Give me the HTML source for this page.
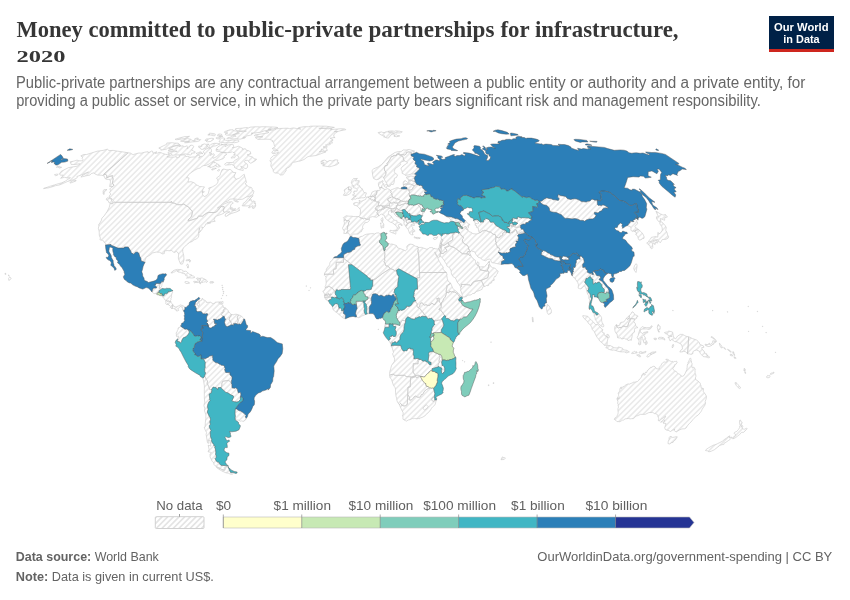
<!DOCTYPE html>
<html lang="en">
<head>
<meta charset="utf-8">
<title>Money committed to public-private partnerships for infrastructure, 2020</title>
<style>
html,body{margin:0;padding:0;background:#fff;}
body{width:850px;height:600px;overflow:hidden;font-family:"Liberation Sans",sans-serif;}
svg{display:block;will-change:transform;}
.title{font-family:"Liberation Serif",serif;font-weight:bold;fill:#363636;}
.sub{font-family:"Liberation Sans",sans-serif;fill:#666;}
.leg{font-family:"Liberation Sans",sans-serif;fill:#606060;font-size:13px;}
.foot{font-family:"Liberation Sans",sans-serif;fill:#636363;font-size:13px;}
.logo{font-family:"Liberation Sans",sans-serif;font-weight:bold;fill:#fff;font-size:11.5px;}
</style>
</head>
<body>
<svg width="850" height="600" viewBox="0 0 850 600">
<rect width="850" height="600" fill="#fff"/>
<!-- header -->
<text class="title" x="16.5" y="36.7" font-size="22.6" textLength="199.1" lengthAdjust="spacingAndGlyphs">Money committed to</text>
<text class="title" x="222.6" y="36.7" font-size="22.6" textLength="271.8" lengthAdjust="spacingAndGlyphs">public-private partnerships</text>
<text class="title" x="500.5" y="36.7" font-size="22.6" textLength="178.0" lengthAdjust="spacingAndGlyphs">for infrastructure,</text>
<text class="title" x="16.6" y="62.3" font-size="16" textLength="49" lengthAdjust="spacingAndGlyphs">2020</text>
<text class="sub" x="16.0" y="88" font-size="15.8" textLength="227.5" lengthAdjust="spacingAndGlyphs">Public-private partnerships are any</text>
<text class="sub" x="247.8" y="88" font-size="15.8" textLength="277.0" lengthAdjust="spacingAndGlyphs">contractual arrangement between a public</text>
<text class="sub" x="529.1" y="88" font-size="15.8" textLength="276.2" lengthAdjust="spacingAndGlyphs">entity or authority and a private entity, for</text>
<text class="sub" x="16.2" y="106" font-size="15.8" textLength="240.0" lengthAdjust="spacingAndGlyphs">providing a public asset or service, in</text>
<text class="sub" x="260.0" y="106" font-size="15.8" textLength="262.2" lengthAdjust="spacingAndGlyphs">which the private party bears significant</text>
<text class="sub" x="525.8" y="106" font-size="15.8" textLength="235.1" lengthAdjust="spacingAndGlyphs">risk and management responsibility.</text>
<!-- logo -->
<g>
<rect x="769" y="16" width="65" height="36" fill="#002147"/>
<rect x="769" y="49" width="65" height="3" fill="#ce261e"/>
<text class="logo" x="801.3" y="30.8" text-anchor="middle" textLength="54.5" lengthAdjust="spacingAndGlyphs">Our World</text>
<text class="logo" x="801.5" y="42.6" text-anchor="middle" textLength="36.3" lengthAdjust="spacingAndGlyphs">in Data</text>
</g>
<!-- map -->
<defs><path id="ndp" d="M110.3,203.8 L114.7,202.3 L170.9,202.3 L171.4,201.3 L171.8,202.8 L174.8,203.3 L177.2,204.6 L181.2,204.8 L183.7,204.1 L189.3,207.6 L189.7,208.7 L191.2,209.9 L192.5,211.7 L191.6,216.1 L190.4,217.7 L188.0,220.0 L188.5,221.0 L197.3,218.2 L197.8,216.9 L198.7,216.1 L202.7,216.1 L204.3,214.6 L206.9,213.0 L208.4,212.5 L215.0,212.5 L216.8,211.5 L218.3,210.2 L219.6,208.2 L221.9,206.2 L222.3,206.9 L223.9,206.5 L224.4,207.2 L223.2,210.7 L224.2,212.3 L224.1,213.0 L221.6,214.3 L219.1,215.1 L216.7,215.9 L215.2,217.4 L214.1,219.5 L214.3,220.8 L215.3,221.2 L213.0,221.6 L211.0,222.0 L208.8,222.3 L206.9,223.0 L210.2,222.6 L210.7,223.0 L207.5,223.8 L205.9,223.9 L204.8,226.2 L202.7,228.2 L201.9,226.7 L202.2,228.6 L201.9,229.6 L199.3,232.7 L199.0,232.6 L200.2,230.8 L199.4,229.9 L199.8,227.7 L199.1,228.8 L198.9,230.9 L198.3,233.3 L198.9,233.5 L198.9,234.4 L198.5,237.0 L196.5,239.0 L194.1,239.8 L192.3,241.4 L189.7,242.4 L186.4,245.0 L183.5,247.9 L182.7,249.7 L182.7,251.5 L183.7,255.5 L184.0,259.7 L183.2,262.5 L182.4,264.1 L180.6,264.1 L179.8,262.3 L179.0,260.2 L178.3,258.1 L178.7,253.9 L176.6,251.3 L174.1,252.6 L171.6,250.5 L169.2,250.8 L167.2,250.5 L164.4,251.0 L164.4,252.9 L164.3,253.6 L162.5,253.9 L159.7,252.3 L156.2,252.1 L152.7,252.9 L150.2,254.9 L146.3,257.3 L145.0,260.2 L145.1,262.3 L141.2,261.0 L140.8,258.1 L139.8,256.5 L138.7,253.1 L137.3,252.1 L135.5,252.2 L133.7,254.2 L131.0,252.6 L130.9,251.3 L128.2,247.0 L124.5,247.0 L124.1,248.1 L117.9,248.1 L110.6,245.0 L111.0,244.5 L105.5,245.0 L105.6,243.7 L103.8,241.9 L103.9,241.1 L102.3,240.3 L100.2,240.0 L100.0,239.5 L100.4,238.0 L99.3,235.3 L99.2,231.8 L98.9,230.4 L98.3,228.2 L99.0,226.0 L98.6,224.7 L100.1,222.6 L101.4,220.3 L101.9,218.2 L104.1,215.9 L105.7,213.5 L107.3,211.2 L109.1,207.6 L110.0,204.3ZM128.1,152.8 L124.0,152.1 L117.7,151.2 L113.1,150.4 L109.0,150.6 L107.4,149.2 L103.1,150.4 L97.2,151.2 L90.2,153.4 L86.6,154.5 L83.5,154.6 L80.8,155.8 L82.5,157.4 L82.2,158.6 L83.0,159.5 L82.5,160.8 L78.9,160.8 L77.1,160.1 L73.1,161.3 L70.1,161.8 L70.7,163.1 L71.2,164.5 L75.6,164.4 L79.2,163.8 L80.2,163.8 L77.2,166.2 L73.4,166.8 L68.6,167.6 L63.4,170.2 L61.0,171.5 L59.4,173.9 L60.4,175.2 L63.2,175.1 L62.1,176.8 L60.6,178.3 L64.5,177.3 L67.3,178.0 L70.4,177.7 L65.5,181.0 L61.9,182.8 L58.0,183.8 L54.5,184.9 L49.5,186.4 L43.5,188.7 L43.9,188.2 L47.8,188.0 L50.9,187.2 L55.5,185.7 L60.0,184.8 L67.7,181.4 L73.5,179.7 L77.2,177.8 L76.9,176.5 L81.8,174.8 L85.0,173.4 L86.4,172.7 L88.6,172.0 L82.0,175.8 L80.9,177.1 L86.1,175.8 L89.9,175.1 L91.3,173.5 L94.0,172.9 L94.9,173.9 L97.4,175.1 L101.2,175.2 L104.0,175.8 L105.2,178.7 L106.7,179.4 L109.8,179.4 L110.5,181.9 L109.6,186.5 L112.9,186.5 L114.1,185.0 L112.3,183.4 L112.9,180.6 L113.2,178.9 L112.6,177.8 L112.2,176.8 L112.6,175.6 L109.9,176.4 L106.8,177.7 L106.8,176.1 L106.6,175.1 L105.4,174.4 L103.6,174.4ZM73.1,182.1 L70.2,183.1 L70.0,182.3 L73.4,180.4 L76.0,180.2 L76.1,180.9ZM57.9,166.1 L58.3,166.6 L59.7,166.3 L60.2,167.0 L61.7,167.3 L61.2,167.5 L59.3,168.0 L58.5,167.5 L58.4,167.0 L56.5,167.3 L56.5,167.0ZM57.0,174.1 L58.2,174.4 L57.2,175.3 L55.7,175.7 L54.7,175.1 L54.6,174.6ZM9.6,280.1 L9.1,280.6 L8.7,280.1 L8.6,278.5 L9.7,277.0 L10.5,277.4 L11.1,278.5ZM8.3,275.1 L9.5,275.9 L9.2,276.1 L8.0,275.3ZM5.6,273.3 L6.0,274.3 L5.1,274.3 L4.9,273.5ZM114.7,202.3 L112.6,199.8 L111.9,198.7 L109.0,197.7 L109.5,195.5 L110.9,194.0 L109.5,192.7 L110.7,190.7 L109.8,189.0 L110.9,187.7 L112.9,186.5 L114.1,185.0 L112.3,183.4 L112.9,180.6 L113.2,178.9 L112.6,177.8 L112.2,176.8 L112.6,175.6 L109.9,176.4 L106.8,177.7 L106.8,176.1 L106.6,175.1 L105.4,174.4 L103.6,174.4 L128.1,152.8 L130.8,153.2 L132.1,154.3 L133.5,154.5 L136.1,153.7 L138.9,153.0 L141.1,153.2 L144.7,152.2 L148.1,151.7 L148.2,152.6 L149.9,152.1 L151.6,151.0 L152.5,151.2 L153.0,153.2 L156.9,151.8 L155.2,153.4 L157.6,153.1 L159.0,152.4 L160.8,152.6 L162.6,153.4 L165.5,154.3 L167.5,154.7 L169.3,154.5 L170.4,155.6 L166.9,156.8 L169.6,157.2 L174.4,157.0 L176.3,156.5 L176.8,157.9 L179.7,156.8 L178.8,155.9 L180.6,155.1 L182.8,155.0 L184.3,154.8 L185.3,155.3 L185.8,156.5 L187.9,156.3 L190.0,157.3 L192.9,157.0 L195.5,157.0 L196.3,155.6 L198.2,155.2 L200.2,156.0 L198.5,158.1 L201.0,156.3 L202.3,156.4 L204.9,154.2 L204.3,152.8 L203.0,151.9 L205.3,149.5 L208.7,148.0 L210.5,148.3 L211.3,149.3 L211.5,151.7 L209.1,152.8 L211.8,153.2 L210.0,155.5 L213.7,153.7 L214.5,155.2 L212.8,156.8 L213.3,158.3 L216.3,156.8 L218.9,154.8 L220.9,152.4 L223.1,152.6 L225.3,152.9 L226.7,154.0 L226.1,155.0 L224.0,156.2 L224.4,157.4 L223.3,158.6 L219.0,160.1 L216.3,160.5 L214.9,159.8 L213.7,160.9 L210.6,162.9 L209.4,163.8 L206.2,165.4 L203.6,165.6 L201.5,166.6 L200.3,168.1 L198.1,168.4 L194.5,170.3 L190.6,172.9 L188.7,174.8 L186.6,177.6 L189.1,178.0 L188.4,180.3 L188.1,182.1 L191.1,181.7 L193.9,182.7 L195.3,183.6 L196.0,184.8 L198.0,185.5 L199.5,186.5 L202.5,186.7 L204.5,186.9 L203.0,189.0 L202.4,191.5 L202.4,194.3 L204.2,196.7 L206.1,195.9 L208.4,193.3 L209.3,189.4 L208.6,188.1 L212.3,186.9 L215.3,185.2 L217.3,183.5 L218.0,181.9 L217.8,179.8 L216.5,178.0 L220.1,175.4 L220.6,173.3 L222.1,169.6 L223.7,169.0 L226.4,169.7 L228.1,169.9 L230.0,169.3 L231.2,170.1 L232.7,171.4 L232.8,172.4 L235.9,172.6 L234.8,174.6 L233.9,177.6 L235.4,178.0 L236.1,179.4 L239.5,178.0 L242.5,175.4 L244.3,174.3 L244.7,176.4 L245.7,179.5 L246.5,182.4 L245.1,184.0 L247.1,185.3 L248.3,186.8 L251.1,187.4 L252.1,188.2 L252.1,190.3 L253.5,190.6 L253.9,191.5 L253.1,194.3 L251.4,195.3 L249.6,196.2 L246.1,197.1 L242.9,199.1 L239.3,199.6 L235.2,199.0 L232.2,199.0 L230.1,199.2 L227.7,201.0 L224.8,202.1 L220.6,205.5 L217.4,207.9 L219.3,207.4 L223.8,204.1 L228.8,202.0 L231.9,201.7 L233.3,203.0 L230.8,204.7 L230.5,207.4 L230.5,209.3 L232.8,210.6 L236.3,210.3 L239.2,207.4 L238.8,209.2 L239.9,210.2 L236.8,211.8 L231.8,213.4 L229.4,214.4 L226.5,216.3 L225.0,216.1 L225.6,213.9 L229.9,211.8 L226.5,211.8 L224.2,212.3 L223.2,210.7 L224.4,207.2 L223.9,206.5 L222.3,206.9 L221.9,206.2 L219.6,208.2 L218.3,210.2 L216.8,211.5 L215.0,212.5 L208.4,212.5 L206.9,213.0 L204.3,214.6 L202.7,216.1 L198.7,216.1 L197.8,216.9 L197.3,218.2 L188.5,221.0 L188.0,220.0 L190.4,217.7 L191.6,216.1 L192.5,211.7 L191.2,209.9 L189.7,208.7 L189.3,207.6 L183.7,204.1 L181.2,204.8 L177.2,204.6 L174.8,203.3 L171.8,202.8 L171.4,201.3 L170.9,202.3ZM112.9,203.6 L111.7,203.8 L108.9,202.8 L109.0,201.8 L107.8,201.0 L108.0,200.3 L106.3,199.8 L106.5,198.5 L107.1,197.8 L108.8,198.4 L109.7,198.7 L111.4,199.0 L111.5,199.9 L111.7,201.0 L113.0,202.1ZM104.9,189.7 L107.0,189.5 L104.1,192.2 L104.2,194.3 L103.4,194.3 L103.1,193.1 L103.3,192.0 L103.0,191.2 L103.6,190.1 L104.3,189.3ZM251.0,198.0 L249.0,200.3 L250.6,199.4 L251.7,199.9 L250.8,200.8 L252.3,201.5 L253.5,200.9 L255.2,201.7 L254.1,203.5 L255.6,203.1 L255.5,204.4 L255.7,206.0 L254.2,208.3 L253.3,208.4 L252.1,207.9 L253.1,205.8 L252.6,205.5 L249.6,207.7 L248.4,207.6 L250.2,206.4 L248.4,205.8 L246.2,205.9 L242.3,205.9 L242.2,205.1 L243.7,204.2 L243.1,203.5 L245.2,202.0 L248.6,197.9 L250.3,196.5 L252.3,195.7 L253.2,195.8 L252.6,196.4ZM232.5,208.5 L233.8,208.9 L235.8,208.8 L234.4,209.9 L233.6,210.0 L231.3,209.0 L231.1,208.1 L232.1,207.3 L232.5,208.5ZM238.3,202.0 L237.3,202.1 L235.0,201.3 L233.6,200.1 L234.3,199.9 L236.7,200.5 L238.4,201.6ZM214.6,161.8 L214.2,162.8 L215.4,162.5 L216.0,163.1 L217.4,163.9 L218.9,164.6 L218.4,165.7 L219.8,165.5 L220.6,166.3 L218.5,167.0 L216.1,166.5 L215.8,165.4 L213.2,166.7 L209.9,167.9 L210.2,166.5 L207.6,166.7 L209.9,165.6 L211.4,163.8 L213.5,161.6ZM220.7,144.0 L222.7,144.6 L227.3,144.0 L225.0,145.4 L225.1,146.7 L228.0,145.0 L232.8,144.1 L233.7,146.3 L232.4,147.7 L236.0,147.1 L238.2,146.2 L241.0,147.3 L242.5,148.3 L242.0,149.2 L245.4,148.7 L246.1,150.1 L249.5,151.0 L250.4,151.9 L250.8,153.9 L247.1,154.9 L250.2,156.4 L252.6,156.9 L254.0,158.9 L256.6,159.1 L255.3,160.7 L250.8,163.3 L249.2,162.3 L247.6,160.2 L245.2,160.5 L244.3,161.8 L245.4,163.1 L247.2,164.1 L247.6,164.8 L247.6,167.1 L246.1,168.8 L244.2,168.1 L240.7,166.2 L242.2,168.3 L243.3,169.7 L243.2,170.5 L238.8,169.6 L235.7,168.2 L234.1,167.0 L235.1,166.4 L233.1,165.2 L231.2,164.1 L230.9,164.7 L225.5,165.1 L224.5,164.3 L226.7,162.6 L230.1,162.6 L233.8,162.3 L233.7,161.5 L235.0,160.3 L238.6,158.2 L238.8,157.1 L238.6,156.4 L236.7,155.3 L233.7,154.6 L235.2,154.0 L234.4,152.6 L233.0,152.5 L232.2,151.7 L230.9,152.4 L227.6,152.7 L222.0,152.2 L218.9,151.5 L216.5,151.2 L215.8,150.5 L218.3,149.5 L216.0,149.5 L217.4,147.3 L220.3,145.4 L222.7,144.6ZM187.0,148.6 L188.8,147.7 L190.0,145.5 L191.7,145.2 L192.9,145.5 L193.8,146.4 L192.7,148.4 L191.7,150.0 L193.4,151.0 L195.4,152.1 L194.4,153.0 L191.5,153.2 L191.8,154.1 L190.5,154.9 L187.8,154.5 L185.4,153.9 L183.4,154.1 L179.5,154.8 L174.9,155.1 L171.7,155.3 L171.8,154.3 L170.1,153.7 L168.4,153.9 L168.1,152.2 L169.5,152.0 L172.4,151.6 L174.7,151.7 L177.2,151.3 L174.6,150.8 L170.9,151.0 L168.6,150.9 L168.6,150.1 L173.3,149.3 L170.8,149.3 L168.6,148.7 L171.8,147.2 L173.9,146.3 L179.7,145.0 L180.8,145.4 L178.9,146.4 L183.2,145.8 L184.2,146.9 L187.2,145.8 L187.9,146.5 L187.0,148.6ZM158.8,148.1 L160.6,147.2 L163.6,145.7 L166.7,144.3 L166.8,143.0 L172.5,142.7 L174.2,143.1 L178.1,143.2 L178.9,143.8 L179.6,144.7 L176.9,145.2 L171.3,146.7 L167.5,148.2 L166.4,149.1 L160.9,150.2 L161.2,149.2 L158.8,148.1ZM204.4,143.9 L205.9,144.4 L208.9,144.1 L208.8,144.7 L206.3,145.7 L207.8,146.6 L205.7,148.5 L202.3,149.4 L200.9,149.2 L200.5,148.4 L198.1,146.7 L198.8,146.1 L201.9,146.3 L201.5,144.9 L204.4,143.9ZM213.6,146.2 L210.4,147.8 L208.6,147.7 L209.4,145.8 L210.4,144.8 L212.1,143.9 L214.3,143.3 L217.5,143.4 L220.0,143.9 L215.9,145.8 L213.6,146.2ZM219.0,141.9 L219.6,140.8 L220.4,139.8 L219.8,138.9 L216.9,138.7 L215.9,138.1 L217.4,137.3 L220.4,137.4 L221.3,138.0 L224.3,138.0 L224.9,138.7 L223.8,139.4 L225.1,139.8 L225.5,140.3 L227.5,140.4 L229.6,140.6 L232.5,140.1 L235.8,140.0 L238.1,140.1 L239.1,140.9 L238.7,141.7 L237.3,142.2 L234.6,142.7 L232.8,142.5 L228.0,142.8 L224.7,142.8 L222.5,142.5 L219.0,141.9ZM269.6,126.9 L273.1,127.0 L275.8,127.2 L278.0,127.6 L277.5,128.0 L273.5,128.7 L269.9,129.0 L268.2,129.4 L271.3,129.4 L267.1,130.4 L264.3,130.8 L260.5,132.3 L257.2,132.6 L255.9,132.9 L251.3,133.2 L253.1,133.4 L251.7,133.7 L252.0,134.6 L250.0,135.3 L247.2,135.8 L245.7,136.6 L243.0,137.2 L242.8,137.6 L245.5,137.5 L245.1,138.0 L239.9,139.2 L236.4,138.7 L231.7,139.0 L229.6,138.7 L226.9,138.6 L227.7,137.7 L230.9,137.2 L231.7,135.8 L232.8,135.7 L235.9,136.5 L235.2,135.3 L233.2,134.9 L235.2,134.2 L238.3,133.8 L239.5,133.1 L238.3,132.4 L238.7,131.5 L242.6,131.5 L243.5,131.7 L246.4,131.1 L243.4,130.9 L238.3,131.0 L236.5,130.4 L236.2,129.8 L235.1,129.3 L235.5,128.7 L238.0,128.4 L239.7,128.4 L242.8,128.1 L245.5,127.6 L247.1,127.6 L248.1,128.1 L250.1,127.2 L252.2,127.0 L254.9,126.8 L259.1,126.8 L259.6,126.9 L263.9,126.7 L266.7,126.8 L269.6,126.9ZM231.4,135.1 L228.7,135.2 L225.9,135.0 L225.2,134.2 L226.1,133.5 L227.9,133.0 L225.2,133.1 L224.4,132.4 L224.6,131.6 L226.5,130.9 L228.2,130.3 L229.8,130.2 L229.7,129.8 L233.1,129.8 L233.7,130.7 L235.7,131.0 L237.6,131.3 L237.4,132.5 L238.4,133.1 L235.8,133.7 L231.4,135.1ZM209.7,133.2 L212.2,133.4 L215.3,134.1 L215.2,135.0 L214.8,135.8 L212.6,135.6 L211.0,135.0 L207.8,134.9 L210.0,134.4 L208.8,133.9 L209.7,133.2ZM197.1,138.0 L198.4,138.2 L197.7,139.1 L197.4,139.8 L199.2,139.5 L200.7,139.6 L199.8,140.6 L197.7,141.5 L192.0,141.9 L187.1,142.7 L184.6,142.8 L185.2,142.1 L189.6,141.2 L182.2,141.5 L180.5,141.1 L185.3,139.1 L187.5,138.6 L190.8,139.3 L192.1,140.4 L194.5,140.6 L194.8,138.7 L197.1,138.0ZM213.9,139.0 L212.7,140.1 L210.4,141.5 L207.6,141.8 L206.3,141.4 L207.6,140.3 L204.9,140.4 L206.6,138.9 L208.2,138.9 L211.3,138.3 L213.3,138.4 L213.9,139.0ZM189.5,136.3 L187.1,137.8 L185.0,138.5 L183.4,138.6 L179.4,139.4 L176.5,139.7 L175.1,139.3 L179.8,137.9 L184.7,136.6 L187.0,136.6 L189.5,136.3ZM218.6,134.0 L220.4,134.1 L221.2,134.2 L222.1,134.8 L220.8,135.5 L218.1,135.9 L217.5,135.5 L217.8,134.8 L218.6,134.0ZM222.6,136.6 L221.8,136.6 L219.2,136.5 L219.4,136.0 L222.4,136.0 L223.0,136.4ZM202.6,154.1 L202.2,153.2 L199.2,154.2 L197.6,154.4 L196.2,153.4 L198.2,152.8 L200.2,151.8 L201.5,152.4 L202.1,152.8 L202.6,154.1ZM233.2,157.7 L231.2,158.1 L231.2,157.5 L232.8,156.2 L234.5,155.9 L235.4,156.5 L234.8,157.5 L234.4,157.8 L233.2,157.7ZM215.8,168.7 L216.1,168.2 L212.9,170.0 L211.7,169.9 L211.7,169.3 L213.7,168.2 L216.2,168.2ZM218.9,169.4 L219.8,170.0 L218.3,171.2 L217.7,171.0 L217.6,170.3 L218.9,169.4ZM204.5,191.7 L203.7,192.5 L202.2,192.3 L202.1,191.7 L203.6,191.5ZM152.0,292.0 L152.1,291.2 L152.4,290.6 L152.2,290.1 L153.5,288.0 L156.4,288.0 L156.6,287.1 L154.5,284.9 L155.6,284.9 L155.8,283.4 L157.8,283.4 L160.0,283.5 L159.7,285.5 L159.2,288.4 L159.9,288.4 L160.6,288.9 L160.8,288.5 L161.5,288.9 L160.3,289.9 L159.1,290.6 L158.9,291.1 L159.0,291.6 L158.5,292.3 L158.0,292.4 L158.1,292.8 L157.6,293.0 L156.8,293.7 L156.6,294.1 L155.5,293.6 L154.1,293.6 L153.1,293.0ZM160.0,283.5 L160.7,283.2 L161.7,281.6 L162.1,281.6 L162.1,282.0 L162.5,282.0 L162.4,282.7 L161.9,283.9 L162.0,284.3 L161.7,285.2 L161.8,285.4 L161.4,286.8 L160.9,287.5 L160.4,287.6 L159.9,288.4 L159.2,288.4 L159.7,285.5ZM166.1,301.0 L165.4,300.2 L164.4,299.1 L163.9,298.3 L163.0,297.4 L162.0,296.2 L162.3,295.8 L162.6,296.2 L162.8,296.1 L163.6,295.9 L163.9,295.4 L164.2,295.3 L164.3,294.0 L164.8,294.0 L165.3,294.0 L165.9,293.3 L166.5,293.8 L166.8,293.5 L167.2,293.2 L168.1,292.5 L168.2,291.9 L168.4,292.0 L168.7,291.3 L169.0,291.2 L169.3,291.6 L169.8,291.8 L170.3,291.4 L170.9,291.4 L171.7,291.1 L172.1,290.7 L172.8,290.8 L172.6,291.0 L172.5,291.6 L172.6,292.6 L172.0,293.5 L171.7,294.5 L171.5,295.7 L171.6,296.3 L171.5,297.5 L171.1,297.8 L170.8,298.9 L171.0,299.6 L170.4,300.3 L170.5,301.0 L170.8,301.4 L170.2,301.9 L169.6,301.8 L169.2,301.2 L168.5,301.0 L168.0,301.4 L166.5,300.7ZM172.0,308.5 L170.8,307.9 L170.3,307.4 L170.6,306.9 L170.6,306.3 L170.0,305.7 L169.1,305.2 L168.3,304.8 L168.2,304.1 L167.6,303.6 L167.7,304.4 L167.2,305.0 L166.7,304.3 L166.0,304.0 L165.7,303.5 L165.8,302.7 L166.2,301.9 L165.6,301.5 L166.1,301.0 L166.5,300.7 L168.0,301.4 L168.5,301.0 L169.2,301.2 L169.6,301.8 L170.2,301.9 L170.8,301.4 L171.3,302.8 L172.1,303.8 L173.1,305.0 L172.2,305.2 L172.2,306.3 L172.6,306.6 L172.3,307.0 L172.3,307.4 L172.1,308.0ZM183.6,311.1 L182.8,310.4 L182.4,308.9 L183.0,308.2 L182.4,308.1 L182.0,307.2 L180.9,306.5 L179.9,306.6 L179.4,307.6 L178.5,308.2 L177.9,308.3 L177.7,308.8 L178.7,310.3 L178.1,310.6 L177.7,311.0 L176.6,311.1 L176.3,309.6 L176.0,310.0 L175.2,309.8 L174.8,308.8 L173.9,308.6 L173.3,308.3 L172.3,308.3 L172.2,308.9 L172.0,308.5 L172.1,308.0 L172.3,307.4 L172.3,307.0 L172.6,306.6 L172.2,306.3 L172.2,305.2 L173.1,305.0 L173.9,305.9 L173.8,306.5 L174.7,306.6 L175.0,306.4 L175.6,307.0 L176.7,306.8 L177.7,306.2 L179.2,305.7 L180.0,304.9 L181.2,305.0 L181.1,305.3 L182.4,305.4 L183.4,305.8 L184.1,306.6 L185.0,307.3 L184.7,307.7 L185.1,309.2 L184.7,310.0 L183.9,309.8ZM177.4,269.4 L179.4,269.5 L181.1,269.6 L183.1,270.5 L183.9,271.4 L186.0,271.1 L186.8,271.7 L188.5,273.4 L189.8,274.5 L190.5,274.5 L191.8,275.0 L191.5,275.8 L193.2,275.9 L194.8,277.0 L194.4,277.6 L192.9,277.9 L191.4,278.0 L189.8,277.8 L186.5,278.1 L188.2,276.6 L187.4,275.9 L185.9,275.8 L185.3,275.0 L184.9,273.5 L183.6,273.6 L181.6,272.9 L181.0,272.4 L178.1,272.0 L177.4,271.4 L178.3,270.8 L176.1,270.7 L174.3,272.0 L173.4,272.1 L173.0,272.7 L171.8,273.0 L170.9,272.7 L172.2,271.9 L172.8,271.0 L173.9,270.4 L175.1,269.9ZM196.9,277.9 L200.2,278.5 L200.3,279.9 L200.0,280.9 L199.4,281.3 L199.9,282.1 L199.7,282.8 L198.3,282.4 L197.2,282.5 L195.8,282.4 L194.7,282.9 L193.6,282.0 L193.9,281.2 L195.9,281.5 L197.6,281.8 L198.5,281.2 L197.6,280.1 L197.7,279.1 L196.3,278.6ZM200.2,278.5 L200.5,278.0 L202.3,278.0 L203.6,278.7 L204.2,278.6 L204.5,279.6 L205.8,279.5 L205.6,280.3 L206.6,280.4 L207.6,281.3 L206.7,282.4 L205.7,281.8 L204.6,281.9 L203.9,281.8 L203.4,282.3 L202.5,282.5 L202.2,281.8 L201.4,282.2 L200.3,284.0 L199.8,283.6 L199.7,282.8 L199.9,282.1 L199.4,281.3 L200.0,280.9 L200.3,279.9ZM186.5,281.6 L188.0,281.9 L189.2,282.5 L189.5,283.2 L187.9,283.3 L187.1,283.7 L185.9,283.3 L184.7,282.3 L185.0,281.8ZM212.2,281.6 L213.4,281.8 L213.7,282.3 L213.1,283.0 L211.4,283.0 L210.0,283.1 L210.0,282.0 L210.4,281.6ZM188.3,267.9 L187.7,268.0 L187.4,266.5 L186.6,265.7 L187.3,264.1 L188.0,264.2 L188.5,266.4ZM188.8,260.5 L186.2,260.9 L186.3,259.9 L187.3,259.7 L188.8,259.8ZM190.6,260.5 L189.9,262.3 L189.5,262.0 L189.8,260.6 L189.0,259.6 L189.0,259.3ZM221.3,301.9 L222.6,301.5 L223.1,301.6 L222.9,303.6 L221.0,303.8 L220.6,303.6 L221.3,302.9ZM298.7,127.6 L303.9,126.7 L308.6,126.7 L310.7,126.2 L315.6,126.1 L326.3,126.2 L334.4,127.4 L331.7,128.0 L326.3,128.1 L318.8,128.2 L319.4,128.5 L324.4,128.4 L328.4,128.9 L331.2,128.4 L332.2,129.0 L330.4,129.9 L334.1,129.3 L341.1,128.7 L345.2,129.0 L345.8,129.7 L339.8,130.9 L339.0,131.3 L334.3,131.6 L337.6,131.7 L335.6,133.0 L334.1,134.2 L333.6,136.3 L335.1,137.6 L332.7,137.7 L330.1,138.3 L332.7,139.3 L332.6,141.0 L330.9,141.2 L332.6,143.0 L329.1,143.2 L330.7,144.0 L330.0,144.7 L327.7,145.0 L325.5,145.0 L327.2,146.5 L327.0,147.4 L324.0,146.5 L323.0,147.1 L325.1,147.6 L326.9,148.9 L327.2,150.7 L324.1,151.1 L323.1,150.3 L321.3,149.0 L321.6,150.5 L319.4,151.6 L323.7,151.7 L326.0,151.8 L321.1,153.7 L316.1,155.5 L311.0,156.2 L309.1,156.3 L307.1,157.1 L304.1,159.5 L299.9,161.1 L298.6,161.2 L296.1,161.8 L293.5,162.3 L291.5,163.7 L291.0,165.3 L289.6,166.9 L286.0,168.7 L286.2,170.6 L284.7,172.5 L283.1,174.8 L280.4,175.0 L278.4,173.1 L274.7,173.0 L273.4,171.7 L273.0,169.4 L271.1,166.5 L270.8,165.0 L271.4,162.9 L269.9,160.8 L271.3,159.1 L270.5,158.4 L273.4,155.7 L276.3,154.9 L277.4,154.0 L278.5,152.3 L276.2,153.1 L275.2,153.4 L273.5,153.7 L271.8,153.0 L272.4,151.5 L273.7,150.3 L275.2,150.3 L278.3,150.9 L276.1,149.5 L275.1,148.8 L273.3,149.1 L272.2,148.6 L275.1,146.6 L274.5,145.8 L274.1,144.3 L273.5,142.1 L272.0,141.3 L272.6,140.5 L269.3,139.3 L266.1,139.2 L262.0,139.3 L258.1,139.4 L256.9,138.8 L255.3,137.6 L259.7,137.0 L262.9,136.8 L256.9,136.3 L254.2,135.6 L255.1,134.8 L261.5,133.9 L267.7,133.0 L268.9,132.3 L265.6,131.7 L267.4,131.0 L273.4,129.8 L275.6,129.7 L275.6,128.9 L279.3,128.5 L283.8,128.3 L288.1,128.2 L289.2,128.7 L293.5,127.9 L296.4,128.5 L298.3,128.6 L300.8,129.1 L298.1,128.2ZM337.9,160.0 L337.4,161.5 L339.1,163.0 L336.7,164.8 L331.3,166.4 L329.7,166.8 L327.5,166.5 L322.6,165.7 L324.5,164.7 L320.9,163.6 L324.1,163.2 L324.1,162.5 L320.6,161.9 L322.1,160.5 L324.7,160.1 L327.2,161.7 L330.0,160.4 L332.1,161.1 L335.1,159.8ZM199.3,299.2 L199.2,299.8 L197.8,300.1 L198.5,301.3 L198.4,302.7 L197.3,304.2 L198.0,306.3 L199.0,306.1 L199.6,304.2 L199.0,303.3 L199.0,301.3 L201.9,300.2 L201.7,299.0 L202.5,298.2 L203.2,300.0 L204.8,300.1 L206.2,301.5 L206.3,302.4 L208.3,302.4 L210.8,302.2 L212.1,303.3 L213.8,303.6 L215.1,302.8 L215.2,302.2 L218.0,302.0 L220.8,302.0 L218.8,302.8 L219.5,304.0 L221.4,304.2 L223.1,305.5 L223.3,307.6 L224.5,307.5 L225.4,308.1 L223.5,309.7 L223.3,310.6 L224.1,311.6 L223.5,312.1 L222.0,312.5 L222.1,313.7 L221.4,314.4 L222.9,316.4 L221.3,318.2 L219.7,319.1 L218.1,319.5 L217.4,320.1 L215.6,319.5 L213.9,319.1 L213.4,319.4 L214.4,320.1 L214.3,321.8 L214.6,323.5 L216.6,323.7 L216.7,324.2 L215.0,325.0 L214.7,326.1 L213.8,326.5 L212.1,327.1 L211.6,327.9 L209.8,328.1 L208.5,326.7 L207.9,324.1 L207.3,323.2 L206.4,322.6 L207.6,321.3 L207.6,320.7 L206.9,320.0 L206.5,318.2 L206.8,316.3 L207.3,315.5 L207.8,314.0 L206.9,313.6 L205.6,313.9 L204.0,313.8 L203.0,314.0 L201.5,311.8 L200.2,311.5 L197.2,311.7 L196.7,310.8 L196.1,310.6 L196.1,310.0 L196.4,309.1 L196.2,308.0 L195.8,307.4 L195.5,306.2 L194.3,306.1 L195.0,304.5 L195.4,302.7 L196.2,301.7 L197.1,300.9 L197.8,299.6ZM225.4,308.1 L226.9,309.1 L228.3,310.8 L228.3,312.1 L229.2,312.2 L230.4,313.5 L231.2,314.4 L230.8,316.7 L229.4,317.4 L229.5,318.0 L229.1,319.4 L230.0,321.3 L230.8,321.3 L231.0,322.8 L232.4,325.0 L231.0,324.8 L230.7,324.9 L229.8,325.6 L228.8,326.1 L228.0,326.2 L227.8,326.7 L226.7,326.5 L225.2,325.3 L225.1,324.1 L224.5,322.8 L224.9,320.6 L225.6,319.6 L225.1,318.4 L224.3,318.0 L224.6,316.9 L224.1,316.3 L222.9,316.4 L221.4,314.4 L222.1,313.7 L222.0,312.5 L223.5,312.1 L224.1,311.6 L223.3,310.6 L223.5,309.7ZM231.2,314.4 L234.0,314.9 L234.3,314.4 L236.1,314.2 L238.6,314.9 L237.3,317.2 L237.5,319.0 L238.3,320.5 L237.9,321.7 L237.7,322.9 L237.1,324.0 L235.8,323.4 L234.7,323.7 L233.8,323.4 L233.5,324.2 L233.9,324.7 L233.7,325.2 L232.4,325.0 L231.0,322.8 L230.8,321.3 L230.0,321.3 L229.1,319.4 L229.5,318.0 L229.4,317.4 L230.8,316.7ZM238.6,314.9 L241.0,315.9 L243.4,318.0 L243.8,319.1 L243.4,320.6 L241.6,323.5 L240.7,324.5 L239.6,324.6 L239.3,323.9 L238.8,323.8 L238.1,324.5 L237.1,324.0 L237.7,322.9 L237.9,321.7 L238.3,320.5 L237.5,319.0 L237.3,317.2ZM177.6,338.9 L178.8,337.0 L178.3,335.8 L177.4,337.0 L176.0,335.9 L176.5,335.2 L176.1,332.8 L176.9,332.4 L177.3,330.7 L178.2,329.1 L178.0,328.0 L179.3,327.4 L180.9,326.4 L183.2,327.9 L183.6,327.8 L184.2,329.0 L186.1,329.3 L186.8,328.9 L187.9,329.8 L188.9,330.4 L189.2,332.4 L188.5,334.1 L186.0,336.8 L183.3,337.8 L181.9,340.1 L181.6,341.9 L180.3,343.0 L179.3,341.6 L178.3,341.4 L177.4,341.6 L177.3,340.6 L177.9,340.0ZM203.3,358.6 L205.3,358.8 L206.6,358.0 L208.6,357.0 L209.7,356.0 L212.7,355.5 L212.6,357.5 L212.9,358.5 L212.8,360.3 L215.5,362.6 L218.1,363.0 L219.0,364.0 L220.6,364.5 L221.6,365.3 L223.1,365.3 L224.4,366.0 L224.6,367.5 L225.1,368.3 L225.2,369.4 L224.6,369.5 L225.7,372.5 L230.1,372.6 L229.8,374.1 L230.2,375.2 L231.5,375.9 L232.1,377.5 L231.9,379.6 L231.4,380.7 L231.7,382.2 L231.1,382.8 L231.0,382.0 L228.7,380.6 L226.6,380.6 L222.7,381.3 L221.8,383.6 L221.9,385.0 L221.3,388.2 L220.9,387.6 L218.3,387.5 L217.7,389.6 L216.2,387.7 L213.1,387.1 L211.5,389.5 L209.9,389.8 L208.6,386.2 L207.1,383.3 L207.6,380.8 L206.2,379.6 L205.7,377.8 L204.5,376.0 L205.6,373.1 L204.5,371.0 L204.9,370.1 L204.4,369.1 L205.2,367.8 L205.1,365.6 L205.1,363.7 L205.5,362.8ZM221.3,388.2 L221.9,385.0 L221.8,383.6 L222.7,381.3 L226.6,380.6 L228.7,380.6 L231.0,382.0 L231.1,382.8 L231.9,384.2 L232.0,387.8 L234.5,388.3 L235.4,387.8 L236.9,388.5 L237.4,389.3 L237.9,391.6 L238.2,392.7 L239.1,392.8 L239.9,392.3 L240.7,392.8 L240.9,394.3 L240.7,395.8 L240.4,397.3 L240.3,399.6 L238.5,401.6 L236.8,402.0 L234.3,401.7 L231.9,400.9 L233.7,396.9 L233.2,395.8 L230.8,394.8 L227.8,392.8 L225.9,392.4 L221.3,388.2ZM235.3,409.0 L236.7,409.0 L239.2,410.8 L240.0,410.7 L242.6,412.3 L244.5,413.8 L246.1,415.6 L245.3,416.8 L246.2,418.3 L245.5,420.0 L243.3,421.4 L241.6,420.9 L240.5,421.2 L238.3,420.0 L236.8,420.1 L235.2,418.7 L235.1,417.0 L235.4,416.4 L235.0,413.8 L235.1,411.1ZM204.5,376.0 L205.7,377.8 L206.2,379.6 L207.6,380.8 L207.1,383.3 L208.6,386.2 L209.9,389.8 L211.5,389.5 L211.8,390.1 L211.4,392.8 L209.1,394.1 L209.7,398.5 L209.4,399.3 L210.2,400.3 L208.9,402.0 L207.8,404.4 L207.5,406.8 L208.1,409.3 L207.3,412.0 L209.3,416.5 L209.9,417.0 L210.5,419.4 L209.8,422.0 L210.4,424.2 L209.2,425.9 L209.8,428.3 L211.2,430.8 L210.2,431.7 L210.3,434.1 L210.5,436.7 L211.9,439.9 L211.2,440.4 L212.7,443.4 L214.0,444.4 L213.7,445.5 L214.8,446.0 L215.4,446.9 L214.6,447.4 L215.4,448.9 L215.8,452.3 L215.6,454.5 L216.3,455.8 L216.2,457.4 L215.1,458.5 L216.4,461.2 L217.5,462.1 L218.7,462.0 L219.5,463.8 L220.9,465.3 L225.8,465.6 L227.8,466.0 L226.1,466.0 L225.4,466.6 L224.0,467.5 L224.7,469.8 L223.9,469.9 L221.3,469.1 L218.3,467.4 L215.2,465.9 L213.9,464.3 L213.8,462.9 L212.1,461.2 L210.1,456.9 L210.0,454.4 L211.4,452.5 L208.0,451.7 L209.1,449.4 L208.2,445.2 L210.9,446.1 L210.1,440.7 L208.5,440.1 L208.9,443.3 L207.5,442.9 L206.9,439.2 L206.1,434.4 L206.6,432.6 L205.2,430.1 L204.2,427.2 L205.1,427.1 L205.3,422.9 L205.8,418.7 L205.9,414.8 L204.5,410.9 L204.8,408.7 L203.9,405.5 L204.7,402.3 L204.3,397.2 L204.3,391.8 L204.4,385.9 L203.7,381.7 L202.9,378.0 L204.0,377.3ZM228.1,466.9 L230.5,472.4 L232.5,472.4 L233.7,472.5 L233.5,473.5 L232.2,474.3 L231.2,474.2 L230.0,474.0 L228.3,473.2 L226.1,472.9 L223.0,471.5 L220.4,470.2 L216.4,467.4 L218.3,467.9 L221.8,469.6 L224.8,470.4 L225.3,469.3 L225.2,467.6 L226.5,466.6ZM409.1,149.5 L414.7,151.1 L412.7,151.7 L414.9,153.1 L412.3,154.0 L411.0,154.2 L411.3,152.6 L408.9,151.8 L406.5,152.5 L406.1,154.1 L404.7,155.1 L402.8,154.6 L400.6,154.7 L398.5,153.5 L397.6,154.1 L396.6,154.2 L396.6,155.6 L393.4,155.3 L393.1,156.5 L391.5,156.5 L390.6,158.1 L389.2,160.6 L386.8,163.8 L387.6,164.6 L387.1,165.5 L385.3,165.5 L384.3,167.7 L384.7,170.8 L386.0,172.0 L385.7,174.8 L384.3,176.5 L383.6,177.8 L382.2,176.4 L378.7,179.2 L376.2,179.7 L373.6,178.5 L372.8,175.9 L372.0,170.4 L373.6,168.9 L378.2,166.9 L381.6,164.5 L384.5,161.3 L388.1,157.0 L390.7,155.3 L394.9,152.5 L398.4,151.5 L401.1,151.7 L403.2,149.9 L406.2,150.0ZM399.8,135.9 L396.7,136.7 L393.9,136.3 L394.8,135.8 L393.8,135.2 L396.7,134.8 L397.5,135.5ZM389.3,132.4 L394.5,133.8 L391.0,134.6 L390.5,136.0 L389.3,136.3 L388.9,137.9 L387.1,138.0 L383.6,136.8 L384.9,136.1 L382.6,135.6 L379.4,134.0 L378.1,132.5 L381.9,131.9 L382.8,132.5 L384.9,132.5 L385.3,131.9 L387.4,131.8ZM399.3,131.2 L402.3,131.8 L400.5,132.8 L396.4,133.0 L392.0,132.7 L391.6,132.2 L389.6,132.1 L387.8,131.3 L392.1,130.9 L394.3,131.3 L395.5,130.8ZM401.6,161.7 L400.2,163.3 L400.7,164.7 L398.2,166.6 L395.1,168.6 L394.2,171.9 L395.7,173.6 L397.6,174.9 L396.3,177.6 L394.4,178.2 L394.2,182.2 L393.3,184.5 L391.0,184.3 L390.1,186.2 L387.9,186.4 L387.1,184.0 L385.3,181.3 L383.6,177.8 L384.3,176.5 L385.7,174.8 L386.0,172.0 L384.7,170.8 L384.3,167.7 L385.3,165.5 L387.1,165.5 L387.6,164.6 L386.8,163.8 L389.2,160.6 L390.6,158.1 L391.5,156.5 L393.1,156.5 L393.4,155.3 L396.6,155.6 L396.6,154.2 L397.6,154.1 L400.1,155.2 L403.0,156.7 L403.7,160.1 L404.5,161.0ZM411.0,154.2 L411.1,155.7 L414.1,157.2 L412.9,158.9 L415.6,161.5 L414.9,163.5 L416.9,165.2 L416.5,166.7 L419.5,168.3 L419.1,169.5 L417.8,170.9 L414.5,173.9 L411.2,174.1 L408.2,174.9 L405.2,175.4 L404.0,174.1 L402.1,173.4 L402.1,171.0 L400.9,168.9 L401.5,167.5 L402.9,166.1 L406.4,163.6 L407.5,163.1 L407.1,162.1 L404.5,161.0 L403.7,160.1 L403.0,156.7 L400.1,155.2 L397.6,154.1 L398.5,153.5 L400.6,154.7 L402.8,154.6 L404.7,155.1 L406.1,154.1 L406.5,152.5 L408.9,151.8 L411.3,152.6ZM387.4,185.7 L386.4,187.7 L384.2,186.4 L383.9,185.3 L386.6,184.5ZM383.8,183.7 L383.4,184.6 L382.8,184.3 L381.5,186.1 L382.1,187.3 L380.9,187.7 L379.5,187.3 L378.6,186.0 L378.4,183.5 L378.7,182.8 L379.2,182.1 L380.8,181.9 L381.5,181.2 L382.9,180.6 L383.0,181.8 L382.5,182.6 L382.7,183.3ZM352.0,188.4 L350.9,190.1 L349.5,189.6 L348.3,189.6 L348.7,188.2 L348.4,186.9 L350.0,186.8ZM357.4,178.4 L355.3,181.0 L357.2,180.7 L359.3,180.7 L358.8,182.7 L357.0,184.9 L359.0,185.0 L360.9,188.2 L362.2,188.6 L363.4,191.4 L363.9,192.4 L366.3,192.9 L366.1,194.5 L365.1,195.2 L365.9,196.5 L364.1,197.8 L361.4,197.8 L358.0,198.5 L357.1,198.0 L355.8,199.2 L353.9,198.9 L352.5,199.9 L351.4,199.4 L354.4,196.7 L356.2,196.2 L353.1,195.8 L352.6,194.7 L354.7,194.0 L353.6,192.6 L354.1,191.0 L357.0,191.2 L357.3,189.8 L356.0,188.2 L353.6,187.8 L353.2,187.1 L353.9,186.0 L353.3,185.3 L352.2,186.5 L352.2,184.1 L351.3,182.9 L352.1,180.3 L353.6,178.4 L355.1,178.6ZM350.9,190.1 L351.2,191.8 L349.6,194.1 L346.0,195.6 L343.3,195.2 L345.0,192.6 L344.1,190.0 L346.9,188.1 L348.4,186.9 L348.7,188.2 L348.3,189.6 L349.5,189.6ZM383.1,219.9 L382.5,221.9 L381.5,221.3 L381.0,219.6 L381.4,218.6 L382.7,217.6ZM370.2,198.8 L371.6,200.0 L372.6,199.8 L374.4,200.9 L374.9,201.2 L375.5,201.1 L376.4,201.8 L379.3,202.2 L378.4,204.0 L378.2,205.8 L377.7,206.2 L376.7,206.0 L376.8,206.6 L375.4,208.1 L375.4,209.3 L376.3,208.8 L377.1,210.0 L377.0,210.7 L377.7,211.7 L377.0,212.4 L377.6,214.4 L378.7,214.8 L378.5,215.9 L376.7,217.3 L372.5,216.6 L369.5,217.5 L369.3,219.0 L366.8,219.4 L364.5,218.2 L363.7,218.8 L359.9,217.6 L359.0,216.6 L360.1,215.0 L360.6,209.9 L358.4,207.2 L357.0,205.9 L353.9,205.0 L353.7,203.1 L356.3,202.5 L359.7,203.2 L359.1,200.3 L361.0,201.4 L365.7,199.4 L366.3,197.4 L368.0,196.9 L368.3,197.7 L369.2,197.8ZM344.0,220.6 L344.1,218.7 L343.3,217.6 L346.4,215.7 L348.9,216.2 L351.7,216.2 L353.9,216.6 L355.6,216.5 L359.0,216.6 L359.9,217.6 L363.7,218.8 L364.5,218.2 L366.8,219.4 L369.3,219.0 L369.4,220.5 L367.4,222.3 L364.7,222.8 L364.5,223.7 L363.2,225.1 L362.4,227.2 L363.2,228.7 L362.0,229.9 L361.5,231.6 L359.9,232.1 L358.4,234.1 L353.6,234.1 L352.2,235.0 L351.3,236.0 L350.3,235.8 L349.5,234.9 L348.9,233.4 L346.9,233.0 L346.8,232.1 L347.6,231.2 L347.9,230.4 L347.2,229.7 L347.8,228.0 L347.0,226.4 L347.9,226.2 L348.0,225.0 L348.4,224.6 L348.5,222.6 L349.5,221.9 L348.9,220.6 L347.7,220.5 L347.4,220.8 L346.1,220.8 L345.6,219.5ZM344.0,220.6 L345.6,219.5 L346.1,220.8 L347.4,220.8 L347.7,220.5 L348.9,220.6 L349.5,221.9 L348.5,222.6 L348.4,224.6 L348.0,225.0 L347.9,226.2 L347.0,226.4 L347.8,228.0 L347.2,229.7 L347.9,230.4 L347.6,231.2 L346.8,232.1 L346.9,233.0 L346.0,233.7 L344.9,233.3 L343.8,233.6 L344.2,231.6 L344.0,229.9 L343.1,229.7 L342.6,228.7 L342.8,227.0 L343.7,226.1 L343.9,225.0 L344.4,223.5 L344.4,222.4 L344.0,221.4ZM369.6,196.4 L371.0,196.6 L372.9,196.0 L374.2,197.1 L375.3,197.7 L375.1,199.4 L374.6,199.5 L374.4,200.9 L372.6,199.8 L371.6,200.0 L370.2,198.8 L369.2,197.8 L368.3,197.7 L368.0,196.9ZM374.9,190.9 L376.5,191.0 L376.9,191.9 L376.5,194.1 L376.0,195.1 L374.8,195.1 L375.3,197.7 L374.2,197.1 L372.9,196.0 L371.0,196.6 L369.6,196.4 L370.6,195.7 L372.2,192.0ZM375.1,199.4 L375.5,200.0 L375.5,201.1 L374.9,201.2 L374.4,200.9 L374.6,199.5ZM382.1,187.3 L382.2,188.2 L384.2,188.8 L384.3,189.7 L386.2,189.2 L387.3,188.6 L389.5,189.5 L390.5,190.3 L391.1,191.6 L390.6,192.3 L391.4,193.2 L392.0,194.5 L391.9,195.3 L392.9,197.0 L392.0,197.2 L391.5,196.9 L391.0,197.4 L389.6,197.9 L388.9,198.5 L387.5,199.1 L387.9,199.8 L388.2,200.9 L389.2,201.5 L390.5,202.6 L389.8,203.8 L389.1,204.1 L389.5,205.8 L389.4,206.2 L388.7,205.7 L387.7,205.6 L386.3,206.1 L384.5,205.9 L384.2,206.6 L383.2,205.9 L382.5,206.0 L380.3,205.3 L379.9,205.8 L378.2,205.8 L378.4,204.0 L379.3,202.2 L376.4,201.8 L375.5,201.1 L375.5,200.0 L375.1,199.4 L375.3,197.7 L374.8,195.1 L376.0,195.1 L376.5,194.1 L376.9,191.9 L376.5,191.0 L376.8,190.5 L378.5,190.4 L378.9,190.9 L380.1,189.7 L379.6,188.7 L379.5,187.3 L380.9,187.7ZM382.5,206.0 L382.6,206.5 L382.4,207.1 L383.3,207.6 L384.4,207.7 L384.3,208.7 L383.4,209.2 L381.8,208.8 L381.5,209.8 L380.5,209.9 L380.1,209.5 L379.0,210.4 L378.0,210.5 L377.1,210.0 L376.3,208.8 L375.4,209.3 L375.4,208.1 L376.8,206.6 L376.7,206.0 L377.7,206.2 L378.2,205.8 L379.9,205.8 L380.3,205.3ZM397.5,204.5 L397.4,205.6 L396.3,205.6 L396.7,206.1 L396.2,207.8 L395.8,208.2 L394.0,208.3 L393.0,208.8 L391.3,208.6 L388.4,208.0 L387.8,207.1 L385.8,207.5 L385.6,208.0 L384.4,207.7 L383.3,207.6 L382.4,207.1 L382.6,206.5 L382.5,206.0 L383.2,205.9 L384.2,206.6 L384.5,205.9 L386.3,206.1 L387.7,205.6 L388.7,205.7 L389.4,206.2 L389.5,205.8 L389.1,204.1 L389.8,203.8 L390.5,202.6 L392.0,203.4 L393.1,202.4 L393.8,202.2 L395.4,203.0 L396.4,202.8 L397.3,203.3ZM396.3,230.1 L395.7,232.1 L396.0,232.9 L395.7,234.2 L394.0,233.3 L392.8,233.0 L389.8,231.7 L390.0,230.3 L392.5,230.6 L394.7,230.3ZM382.5,222.3 L383.8,224.1 L383.7,227.6 L382.7,227.4 L381.9,228.3 L381.0,227.6 L380.8,224.5 L380.3,223.0 L381.5,223.1ZM388.4,208.0 L391.3,208.6 L391.2,209.9 L391.8,211.0 L390.1,210.6 L388.5,211.5 L388.6,212.8 L388.4,213.5 L389.2,214.9 L391.2,216.1 L392.4,218.3 L394.9,220.4 L396.6,220.4 L397.1,220.9 L396.6,221.4 L398.5,222.4 L400.1,223.2 L402.1,224.5 L402.3,225.0 L402.0,225.9 L400.7,224.7 L398.8,224.3 L398.1,226.0 L399.7,227.0 L399.5,228.3 L398.6,228.5 L397.6,230.7 L396.7,230.9 L396.7,230.1 L397.0,228.7 L397.5,228.1 L396.5,226.6 L395.8,225.3 L394.9,225.0 L394.2,223.9 L392.8,223.4 L391.8,222.4 L390.3,222.2 L388.6,221.0 L386.5,219.3 L385.0,217.9 L384.3,215.3 L383.2,215.0 L381.5,214.1 L380.5,214.5 L379.4,215.7 L378.5,215.9 L378.7,214.8 L377.6,214.4 L377.0,212.4 L377.7,211.7 L377.0,210.7 L377.1,210.0 L378.0,210.5 L379.0,210.4 L380.1,209.5 L380.5,209.9 L381.5,209.8 L381.8,208.8 L383.4,209.2 L384.3,208.7 L384.4,207.7 L385.6,208.0 L385.8,207.5 L387.8,207.1ZM392.9,197.0 L391.9,195.3 L392.0,194.5 L391.4,193.2 L390.6,192.3 L391.1,191.6 L390.5,190.3 L391.8,189.6 L394.7,188.5 L397.0,187.6 L399.0,188.0 L399.2,188.6 L401.1,188.7 L403.5,189.0 L407.1,188.9 L408.1,189.2 L408.7,190.0 L409.0,191.0 L409.6,192.0 L409.8,193.0 L408.7,193.5 L409.4,194.7 L409.6,195.8 L410.9,198.0 L410.8,198.7 L409.9,199.0 L408.3,201.1 L409.0,202.2 L408.5,202.1 L406.5,201.1 L405.1,201.5 L404.1,201.2 L403.0,201.7 L401.8,200.8 L401.1,201.2 L400.9,201.0 L399.9,199.8 L398.4,199.6 L398.1,198.8 L396.7,198.6 L396.5,199.2 L395.3,198.7 L395.4,198.0 L393.9,197.8ZM397.3,203.3 L396.4,202.8 L395.4,203.0 L393.8,202.2 L393.1,202.4 L392.0,203.4 L390.5,202.6 L389.2,201.5 L388.2,200.9 L387.9,199.8 L387.5,199.1 L388.9,198.5 L389.6,197.9 L391.0,197.4 L391.5,196.9 L392.0,197.2 L392.9,197.0 L393.9,197.8 L395.4,198.0 L395.3,198.7 L396.5,199.2 L396.7,198.6 L398.1,198.8 L398.4,199.6 L399.9,199.8 L400.9,201.0 L400.3,201.0 L400.1,201.5 L399.6,201.6 L399.5,202.2 L399.1,202.3 L399.1,202.5 L398.5,202.8 L397.6,202.8ZM400.9,201.0 L401.1,201.2 L401.8,200.8 L403.0,201.7 L404.1,201.2 L405.1,201.5 L406.5,201.1 L408.5,202.1 L408.0,202.7 L407.8,203.8 L407.3,204.0 L405.1,203.3 L404.4,203.4 L404.0,204.0 L403.1,204.3 L402.9,204.2 L401.9,204.6 L401.1,204.6 L401.0,205.1 L399.3,205.5 L398.6,205.2 L397.5,204.5 L397.2,203.6 L397.3,203.3 L397.6,202.8 L398.5,202.8 L399.1,202.5 L399.1,202.3 L399.5,202.2 L399.6,201.6 L400.1,201.5 L400.3,201.0ZM396.2,207.8 L396.7,206.1 L396.3,205.6 L397.4,205.6 L397.5,204.5 L398.6,205.2 L399.3,205.5 L401.0,205.1 L401.1,204.6 L401.9,204.6 L402.9,204.2 L403.1,204.3 L404.0,204.0 L404.4,203.4 L405.1,203.3 L407.3,204.0 L407.8,203.8 L409.0,204.5 L409.2,205.1 L408.0,205.7 L407.2,207.4 L406.2,209.1 L404.6,209.6 L403.3,209.5 L401.8,210.2 L401.0,210.6 L399.3,210.1 L397.7,209.0 L397.0,208.7 L396.5,207.8ZM391.3,208.6 L393.0,208.8 L394.0,208.3 L395.8,208.2 L396.2,207.8 L396.5,207.8 L397.0,208.7 L395.4,209.3 L395.3,210.4 L394.6,210.6 L394.6,211.4 L393.8,211.3 L393.1,210.9 L392.7,211.3 L391.3,211.2 L391.8,211.0 L391.2,209.9ZM401.8,210.2 L402.4,211.2 L403.1,211.9 L402.4,212.9 L401.4,212.3 L400.0,212.3 L398.1,211.9 L397.2,212.0 L396.8,212.5 L396.0,211.9 L395.6,213.0 L396.8,214.2 L397.3,215.0 L398.3,215.9 L399.1,216.5 L400.0,217.6 L402.0,218.6 L401.8,219.0 L399.7,218.1 L398.4,217.1 L396.5,216.4 L394.5,214.5 L395.0,214.3 L393.9,213.2 L393.8,212.3 L392.5,211.9 L391.9,213.0 L391.3,212.2 L391.2,211.3 L391.3,211.2 L392.7,211.3 L393.1,210.9 L393.8,211.3 L394.6,211.4 L394.6,210.6 L395.3,210.4 L395.4,209.3 L397.0,208.7 L397.7,209.0 L399.3,210.1 L401.0,210.6ZM406.7,220.1 L406.7,220.6 L406.4,220.6 L406.2,219.7 L405.6,219.4 L405.1,218.7 L405.5,218.2 L406.0,218.0 L406.2,217.1 L406.5,217.0 L406.9,217.3 L407.3,217.5 L407.6,217.9 L407.9,218.0 L408.4,218.5 L408.7,218.5 L408.5,219.1 L408.3,219.4 L408.4,219.6 L407.9,219.7ZM404.6,219.0 L404.4,218.5 L403.6,219.7 L403.8,220.6 L403.4,220.4 L402.7,219.5 L401.8,219.0 L402.0,218.6 L402.1,217.2 L402.8,216.6 L403.1,216.3 L403.7,216.8 L404.1,217.1 L404.8,217.4 L405.6,217.9 L405.5,218.2 L405.1,218.7ZM406.4,220.6 L406.2,221.5 L406.6,222.6 L407.6,223.3 L407.6,223.9 L406.9,224.3 L406.9,225.2 L406.0,226.4 L405.6,226.2 L405.5,225.6 L404.3,224.8 L404.0,223.5 L404.0,221.8 L404.2,221.0 L403.8,220.6 L403.6,219.7 L404.4,218.5 L404.6,219.0 L405.1,218.7 L405.6,219.4 L406.2,219.7ZM406.4,220.6 L406.7,220.6 L406.7,220.1 L407.9,219.7 L408.4,219.6 L409.1,219.5 L410.1,219.4 L411.2,220.3 L411.5,222.0 L411.1,222.1 L410.8,222.5 L409.7,222.5 L408.9,223.0 L407.6,223.3 L406.6,222.6 L406.2,221.5ZM414.5,236.6 L415.7,237.5 L417.4,237.4 L419.0,237.6 L419.0,238.0 L420.2,237.7 L420.0,238.5 L416.8,238.7 L416.9,238.3 L414.1,237.7ZM419.2,221.4 L418.7,223.0 L418.2,223.3 L416.9,223.2 L415.8,223.0 L413.3,223.7 L414.9,225.1 L413.9,225.5 L412.7,225.5 L411.4,224.2 L411.1,224.8 L411.7,226.3 L412.9,227.5 L412.1,228.1 L413.5,229.3 L414.6,230.1 L414.8,231.5 L412.7,230.9 L413.5,232.2 L412.1,232.4 L413.1,234.8 L411.7,234.8 L409.8,233.7 L408.9,231.6 L408.3,229.8 L407.4,228.6 L406.2,227.2 L406.0,226.4 L406.9,225.2 L406.9,224.3 L407.6,223.9 L407.6,223.3 L408.9,223.0 L409.7,222.5 L410.8,222.5 L411.1,222.1 L411.5,222.0 L413.1,222.0 L414.7,221.3 L416.3,222.3 L418.2,222.0 L418.1,220.7ZM409.2,205.1 L410.0,204.6 L411.3,204.9 L412.6,204.9 L413.6,205.5 L414.3,205.1 L415.7,204.9 L416.2,204.3 L417.0,204.3 L417.7,204.5 L418.4,205.3 L419.2,206.3 L420.6,207.9 L420.8,209.0 L420.7,210.1 L421.3,211.3 L422.3,211.7 L423.2,211.3 L424.2,211.8 L424.3,212.4 L423.4,213.0 L422.7,212.7 L422.6,215.8 L421.3,215.6 L419.7,214.6 L417.3,215.2 L416.4,215.9 L413.3,215.8 L411.6,215.3 L410.8,215.6 L410.1,214.5 L409.7,214.0 L410.1,213.6 L409.6,213.3 L409.0,213.9 L407.7,213.1 L407.4,212.1 L406.1,211.4 L405.8,210.6 L404.6,209.6 L406.2,209.1 L407.2,207.4 L408.0,205.7ZM417.0,204.3 L417.4,203.9 L418.7,203.6 L420.4,204.4 L421.2,204.5 L422.2,205.2 L422.2,206.1 L423.0,206.5 L423.5,207.6 L424.3,208.2 L424.2,208.6 L424.6,208.9 L424.1,209.1 L422.9,209.0 L422.6,208.6 L422.2,208.8 L422.4,209.3 L422.0,210.1 L421.8,211.0 L421.3,211.3 L420.7,210.1 L420.8,209.0 L420.6,207.9 L419.2,206.3 L418.4,205.3 L417.7,204.5ZM408.7,190.0 L410.6,190.0 L412.6,189.0 L412.8,187.6 L414.2,186.8 L413.8,185.7 L414.9,185.3 L416.8,184.4 L418.9,185.0 L419.3,185.6 L420.3,185.3 L422.3,185.9 L422.7,187.1 L422.4,187.7 L423.9,189.3 L424.8,189.8 L424.8,190.3 L426.2,190.7 L426.9,191.3 L426.3,191.9 L424.7,191.8 L424.3,192.0 L425.0,192.9 L425.8,194.5 L424.1,194.6 L423.6,195.2 L423.7,196.4 L422.8,196.2 L421.1,196.3 L420.4,195.7 L419.8,196.2 L419.0,195.8 L417.4,195.8 L415.1,195.1 L413.1,194.9 L411.5,195.0 L410.6,195.7 L409.6,195.8 L409.4,194.7 L408.7,193.5 L409.8,193.0 L409.6,192.0 L409.0,191.0ZM407.1,188.9 L406.8,188.3 L407.0,187.6 L406.0,187.2 L404.0,186.8 L403.3,184.7 L405.3,184.0 L408.6,184.1 L410.4,183.9 L410.8,184.4 L411.8,184.5 L413.8,185.7 L414.2,186.8 L412.8,187.6 L412.6,189.0 L410.6,190.0 L408.7,190.0 L408.1,189.2ZM403.3,184.7 L403.1,182.9 L403.8,181.3 L405.4,180.5 L407.2,182.3 L408.7,182.3 L408.8,180.4 L410.3,180.0 L411.2,180.3 L413.0,181.2 L414.5,181.2 L415.5,181.8 L415.9,182.9 L416.8,184.4 L414.9,185.3 L413.8,185.7 L411.8,184.5 L410.8,184.4 L410.4,183.9 L408.6,184.1 L405.3,184.0ZM408.8,180.4 L408.8,179.0 L408.1,179.3 L406.8,178.4 L406.4,177.0 L408.6,176.4 L410.9,176.0 L413.0,176.4 L414.9,176.3 L415.2,176.8 L414.2,178.2 L415.2,180.4 L414.5,181.2 L413.0,181.2 L411.2,180.3 L410.3,180.0ZM434.2,238.1 L434.4,238.1 L434.6,237.5 L436.2,237.5 L438.1,236.7 L436.7,237.8 L437.0,238.5 L434.9,239.6 L433.8,239.3 L433.2,238.2ZM495.9,236.8 L495.3,234.6 L493.6,234.5 L490.7,232.2 L488.9,231.9 L486.2,230.6 L484.6,230.3 L483.8,230.8 L482.3,230.8 L481.1,232.2 L479.3,232.7 L478.6,230.9 L478.3,228.2 L476.4,227.3 L476.6,225.5 L475.2,225.4 L475.2,223.2 L477.3,223.8 L479.0,223.0 L477.1,221.4 L476.1,219.9 L474.6,220.6 L474.8,222.5 L473.7,220.8 L474.4,219.9 L476.7,219.4 L478.3,220.2 L480.3,222.2 L481.3,222.0 L483.7,222.0 L483.0,220.7 L484.6,219.8 L486.0,218.3 L489.2,219.7 L490.0,221.7 L490.9,222.3 L493.2,222.1 L494.0,222.6 L495.7,225.3 L498.7,227.1 L500.4,228.3 L502.9,229.6 L506.1,230.7 L506.4,232.3 L505.7,232.2 L504.5,231.5 L504.4,232.4 L502.7,233.0 L502.8,235.1 L501.7,235.8 L500.1,236.2 L499.9,237.4 L498.4,237.8ZM512.3,219.6 L512.4,218.4 L513.6,218.1 L517.4,219.0 L517.2,217.4 L518.2,216.9 L521.6,218.0 L522.2,217.7 L525.7,217.8 L528.9,218.0 L530.3,219.0 L531.7,219.4 L531.7,219.9 L528.8,221.3 L528.4,222.4 L525.8,222.7 L525.6,224.3 L523.2,224.0 L521.9,224.5 L520.2,225.7 L520.7,226.3 L520.3,226.9 L516.4,227.3 L513.5,226.5 L511.2,226.7 L511.0,225.2 L513.4,225.6 L514.0,224.8 L515.7,225.1 L517.8,223.2 L514.9,221.8 L513.6,222.5 L511.7,221.5 L513.0,219.8ZM514.0,224.8 L513.4,225.6 L511.0,225.2 L511.2,226.7 L513.5,226.5 L516.4,227.3 L520.3,226.9 L521.5,229.3 L522.2,229.1 L523.6,229.7 L523.8,230.7 L524.6,232.2 L522.4,232.2 L520.8,232.0 L519.8,233.1 L518.9,233.4 L518.3,233.9 L517.2,233.1 L516.8,230.9 L516.2,230.8 L516.2,230.0 L514.9,229.4 L514.2,230.3 L514.2,231.3 L514.0,231.7 L512.7,231.7 L512.3,232.9 L511.5,232.4 L510.1,233.2 L509.4,232.9 L509.9,230.2 L508.9,228.3 L507.2,227.7 L507.4,226.5 L509.3,226.7 L509.8,225.2 L510.0,223.5 L512.7,223.0 L512.6,224.1 L513.1,224.9ZM539.8,201.5 L541.7,201.1 L544.4,198.9 L546.8,197.7 L549.0,198.5 L551.1,198.5 L553.1,199.7 L555.1,199.8 L558.3,200.4 L559.3,198.7 L557.7,197.2 L558.2,194.6 L561.1,195.7 L563.0,195.9 L565.8,196.6 L567.3,198.5 L570.7,199.5 L572.3,199.0 L574.7,198.7 L576.9,199.1 L579.6,200.3 L581.5,201.6 L583.4,201.6 L586.2,202.0 L587.6,201.3 L590.1,200.9 L591.9,199.1 L593.2,199.4 L594.8,200.2 L597.1,200.0 L597.3,202.0 L597.4,204.5 L598.6,205.5 L599.5,205.2 L601.8,205.6 L602.8,204.7 L604.9,205.5 L607.8,207.3 L608.2,208.2 L606.4,207.9 L603.6,208.2 L602.6,209.0 L602.1,210.6 L599.5,211.6 L598.2,213.0 L595.8,212.5 L594.5,212.3 L594.3,213.9 L595.5,214.9 L596.3,215.8 L595.3,216.6 L594.5,218.0 L592.5,218.9 L589.4,219.0 L586.4,219.9 L584.6,221.3 L583.3,220.5 L580.7,220.5 L576.9,218.9 L574.7,218.6 L572.0,218.9 L567.4,218.3 L565.1,218.4 L563.2,216.8 L561.2,214.5 L559.8,214.2 L556.5,212.6 L553.6,212.2 L551.0,211.8 L549.7,210.7 L549.1,207.7 L546.8,205.6 L543.4,204.7 L541.1,203.3ZM637.0,266.2 L636.5,270.4 L636.0,272.5 L634.4,270.4 L633.7,268.4 L634.5,265.8 L635.9,263.8 L637.1,264.6ZM559.6,257.1 L559.7,258.2 L560.3,259.9 L560.3,260.9 L558.4,261.0 L555.6,260.4 L553.8,260.1 L552.3,258.8 L549.1,258.5 L545.9,257.0 L543.6,255.7 L541.2,254.7 L541.6,252.3 L542.8,251.1 L543.6,250.5 L545.5,251.2 L548.1,253.0 L549.4,253.3 L550.4,254.6 L552.3,255.1 L554.3,256.3 L557.0,256.9ZM567.7,257.4 L568.7,258.2 L568.9,259.8 L567.1,259.9 L565.2,259.7 L563.9,260.1 L561.6,259.1 L561.5,258.6 L562.6,256.7 L563.6,256.0 L565.3,256.6 L566.5,256.7ZM551.4,310.3 L551.2,313.1 L550.2,313.8 L548.3,314.4 L547.1,312.3 L546.5,308.6 L547.3,304.3 L549.0,305.8 L550.1,307.6ZM495.9,236.8 L498.4,237.8 L499.9,237.4 L500.1,236.2 L501.7,235.8 L502.8,235.1 L502.7,233.0 L504.4,232.4 L504.5,231.5 L505.7,232.2 L506.4,232.3 L507.6,232.3 L509.4,232.9 L510.1,233.2 L511.5,232.4 L512.3,232.9 L512.7,231.7 L514.0,231.7 L514.2,231.3 L514.2,230.3 L514.9,229.4 L516.2,230.0 L516.2,230.8 L516.8,230.9 L517.2,233.1 L518.3,233.9 L518.9,233.4 L519.8,233.1 L520.8,232.0 L522.4,232.2 L524.6,232.2 L525.2,232.9 L524.0,233.2 L523.0,233.7 L520.6,234.0 L518.5,234.5 L517.5,235.7 L518.3,236.8 L518.8,238.1 L518.0,239.2 L518.4,240.2 L518.0,241.1 L515.9,241.0 L517.1,242.8 L515.9,243.4 L515.3,245.0 L515.7,246.6 L515.0,247.3 L514.2,247.1 L512.5,247.4 L512.4,248.1 L510.8,248.1 L509.8,249.6 L510.2,251.8 L507.5,252.9 L505.9,252.7 L505.5,253.3 L504.2,252.9 L502.0,253.3 L498.1,252.0 L499.7,249.6 L499.2,247.9 L497.4,247.5 L497.0,245.8 L495.9,243.8 L496.5,242.3 L495.5,241.9 L495.7,240.0ZM479.3,232.7 L481.1,232.2 L482.3,230.8 L483.8,230.8 L484.6,230.3 L486.2,230.6 L488.9,231.9 L490.7,232.2 L493.6,234.5 L495.3,234.6 L495.9,236.8 L495.7,240.0 L495.5,241.9 L496.5,242.3 L495.9,243.8 L497.0,245.8 L497.4,247.5 L499.2,247.9 L499.7,249.6 L498.1,252.0 L499.4,253.4 L500.5,254.9 L502.8,256.1 L503.2,258.4 L504.3,258.8 L504.7,260.0 L501.6,261.4 L501.2,264.4 L496.9,263.6 L494.4,263.0 L491.8,262.7 L490.4,259.5 L489.3,259.0 L487.6,259.5 L485.6,260.8 L482.7,259.9 L480.2,257.9 L478.0,257.1 L476.2,254.7 L474.1,251.2 L472.9,251.6 L471.4,250.7 L470.7,251.7 L469.3,250.4 L469.1,249.0 L468.4,249.0 L468.5,247.1 L467.1,245.1 L464.2,243.7 L462.3,241.2 L462.5,239.1 L463.5,238.2 L463.1,236.7 L461.5,235.9 L459.6,232.8 L458.1,230.7 L458.4,229.9 L457.2,226.9 L458.5,226.2 L459.0,227.2 L460.3,228.4 L461.8,228.7 L462.6,228.6 L464.8,226.7 L465.5,226.5 L466.3,227.3 L465.8,228.6 L467.4,229.9 L467.9,229.8 L469.0,231.7 L471.1,232.3 L472.8,233.6 L476.0,234.0 L479.2,233.3ZM450.7,221.4 L450.9,220.4 L450.0,218.6 L448.6,217.6 L447.4,217.3 L446.5,216.6 L446.7,216.3 L448.5,216.7 L451.7,217.1 L454.8,218.3 L455.3,218.8 L456.5,218.4 L458.5,219.0 L459.4,220.0 L460.8,220.6 L460.4,221.0 L461.7,222.4 L461.5,222.7 L460.3,222.5 L458.6,221.8 L458.1,222.2 L455.3,222.6 L453.0,221.3ZM458.9,226.1 L459.7,226.8 L460.6,226.8 L460.7,227.2 L461.8,228.7 L460.3,228.4 L459.0,227.2 L458.5,226.2ZM463.2,222.3 L464.2,222.5 L464.4,221.8 L465.4,220.7 L466.9,222.1 L468.3,224.0 L469.3,224.1 L470.1,224.8 L468.4,225.0 L468.5,227.0 L468.3,227.9 L467.6,228.5 L467.9,229.8 L467.4,229.9 L465.8,228.6 L466.3,227.3 L465.5,226.5 L464.8,226.7 L462.6,228.6 L462.2,226.8 L461.2,226.4 L460.1,225.7 L460.6,224.9 L459.3,224.0 L459.6,223.3 L458.7,222.9 L458.1,222.2 L458.6,221.8 L460.3,222.5 L461.5,222.7 L461.7,222.4 L460.4,221.0 L460.8,220.6 L461.4,220.7ZM448.0,242.7 L444.0,245.5 L441.5,244.5 L441.4,244.4 L441.7,244.0 L441.5,243.0 L441.9,241.6 L443.0,240.6 L442.5,239.5 L441.5,239.4 L441.1,237.4 L441.5,236.3 L442.0,235.8 L442.5,235.2 L442.4,233.7 L443.2,234.2 L445.5,233.5 L446.7,234.0 L448.4,234.0 L450.8,233.0 L452.0,233.1 L454.3,232.7 L453.5,234.3 L452.4,234.9 L452.9,236.8 L452.5,240.0ZM461.5,235.9 L463.1,236.7 L463.5,238.2 L462.5,239.1 L462.3,241.2 L464.2,243.7 L467.1,245.1 L468.5,247.1 L468.4,249.0 L469.1,249.0 L469.3,250.4 L470.7,251.7 L469.4,251.6 L467.9,251.4 L466.6,253.9 L462.4,253.7 L455.5,248.4 L452.0,246.6 L449.3,245.9 L448.0,242.7 L452.5,240.0 L452.9,236.8 L452.4,234.9 L453.5,234.3 L454.3,232.7 L455.2,232.2 L457.8,232.6 L458.6,233.3 L459.6,232.8ZM441.2,245.3 L441.5,244.5 L444.0,245.5 L448.0,242.7 L449.3,245.9 L448.9,246.3 L444.6,247.6 L447.1,250.2 L446.4,250.7 L446.2,251.5 L444.5,251.9 L444.1,252.8 L443.2,253.6 L440.7,253.2 L440.6,252.9 L441.3,248.7 L441.1,247.7 L441.4,246.9ZM441.5,244.5 L441.2,245.3 L440.3,244.9 L440.1,246.7 L440.7,247.0 L440.1,247.3 L440.1,248.0 L441.1,247.7 L441.3,248.7 L440.6,252.9 L438.7,248.4 L439.2,247.5 L439.1,247.3 L439.5,246.1 L439.8,244.1 L440.0,243.5 L440.8,243.5 L440.9,243.0 L441.5,243.0 L441.7,244.0ZM441.2,245.3 L441.4,246.9 L441.1,247.7 L440.1,248.0 L440.1,247.3 L440.7,247.0 L440.1,246.7 L440.3,244.9ZM441.5,243.0 L440.9,243.0 L440.8,243.5 L440.1,243.5 L440.6,241.3 L441.5,239.5 L441.5,239.4 L442.5,239.5 L443.0,240.6 L441.9,241.6ZM460.6,287.2 L460.3,286.1 L459.6,285.3 L459.3,284.3 L458.1,283.4 L456.7,281.2 L456.0,279.0 L454.3,277.3 L453.2,276.8 L451.6,274.3 L451.2,272.5 L451.2,271.0 L449.7,268.1 L448.6,267.0 L447.4,266.5 L446.5,265.0 L446.6,264.4 L445.9,263.1 L445.2,262.5 L444.2,260.5 L442.6,258.4 L441.3,256.6 L440.2,256.6 L440.5,255.2 L440.5,254.3 L440.7,253.2 L443.2,253.6 L444.1,252.8 L444.5,251.9 L446.2,251.5 L446.4,250.7 L447.1,250.2 L444.6,247.6 L448.9,246.3 L449.3,245.9 L452.0,246.6 L455.5,248.4 L462.4,253.7 L466.6,253.9 L468.6,254.2 L469.3,255.4 L470.8,255.3 L472.0,257.6 L473.1,258.2 L473.6,259.1 L475.3,260.2 L475.5,261.3 L475.4,262.2 L475.8,263.0 L476.5,263.8 L476.9,264.6 L477.3,265.3 L478.0,265.8 L478.6,265.6 L479.1,266.6 L479.3,267.2 L480.3,269.9 L487.2,271.2 L487.6,270.6 L488.9,272.5 L487.8,277.7 L481.2,280.3 L474.7,281.3 L472.7,282.5 L471.2,285.2 L470.2,285.7 L469.6,284.8 L468.7,284.9 L466.5,284.7 L466.0,284.4 L463.4,284.5 L462.8,284.7 L461.8,284.0 L461.3,285.3 L461.6,286.4ZM484.2,286.5 L482.6,287.2 L482.2,288.3 L482.2,289.2 L480.0,290.3 L476.4,291.5 L474.5,293.4 L473.5,293.5 L472.8,293.4 L471.5,294.5 L470.1,295.0 L468.1,295.1 L467.6,295.2 L467.1,295.9 L466.5,296.1 L466.2,296.8 L465.0,296.7 L464.3,297.1 L462.7,296.9 L462.1,295.4 L462.1,294.0 L461.7,293.2 L461.1,291.3 L460.4,290.2 L460.9,290.1 L460.6,288.9 L460.8,288.4 L460.6,287.2 L461.6,286.4 L461.3,285.3 L461.8,284.0 L462.8,284.7 L463.4,284.5 L466.0,284.4 L466.5,284.7 L468.7,284.9 L469.6,284.8 L470.2,285.7 L471.2,285.2 L472.7,282.5 L474.7,281.3 L481.2,280.3 L483.3,284.6ZM496.3,274.8 L495.6,276.6 L494.5,276.4 L494.2,277.1 L493.9,278.4 L494.3,280.1 L494.1,280.5 L493.1,280.4 L491.8,281.4 L491.6,282.7 L491.2,283.2 L489.7,283.2 L488.9,283.9 L489.0,284.9 L487.9,285.7 L486.7,285.4 L485.2,286.3 L484.2,286.5 L483.3,284.6 L481.2,280.3 L487.8,277.7 L488.9,272.5 L487.6,270.6 L487.6,269.6 L488.2,268.5 L488.1,267.4 L489.0,266.9 L488.6,266.5 L488.6,264.8 L489.8,264.8 L491.0,266.6 L492.3,267.6 L494.0,267.9 L495.4,268.4 L496.5,269.9 L497.2,270.7 L498.1,271.1 L498.1,271.7 L497.4,273.2 L497.2,274.0ZM489.2,262.8 L488.7,261.9 L489.2,261.0 L489.6,261.2 L489.5,262.3ZM479.1,266.6 L479.5,266.5 L479.6,267.2 L481.4,266.8 L483.2,266.8 L484.6,266.9 L486.0,265.1 L487.5,263.5 L488.7,261.9 L489.2,262.8 L489.8,264.8 L488.6,264.8 L488.6,266.5 L489.0,266.9 L488.1,267.4 L488.2,268.5 L487.6,269.6 L487.6,270.6 L487.2,271.2 L480.3,269.9 L479.3,267.2ZM477.3,265.3 L476.9,263.4 L477.4,262.0 L478.0,261.7 L478.7,262.5 L478.9,264.0 L478.6,265.6 L478.0,265.8ZM469.4,251.6 L470.0,252.8 L469.9,253.4 L470.8,255.3 L469.3,255.4 L468.6,254.2 L466.6,253.9 L467.9,251.4ZM637.6,219.2 L638.2,219.7 L637.3,219.5 L636.9,220.4 L636.8,221.3 L637.9,223.2 L637.1,223.7 L637.0,224.2 L636.6,224.9 L635.4,225.4 L634.8,226.1 L635.3,227.2 L635.2,227.5 L636.3,227.9 L638.1,229.1 L638.1,229.7 L637.3,229.9 L635.8,230.0 L635.5,231.2 L634.5,231.1 L634.5,231.3 L633.2,230.8 L633.2,231.3 L632.7,231.5 L632.4,231.0 L631.7,230.8 L630.9,230.4 L631.0,229.2 L631.3,228.9 L630.9,228.4 L630.7,227.0 L630.4,226.6 L629.0,226.3 L627.6,225.6 L628.5,224.0 L630.1,222.6 L630.5,220.7 L632.0,221.6 L633.9,221.6 L632.8,220.3 L635.4,219.2 L635.3,217.7ZM638.1,229.1 L641.4,232.1 L642.8,233.8 L644.2,236.8 L644.0,238.3 L642.3,238.8 L641.0,239.8 L639.1,240.1 L638.3,238.7 L637.8,236.7 L635.6,234.0 L637.0,233.5 L634.5,231.3 L634.5,231.1 L635.5,231.2 L635.8,230.0 L637.3,229.9 L638.1,229.7ZM657.2,240.7 L657.9,241.6 L657.3,243.2 L656.1,242.3 L655.2,242.9 L655.2,244.5 L653.5,243.7 L653.0,242.5 L653.5,240.9 L654.9,241.2 L655.3,240.1ZM667.2,232.9 L667.5,235.0 L668.5,236.3 L668.2,238.1 L666.0,239.3 L662.3,239.5 L660.5,242.5 L658.6,241.5 L657.6,239.5 L654.1,240.1 L652.1,241.4 L649.5,241.4 L652.5,243.3 L652.8,247.8 L651.8,248.9 L650.4,247.8 L650.0,245.5 L648.3,244.7 L646.7,242.9 L648.4,242.1 L648.9,240.5 L650.5,239.1 L651.3,237.4 L655.2,236.6 L657.8,237.1 L657.8,232.5 L659.9,233.7 L661.7,231.1 L662.4,230.1 L662.0,226.9 L659.9,224.0 L659.8,222.3 L661.8,221.9 L665.1,225.5 L666.3,227.6 L665.7,230.2ZM662.4,214.7 L664.3,215.2 L665.0,214.1 L667.4,217.0 L664.8,217.7 L664.6,220.3 L660.2,218.5 L660.9,221.3 L658.5,221.4 L656.6,218.8 L656.4,216.8 L658.5,216.7 L656.7,213.1 L655.9,211.1 L660.2,213.8ZM588.8,277.2 L587.6,278.4 L586.0,278.5 L585.4,281.3 L584.5,281.8 L586.0,284.1 L587.6,286.0 L588.8,287.7 L588.3,290.0 L587.5,290.5 L588.2,291.8 L590.0,293.8 L590.4,295.3 L590.5,296.5 L591.6,298.9 L590.5,301.3 L589.6,304.0 L589.3,302.1 L589.8,300.1 L588.9,298.5 L588.8,295.7 L587.7,294.3 L586.7,291.2 L585.9,287.9 L584.6,285.7 L583.3,287.0 L580.9,288.9 L579.6,288.7 L578.1,288.1 L578.5,284.8 L577.7,282.4 L575.5,279.3 L575.6,278.4 L574.2,278.1 L572.3,275.9 L571.9,273.8 L572.7,274.2 L572.5,272.4 L573.5,271.7 L573.1,270.6 L573.5,269.7 L573.2,267.0 L575.0,267.6 L575.6,265.5 L575.5,264.2 L576.4,262.0 L576.0,260.5 L578.5,258.7 L580.2,259.2 L579.7,257.6 L580.3,257.1 L579.9,256.1 L581.2,255.9 L582.3,257.4 L583.4,258.1 L583.9,260.1 L584.3,262.2 L582.6,264.4 L582.8,267.5 L585.2,267.1 L586.1,269.5 L587.6,270.0 L587.3,272.2 L589.1,273.1 L590.2,273.6 L591.7,272.9 L592.0,273.9 L590.3,275.6 L590.0,276.6ZM603.8,292.7 L604.4,291.5 L604.3,289.3 L602.1,287.0 L601.6,284.4 L599.6,282.3 L597.8,282.1 L597.5,283.0 L596.2,283.1 L595.4,282.6 L593.3,284.2 L592.9,281.9 L593.0,279.1 L591.5,279.0 L591.1,277.4 L590.0,276.6 L590.3,275.6 L592.0,273.9 L592.3,274.6 L593.5,274.6 L592.7,271.6 L593.8,271.3 L595.4,273.3 L596.8,275.7 L599.6,275.7 L600.9,278.0 L599.5,278.7 L599.0,279.6 L602.0,281.2 L604.4,284.3 L606.1,286.6 L608.1,288.4 L608.9,290.3 L608.8,292.9 L606.7,291.9 L605.8,293.7ZM596.0,313.8 L596.2,315.1 L597.8,314.8 L598.5,313.7 L599.0,314.0 L600.4,315.6 L601.5,317.3 L601.7,319.1 L601.5,320.2 L601.8,321.2 L602.0,322.7 L602.8,323.4 L603.8,325.7 L603.7,326.6 L602.1,326.8 L599.9,324.8 L597.1,322.8 L596.8,321.4 L595.4,319.7 L595.0,317.5 L594.1,316.1 L594.3,314.2 L593.7,313.1 L594.1,312.6ZM636.7,318.3 L635.0,319.2 L633.0,318.7 L630.4,318.7 L629.7,321.7 L628.8,322.6 L627.7,326.3 L625.9,326.8 L623.7,326.1 L622.6,326.3 L621.2,327.6 L619.8,327.4 L618.3,328.0 L616.7,326.5 L616.3,324.7 L618.0,325.7 L619.7,325.2 L620.2,322.9 L621.1,322.4 L623.9,321.9 L625.4,319.8 L626.5,318.2 L627.6,319.5 L628.1,318.6 L629.2,318.7 L629.2,317.0 L629.3,315.7 L630.9,313.9 L632.0,311.9 L632.9,311.9 L634.2,313.2 L634.3,314.3 L635.9,315.1 L637.9,315.9 L637.7,316.9 L636.2,317.0ZM626.5,318.2 L627.4,317.2 L629.3,315.7 L629.2,317.0 L629.2,318.7 L628.1,318.6 L627.6,319.5ZM604.1,332.8 L604.4,334.7 L605.2,336.1 L606.9,336.4 L608.0,338.0 L607.3,341.3 L607.0,345.3 L604.4,345.4 L602.6,343.2 L599.7,341.0 L598.8,339.4 L597.1,337.3 L596.0,335.4 L594.3,331.7 L592.3,329.5 L591.6,327.3 L590.7,325.2 L588.6,323.6 L587.3,321.3 L585.5,319.9 L583.0,317.0 L582.8,315.7 L584.3,315.8 L587.8,316.3 L590.0,318.8 L591.8,320.6 L593.1,321.7 L595.4,324.5 L597.8,324.6 L599.7,326.3 L601.1,328.5 L602.9,329.7 L601.9,331.9 L603.2,332.8ZM613.3,347.7 L617.7,348.0 L618.3,346.9 L622.5,348.2 L623.2,349.8 L626.7,350.3 L629.4,351.9 L626.7,352.9 L624.2,351.8 L622.1,351.9 L619.8,351.7 L617.6,351.2 L615.0,350.2 L613.3,350.0 L612.4,350.3 L608.2,349.2 L607.9,348.1 L605.8,347.9 L607.5,345.4 L610.3,345.6 L612.1,346.6 L613.1,346.8ZM635.0,319.2 L633.8,321.6 L635.6,324.0 L635.2,325.2 L637.9,327.6 L635.1,328.0 L634.4,329.7 L634.5,332.1 L632.2,333.9 L632.1,336.5 L631.1,340.5 L630.8,339.6 L628.1,340.7 L627.2,339.2 L625.6,339.0 L624.5,338.2 L621.7,339.1 L620.9,337.8 L619.4,338.0 L617.5,337.7 L617.2,334.2 L616.1,333.4 L615.0,331.2 L614.7,328.9 L614.9,326.5 L616.3,324.7 L616.7,326.5 L618.3,328.0 L619.8,327.4 L621.2,327.6 L622.6,326.3 L623.7,326.1 L625.9,326.8 L627.7,326.3 L628.8,322.6 L629.7,321.7 L630.4,318.7 L633.0,318.7ZM652.3,326.3 L650.4,328.9 L648.7,329.4 L646.5,328.9 L642.6,329.0 L640.6,329.4 L640.3,331.4 L642.3,333.7 L643.6,332.5 L647.9,331.6 L647.7,332.8 L646.7,332.4 L645.7,334.0 L643.6,335.0 L645.7,338.3 L645.2,339.2 L647.2,342.2 L647.0,344.0 L645.8,344.7 L644.9,343.8 L646.2,341.7 L643.8,342.7 L643.3,342.0 L643.7,341.0 L642.1,339.4 L642.3,336.9 L640.8,337.7 L640.8,340.7 L640.7,344.5 L639.3,344.8 L638.3,344.1 L639.1,341.7 L638.8,339.1 L637.9,339.1 L637.2,337.3 L638.2,335.6 L638.6,333.5 L639.8,329.6 L640.3,328.5 L642.2,326.6 L644.0,327.4 L646.9,327.7 L649.6,327.6 L651.9,325.7ZM688.6,336.8 L688.2,345.3 L687.5,353.8 L685.6,351.7 L683.4,351.2 L682.7,351.9 L679.8,352.0 L681.0,349.9 L682.5,349.1 L682.1,346.3 L681.1,344.1 L676.8,341.9 L674.9,341.7 L671.5,339.3 L670.8,340.5 L669.9,340.7 L669.4,339.8 L669.5,338.7 L667.8,337.4 L670.3,336.4 L671.9,336.5 L671.8,335.8 L668.4,335.8 L667.5,334.2 L665.4,333.7 L664.5,332.5 L667.6,331.8 L668.8,331.0 L672.5,332.0 L672.8,333.0 L673.4,337.2 L675.7,338.8 L677.7,336.0 L680.4,334.4 L682.5,334.4 L684.4,335.4 L686.1,336.3ZM650.8,353.8 L650.8,354.6 L649.1,356.5 L647.1,357.1 L646.8,356.8 L647.1,355.9 L648.2,354.3 L650.6,353.2ZM642.3,352.3 L643.9,352.1 L646.0,351.2 L645.6,352.6 L642.0,353.4 L639.0,353.0 L639.1,352.1 L640.9,351.5ZM635.3,351.9 L636.7,351.7 L637.2,352.8 L634.5,353.3 L632.9,353.6 L631.6,353.6 L632.5,352.1 L633.8,352.1 L634.5,351.2ZM640.5,356.8 L639.5,356.8 L636.6,355.0 L638.8,354.5 L640.0,355.3 L640.7,356.1ZM660.2,327.0 L660.1,329.3 L658.9,329.1 L658.6,330.7 L659.5,332.0 L658.9,332.4 L658.0,330.7 L657.3,327.4 L657.7,325.3 L658.4,324.3 L658.6,325.7 L660.0,326.0ZM661.7,337.3 L664.2,338.1 L665.0,340.1 L663.1,339.0 L661.2,338.8 L659.8,339.0 L658.3,338.9 L658.9,337.4ZM655.8,339.9 L654.3,339.4 L653.9,338.3 L656.2,338.2 L656.7,339.0ZM673.2,344.3 L673.7,345.0 L673.6,346.2 L672.3,348.0 L672.2,346.1 L672.6,345.1ZM606.2,335.0 L608.0,334.2 L609.4,336.5 L609.1,337.8 L607.5,337.6 L605.9,335.5ZM650.6,353.2 L650.9,352.6 L652.9,352.0 L654.5,352.0 L655.3,351.6 L656.2,352.0 L655.2,352.7 L652.8,353.8 L650.8,354.6 L650.8,353.8ZM722.2,347.8 L721.6,348.1 L720.6,347.1 L719.8,345.4 L719.4,343.4 L719.7,343.2 L719.9,344.0 L720.6,344.6 L721.6,346.2 L722.6,347.1ZM713.5,344.3 L712.3,344.5 L711.9,345.3 L710.5,345.9 L709.3,346.5 L708.1,346.5 L706.3,345.8 L705.0,345.0 L705.2,344.2 L707.3,344.6 L708.6,344.4 L709.0,343.2 L709.3,343.1 L709.5,344.5 L710.8,344.3 L711.5,343.4 L712.9,342.4 L712.7,340.9 L714.1,340.9 L714.5,341.3 L714.4,342.7ZM716.3,341.8 L715.6,342.5 L715.2,340.9 L714.8,339.9 L713.8,339.0 L712.5,337.9 L710.9,337.2 L711.5,336.5 L712.8,337.3 L713.5,337.8 L714.5,338.5 L715.3,339.6 L716.2,340.4ZM702.1,349.3 L704.0,351.0 L705.2,353.8 L706.6,353.7 L706.4,354.9 L708.1,355.3 L707.3,355.8 L709.6,356.9 L709.3,357.7 L707.8,357.8 L707.3,357.2 L705.3,356.9 L703.1,356.5 L701.5,354.8 L700.3,353.4 L699.3,351.1 L696.4,350.0 L694.4,350.7 L692.9,351.6 L693.0,353.5 L691.1,354.4 L689.9,354.0 L687.5,353.8 L688.2,345.3 L688.6,336.8 L692.5,338.6 L696.7,340.1 L698.2,341.4 L699.4,342.8 L699.7,344.3 L703.4,345.9 L703.9,347.3 L701.7,347.6ZM671.3,436.6 L672.7,437.5 L674.1,437.2 L676.1,436.7 L677.3,436.8 L675.4,439.9 L674.1,440.8 L672.5,442.9 L672.2,442.2 L669.6,444.0 L669.2,443.8 L668.0,443.7 L668.2,441.5 L669.0,439.8 L669.2,437.6 L670.0,436.4ZM691.8,366.0 L692.3,368.0 L693.9,367.1 L694.5,368.2 L695.4,369.2 L695.0,370.3 L695.1,372.6 L695.2,373.9 L695.7,374.2 L695.9,376.4 L695.4,377.8 L695.7,379.6 L697.9,380.9 L699.2,382.2 L700.5,383.3 L700.0,383.9 L701.0,385.6 L701.2,388.4 L702.2,387.8 L702.8,389.0 L703.5,388.6 L703.2,391.3 L704.4,393.0 L705.2,394.0 L706.4,396.1 L706.3,398.2 L705.9,399.7 L705.2,401.3 L705.5,403.5 L704.5,405.8 L703.6,407.0 L702.1,409.4 L701.5,410.9 L700.2,412.7 L698.1,415.1 L695.9,416.4 L694.1,418.4 L692.8,419.7 L691.0,422.0 L689.5,423.3 L687.9,425.2 L686.6,427.0 L686.2,427.9 L684.5,428.8 L682.0,428.9 L679.5,429.9 L677.9,430.9 L676.0,432.1 L674.9,430.9 L673.8,430.4 L674.9,429.1 L673.4,429.6 L670.5,431.5 L669.1,430.8 L668.1,430.3 L666.9,430.2 L665.3,429.4 L664.7,427.8 L665.3,425.8 L666.0,423.4 L664.9,423.4 L663.0,423.1 L664.3,421.9 L664.7,419.9 L662.8,421.7 L660.6,422.2 L662.4,420.8 L663.5,419.3 L664.9,418.0 L665.6,416.0 L662.8,418.3 L661.0,419.1 L659.3,421.2 L658.1,420.2 L658.7,418.8 L658.2,416.9 L657.5,415.9 L658.1,415.3 L655.9,413.7 L654.4,413.6 L652.8,412.4 L648.8,412.6 L645.3,414.3 L642.7,414.4 L640.7,414.3 L637.8,415.6 L635.7,416.2 L634.7,417.6 L633.5,418.6 L631.6,418.7 L630.1,418.9 L628.4,418.4 L626.7,418.7 L625.1,418.9 L623.3,420.2 L622.7,420.1 L621.3,420.9 L619.9,421.7 L618.4,421.6 L616.9,421.6 L615.3,419.9 L614.3,419.4 L614.9,417.9 L616.1,417.6 L616.7,417.0 L617.0,416.0 L617.9,414.2 L618.2,412.7 L617.9,410.0 L618.0,408.5 L618.5,407.0 L618.1,405.3 L618.3,404.6 L617.6,403.5 L617.9,401.5 L617.1,399.4 L617.1,398.3 L617.8,399.4 L617.6,397.0 L618.5,397.8 L618.9,398.8 L619.2,397.4 L618.6,395.4 L618.6,394.5 L618.2,393.8 L618.7,392.3 L619.3,391.6 L619.8,390.3 L619.9,388.8 L621.2,386.9 L621.0,388.9 L622.3,387.1 L624.3,386.2 L625.6,385.1 L627.5,384.1 L628.6,383.9 L629.1,384.3 L631.1,383.3 L632.5,383.0 L632.9,382.4 L633.6,382.2 L634.8,382.2 L637.4,381.5 L638.8,380.3 L639.7,378.9 L641.2,377.6 L641.5,376.5 L641.8,375.1 L643.7,372.9 L644.3,375.2 L645.4,374.6 L644.8,373.4 L645.7,372.1 L646.6,372.7 L647.2,370.7 L648.7,369.4 L649.4,368.4 L650.6,367.9 L650.7,367.2 L651.7,367.5 L651.8,366.9 L652.9,366.5 L654.0,366.1 L655.5,367.3 L656.6,368.9 L658.0,368.9 L659.4,369.1 L659.2,367.7 L660.6,365.6 L661.7,364.9 L661.4,364.3 L662.6,362.8 L664.1,361.9 L665.2,362.2 L667.2,361.7 L667.3,360.3 L665.7,359.5 L667.0,359.1 L668.5,359.8 L669.6,360.8 L671.4,361.5 L672.1,361.2 L673.4,362.0 L674.8,361.3 L675.7,361.5 L676.3,361.0 L677.2,362.3 L676.4,363.7 L675.4,364.8 L674.6,364.8 L674.7,365.9 L673.8,367.2 L672.8,368.5 L672.9,369.2 L674.5,370.7 L676.1,371.5 L677.1,372.4 L678.5,374.0 L679.1,374.0 L680.2,374.6 L680.4,375.4 L682.4,376.3 L684.1,375.4 L684.8,374.0 L685.4,372.9 L686.0,371.4 L687.0,369.3 L686.9,368.1 L687.2,367.3 L687.2,365.8 L687.7,363.8 L688.3,363.3 L688.0,362.5 L688.8,361.1 L689.4,359.6 L689.5,358.9 L690.5,357.9 L691.0,359.2 L691.0,360.8 L691.5,361.1 L691.4,362.2 L692.1,363.6 L692.0,365.0ZM729.6,436.9 L729.3,438.0 L731.6,437.0 L731.4,438.1 L730.5,439.1 L728.8,440.3 L725.9,442.3 L724.0,443.3 L723.8,444.5 L722.1,444.6 L719.6,445.5 L717.6,447.2 L714.3,449.8 L711.7,451.0 L710.0,451.7 L708.2,451.6 L707.6,450.8 L705.5,450.6 L705.9,449.7 L708.6,447.8 L713.3,445.2 L715.0,444.8 L717.3,443.8 L720.1,442.4 L722.5,441.1 L724.9,439.1 L726.2,438.5 L727.6,437.0 L729.9,435.8ZM741.4,424.6 L741.2,427.3 L742.4,425.5 L742.9,426.2 L742.0,428.2 L743.1,429.0 L744.5,429.2 L746.3,428.3 L747.2,428.6 L745.1,430.9 L743.4,432.4 L741.8,432.3 L740.7,433.1 L740.1,434.2 L739.4,434.7 L737.6,436.1 L735.2,437.9 L732.8,438.9 L732.9,438.3 L732.3,437.9 L735.2,435.8 L735.5,434.3 L733.9,433.3 L734.6,432.3 L736.8,431.4 L738.5,429.4 L739.6,427.7 L739.8,426.0 L740.2,425.5 L739.8,424.4 L739.5,422.2 L739.7,420.3 L740.6,420.1 L740.9,421.6 L742.2,422.2ZM738.4,385.1 L739.8,386.7 L740.7,387.9 L739.7,388.6 L738.6,387.9 L737.3,386.7 L736.2,385.3 L735.2,383.5 L735.1,382.6 L736.1,382.6 L737.1,383.5 L737.9,384.4ZM735.6,357.4 L736.1,358.3 L734.5,358.3 L733.9,356.7 L735.2,357.3ZM732.9,355.8 L732.0,355.9 L730.6,355.6 L730.2,355.2 L730.4,354.2 L731.9,354.6 L732.6,355.1ZM734.9,355.1 L734.5,355.6 L733.0,353.3 L732.7,351.8 L733.5,351.8 L734.1,353.8ZM731.1,351.8 L731.1,352.3 L729.4,351.2 L728.3,350.3 L727.5,349.4 L727.8,349.1 L728.8,349.8 L730.6,351.0ZM725.9,349.2 L725.5,349.4 L724.5,348.8 L723.6,347.7 L723.8,347.3 L725.1,348.4ZM746.0,373.1 L745.2,373.4 L744.7,372.3 L744.9,371.6ZM745.2,369.0 L745.1,371.2 L744.6,370.8 L744.1,371.0 L743.9,370.2 L744.2,368.3ZM769.5,375.3 L770.1,376.1 L769.4,377.5 L767.9,377.8 L766.7,377.5 L766.8,376.3 L767.9,375.4 L768.9,375.8ZM772.1,373.9 L770.6,374.5 L770.5,373.5 L771.8,373.0 L772.5,372.8 L774.0,372.0 L773.7,373.3ZM343.6,257.7 L343.6,258.3 L343.5,262.3 L336.2,262.2 L336.1,268.9 L334.0,269.1 L333.4,270.5 L333.7,274.2 L324.9,274.2 L324.4,275.1 L324.5,274.0 L324.6,272.8 L325.5,272.1 L326.3,270.7 L326.2,269.8 L327.0,268.0 L328.3,266.3 L329.1,265.9 L329.7,264.4 L329.8,263.0 L330.6,261.4 L332.2,260.4 L333.6,257.7 L343.3,257.7ZM343.6,257.7 L343.7,254.6 L347.3,252.6 L349.6,252.3 L351.4,251.5 L352.2,250.2 L354.8,249.2 L354.9,247.3 L356.2,247.1 L357.2,246.1 L360.1,245.6 L360.5,244.6 L359.9,244.1 L359.2,241.3 L359.1,239.7 L358.3,238.0 L360.4,236.6 L362.7,236.2 L364.1,235.1 L366.2,234.3 L369.8,233.8 L373.4,233.6 L374.5,234.0 L376.5,233.0 L378.8,232.9 L379.7,233.5 L381.2,233.4 L380.8,234.7 L381.2,237.2 L380.8,239.4 L379.4,240.8 L379.7,242.8 L381.5,244.4 L381.6,245.0 L382.9,246.1 L384.0,250.7 L384.8,253.1 L384.9,254.3 L384.6,256.4 L384.8,257.6 L384.5,259.0 L384.8,260.7 L383.9,261.8 L385.3,263.7 L385.4,264.8 L386.2,266.2 L387.2,265.8 L389.0,267.0 L390.1,268.6 L382.4,273.6 L375.9,278.7 L372.7,279.9 L370.2,280.2 L370.2,278.5 L369.1,278.1 L367.7,277.3 L367.1,276.1 L359.5,270.4 L351.9,264.7 L343.6,258.3ZM384.0,250.7 L385.1,250.1 L385.2,249.0 L385.0,247.9 L386.5,246.9 L387.1,246.1 L388.1,245.4 L388.2,243.3 L390.8,244.3 L391.7,244.0 L393.6,244.5 L396.6,245.6 L397.7,247.9 L399.7,248.5 L402.9,249.6 L405.3,250.8 L406.3,250.2 L407.3,249.0 L406.7,247.0 L407.3,245.7 L408.8,244.5 L410.3,244.1 L413.3,244.6 L414.2,245.8 L415.0,245.8 L415.7,246.3 L417.9,246.6 L418.5,247.4 L417.8,248.7 L418.2,249.8 L417.8,251.4 L418.6,253.5 L419.1,262.8 L419.5,272.5 L419.7,277.7 L417.1,277.7 L417.1,278.8 L407.9,273.8 L398.8,268.8 L396.5,270.2 L394.9,271.2 L393.6,269.7 L390.1,268.6 L389.0,267.0 L387.2,265.8 L386.2,266.2 L385.4,264.8 L385.3,263.7 L383.9,261.8 L384.8,260.7 L384.5,259.0 L384.8,257.6 L384.6,256.4 L384.9,254.3 L384.8,253.1ZM440.6,252.9 L440.0,253.9 L439.7,255.9 L439.2,257.3 L438.7,257.7 L437.9,256.9 L436.8,255.7 L434.9,251.9 L434.7,252.2 L435.9,254.9 L437.5,257.6 L439.4,261.6 L440.4,263.1 L441.2,264.5 L443.4,267.4 L443.0,267.9 L443.2,269.6 L445.9,271.9 L446.4,272.5 L437.4,272.5 L428.6,272.5 L419.5,272.5 L419.1,262.8 L418.6,253.5 L417.8,251.4 L418.2,249.8 L417.8,248.7 L418.5,247.4 L421.5,247.4 L423.6,248.1 L425.9,248.9 L426.9,249.3 L428.6,248.4 L429.4,247.7 L431.3,247.5 L432.9,247.8 L433.7,249.1 L434.1,248.3 L435.9,248.9 L437.7,249.0 L438.7,248.4ZM335.2,291.8 L333.7,290.0 L332.3,288.1 L330.8,287.4 L329.7,286.6 L328.5,286.6 L327.3,287.2 L326.2,287.0 L325.4,287.8 L325.2,286.4 L325.9,285.1 L326.2,282.6 L326.0,280.1 L325.8,278.8 L326.1,277.5 L325.5,276.2 L324.4,275.1 L324.9,274.2 L333.7,274.2 L333.4,270.5 L334.0,269.1 L336.1,268.9 L336.2,262.2 L343.5,262.3 L343.6,258.3 L351.9,264.7 L348.5,264.7 L349.5,276.0 L350.5,287.3 L350.9,287.6 L350.3,289.5 L341.2,289.5 L340.8,290.1 L339.9,289.9 L338.6,290.4 L337.1,289.7 L336.3,289.8 L335.9,291.3ZM324.7,294.5 L323.8,292.4 L322.7,291.5 L323.7,291.0 L324.8,289.2 L325.4,287.8 L326.2,287.0 L327.3,287.2 L328.5,286.6 L329.7,286.6 L330.8,287.4 L332.3,288.1 L333.7,290.0 L335.2,291.8 L335.2,293.4 L335.7,294.9 L336.5,295.6 L336.7,296.7 L336.6,297.5 L336.3,297.6 L335.0,297.4 L334.8,297.7 L334.3,297.8 L332.7,297.1 L331.6,297.1 L327.3,297.0 L326.7,297.3 L326.0,297.2 L324.7,297.6 L324.4,295.6 L326.5,295.7 L327.0,295.3 L327.5,295.3 L328.3,294.7 L329.3,295.2 L330.3,295.3 L331.3,294.7 L330.8,293.9 L330.1,294.4 L329.3,294.4 L328.5,293.7 L327.7,293.8 L327.2,294.4 L324.7,294.5ZM324.4,295.6 L324.7,294.5 L327.2,294.4 L327.7,293.8 L328.5,293.7 L329.3,294.4 L330.1,294.4 L330.8,293.9 L331.3,294.7 L330.3,295.3 L329.3,295.2 L328.3,294.7 L327.5,295.3 L327.0,295.3 L326.5,295.7ZM328.2,301.1 L327.0,300.0 L326.1,299.9 L325.6,299.1 L325.6,298.7 L324.9,298.2 L324.7,297.6 L326.0,297.2 L326.7,297.3 L327.3,297.0 L331.6,297.1 L331.5,298.0 L331.3,298.3 L331.5,299.1 L331.1,299.5 L330.6,299.5 L330.0,299.9 L329.3,299.8ZM336.6,312.2 L336.0,312.1 L334.4,311.0 L333.2,309.6 L332.8,308.7 L332.5,306.7 L333.8,305.6 L334.0,304.8 L334.4,304.2 L335.1,304.2 L335.6,303.7 L337.4,303.7 L338.1,304.7 L338.6,305.8 L338.5,306.5 L338.9,307.2 L338.8,308.2 L339.4,308.0 L338.4,309.2 L337.3,310.6 L337.2,311.4ZM345.2,318.6 L344.6,318.6 L342.2,317.4 L340.1,315.4 L338.2,313.9 L336.6,312.2 L337.2,311.4 L337.3,310.6 L338.4,309.2 L339.4,308.0 L339.9,308.0 L340.5,307.7 L341.5,309.3 L341.3,310.3 L341.8,310.9 L342.4,310.9 L342.9,309.8 L343.6,309.9 L343.4,310.6 L343.7,311.9 L343.2,313.1 L343.8,313.8 L344.6,314.0 L345.5,315.1 L345.6,316.1 L345.4,316.4ZM365.4,314.5 L361.8,316.0 L360.6,316.9 L358.5,317.7 L356.4,317.0 L356.5,315.9 L355.5,313.7 L356.1,310.7 L357.1,308.5 L356.5,304.8 L356.2,302.8 L356.2,301.3 L360.2,301.2 L361.3,301.4 L362.0,301.0 L363.0,301.2 L362.9,302.0 L363.9,303.4 L363.9,305.2 L364.1,307.3 L364.6,308.3 L364.1,310.6 L364.3,311.9 L364.9,313.6ZM369.2,313.6 L367.3,313.9 L366.7,312.1 L366.8,306.1 L366.4,305.6 L366.3,304.3 L365.5,303.4 L364.8,302.6 L365.1,301.2 L365.8,300.9 L366.3,299.8 L367.5,299.6 L367.9,298.8 L368.7,298.0 L369.5,298.0 L371.3,299.5 L371.2,300.4 L371.7,301.9 L371.3,303.0 L371.5,303.7 L370.4,305.3 L369.7,306.1 L369.3,307.7 L369.3,309.4ZM367.9,298.8 L368.0,297.0 L365.3,296.4 L365.3,295.1 L364.0,293.4 L363.7,292.2 L363.8,291.0 L365.3,290.9 L366.2,289.9 L369.3,289.7 L371.3,289.3 L371.5,287.7 L372.7,285.9 L372.7,279.9 L375.9,278.7 L382.4,273.6 L390.1,268.6 L393.6,269.7 L394.9,271.2 L396.5,270.2 L397.2,274.3 L398.0,275.0 L398.1,275.8 L399.0,276.7 L398.6,277.8 L397.8,283.1 L397.8,286.5 L394.9,289.0 L394.0,292.4 L395.0,293.4 L395.0,295.1 L396.5,295.1 L396.2,296.4 L395.6,296.5 L395.5,297.4 L395.1,297.4 L393.5,294.5 L393.0,294.4 L391.2,295.9 L389.4,295.1 L388.2,295.0 L387.5,295.4 L386.2,295.3 L384.8,296.4 L383.7,296.4 L380.9,295.1 L379.8,295.7 L378.6,295.7 L377.8,294.7 L375.5,293.7 L373.0,294.0 L372.4,294.6 L372.1,296.1 L371.4,297.2 L371.3,299.5 L369.5,298.0 L368.7,298.0ZM398.2,310.6 L400.1,310.4 L400.5,309.7 L400.9,309.8 L401.5,310.4 L404.4,309.4 L405.3,308.3 L406.5,307.4 L406.3,306.5 L406.9,306.3 L409.2,306.4 L411.3,305.2 L412.9,302.4 L414.1,301.3 L415.5,300.9 L415.8,302.0 L417.1,303.6 L417.2,304.7 L416.8,305.8 L417.0,306.6 L417.8,307.3 L419.6,308.5 L420.8,309.5 L420.9,310.4 L422.5,311.7 L423.4,312.9 L424.0,314.4 L425.7,315.5 L426.1,316.3 L425.4,316.6 L423.9,316.5 L422.2,316.2 L421.3,316.5 L421.0,317.1 L420.2,317.2 L419.3,316.6 L416.8,317.9 L415.7,317.7 L415.4,317.9 L414.7,319.5 L413.0,319.0 L411.3,318.7 L409.8,317.7 L407.9,316.8 L406.7,317.7 L405.8,319.0 L405.6,320.8 L404.1,320.7 L402.5,320.2 L401.2,321.6 L400.0,324.1 L399.7,323.3 L399.6,322.1 L398.6,321.3 L397.7,319.9 L397.5,319.0 L396.4,317.6 L396.6,316.8 L396.3,315.7 L396.5,313.7 L397.1,313.2ZM385.3,324.0 L389.0,324.1 L389.1,327.2 L385.7,327.2 L384.9,327.4 L384.5,327.0ZM390.7,343.2 L390.5,343.2 L388.6,340.4 L390.4,339.0 L389.5,337.2 L390.3,336.6 L391.9,336.2 L392.1,335.1 L393.3,336.4 L395.3,336.5 L396.0,335.2 L396.3,333.5 L396.1,331.4 L395.0,329.9 L396.0,326.9 L395.4,326.3 L393.7,326.6 L393.0,325.2 L393.2,324.1 L396.1,324.2 L398.0,324.9 L399.8,325.5 L400.0,324.1 L401.2,321.6 L402.5,320.2 L404.1,320.7 L405.6,320.8 L405.5,322.4 L404.8,323.8 L404.3,325.4 L404.0,327.8 L404.2,329.2 L403.8,330.2 L403.7,331.1 L403.5,331.9 L402.0,333.2 L400.9,334.6 L399.9,337.1 L400.0,339.3 L399.4,340.1 L398.0,341.3 L396.6,343.0 L395.8,342.5 L395.6,341.8 L394.4,341.8 L393.6,342.8 L393.0,342.5 L392.1,341.6 L391.4,342.1 L390.5,343.2ZM400.7,345.4 L401.2,347.3 L401.8,348.9 L402.4,349.7 L403.2,351.1 L404.7,350.9 L405.5,350.5 L406.8,350.9 L407.2,350.2 L407.7,348.7 L409.2,348.6 L409.3,348.1 L410.5,348.1 L410.3,349.1 L413.1,349.1 L413.1,350.7 L413.5,351.7 L413.2,353.3 L413.3,354.9 L414.1,355.9 L413.9,359.0 L414.5,358.7 L415.5,358.8 L416.9,358.4 L417.9,358.6 L418.2,359.4 L417.9,360.6 L418.3,361.9 L417.9,362.9 L418.1,363.8 L413.3,363.7 L413.0,372.0 L414.5,374.2 L415.9,375.8 L411.7,376.9 L406.2,376.5 L404.6,375.3 L395.4,375.4 L395.0,375.6 L393.7,374.4 L392.2,374.3 L390.9,374.7 L389.7,375.2 L389.6,373.6 L389.9,371.3 L390.7,368.9 L390.9,367.8 L391.6,365.4 L392.2,364.4 L393.5,362.6 L394.3,361.5 L394.6,359.5 L394.5,358.1 L393.8,357.1 L393.2,355.5 L392.6,354.0 L392.8,353.4 L393.5,352.4 L392.8,349.9 L392.3,348.1 L391.2,346.4 L391.4,346.0 L392.4,345.6 L393.0,345.6 L393.9,345.3ZM391.7,344.9 L391.1,345.1 L390.5,343.2 L391.4,342.1 L392.1,341.6 L393.0,342.5 L392.1,343.0 L391.8,343.7ZM441.1,305.3 L440.8,305.2 L440.8,303.9 L440.5,303.0 L439.3,302.0 L439.0,300.1 L439.2,298.1 L438.1,298.0 L438.0,298.6 L436.6,298.7 L437.2,299.5 L437.4,301.0 L436.2,302.5 L435.1,304.3 L433.9,304.6 L431.9,303.1 L431.1,303.6 L430.9,304.4 L429.7,304.9 L429.6,305.4 L427.3,305.4 L427.0,304.9 L425.4,304.8 L424.5,305.2 L423.9,305.0 L422.7,303.5 L422.3,302.8 L420.6,303.1 L420.0,304.3 L419.5,306.7 L418.7,307.2 L418.0,307.5 L417.8,307.3 L417.0,306.6 L416.8,305.8 L417.2,304.7 L417.1,303.6 L415.8,302.0 L415.5,300.9 L415.5,300.2 L414.7,299.5 L414.6,297.9 L414.1,296.9 L413.3,297.1 L413.5,296.1 L414.1,295.0 L413.8,293.9 L414.5,293.2 L414.0,292.5 L414.6,290.9 L415.6,289.0 L417.6,289.2 L417.1,278.8 L417.1,277.7 L419.7,277.7 L419.5,272.5 L428.6,272.5 L437.4,272.5 L446.4,272.5 L447.2,275.0 L446.8,275.5 L447.2,278.2 L448.2,281.3 L449.1,282.0 L450.4,282.9 L449.4,284.4 L447.7,284.9 L447.0,285.6 L446.9,287.4 L446.1,291.2 L446.4,292.3 L446.1,294.5 L445.2,297.1 L443.9,298.4 L443.0,300.4 L442.8,301.5 L441.7,302.2 L441.1,304.9ZM434.2,320.8 L432.1,319.1 L431.6,318.0 L430.3,318.5 L429.2,318.3 L428.6,318.8 L427.6,318.5 L426.1,316.3 L425.7,315.5 L424.0,314.4 L423.4,312.9 L422.5,311.7 L420.9,310.4 L420.8,309.5 L419.6,308.5 L418.0,307.5 L418.7,307.2 L419.5,306.7 L420.0,304.3 L420.6,303.1 L422.3,302.8 L422.7,303.5 L423.9,305.0 L424.5,305.2 L425.4,304.8 L427.0,304.9 L427.3,305.4 L429.6,305.4 L429.7,304.9 L430.9,304.4 L431.1,303.6 L431.9,303.1 L433.9,304.6 L435.1,304.3 L436.2,302.5 L437.4,301.0 L437.2,299.5 L436.6,298.7 L438.0,298.6 L438.1,298.0 L439.2,298.1 L439.0,300.1 L439.3,302.0 L440.5,303.0 L440.8,303.9 L440.8,305.2 L441.1,305.3 L441.2,307.3 L440.9,308.1 L439.6,308.2 L438.9,309.7 L440.3,309.8 L441.5,311.1 L441.9,312.1 L443.0,312.8 L444.4,315.6 L442.9,317.3 L441.5,318.9 L440.1,320.1 L438.5,320.1 L436.6,320.7 L435.1,320.1ZM460.1,297.2 L459.3,296.3 L458.3,294.8 L457.3,294.0 L456.6,293.1 L454.6,292.0 L453.0,292.0 L452.4,291.5 L451.1,292.1 L449.7,290.9 L449.0,292.8 L446.4,292.3 L446.1,291.2 L446.9,287.4 L447.0,285.6 L447.7,284.9 L449.4,284.4 L450.4,282.9 L451.9,286.0 L452.7,288.4 L454.0,289.6 L457.2,292.1 L458.6,293.6 L459.9,295.1 L460.6,296.0 L461.8,296.8 L461.1,297.4ZM449.7,290.9 L451.1,292.1 L452.4,291.5 L453.0,292.0 L454.6,292.0 L456.6,293.1 L457.3,294.0 L458.3,294.8 L459.3,296.3 L460.1,297.2 L459.4,298.4 L458.6,299.6 L458.9,300.3 L458.9,301.1 L460.2,301.2 L460.7,300.9 L461.3,301.4 L460.8,302.4 L461.7,303.8 L462.6,305.1 L463.5,306.0 L471.1,309.1 L473.0,309.1 L466.7,316.9 L463.7,317.0 L461.7,318.9 L460.2,318.9 L459.6,319.7 L458.0,319.7 L457.1,318.9 L455.0,320.0 L454.3,321.1 L452.8,320.8 L452.3,320.5 L451.7,320.6 L451.0,320.6 L448.1,318.4 L446.4,318.4 L445.6,317.5 L445.6,316.0 L444.4,315.6 L443.0,312.8 L441.9,312.1 L441.5,311.1 L440.3,309.8 L438.9,309.7 L439.6,308.2 L440.9,308.1 L441.2,307.3 L441.1,304.9 L441.7,302.2 L442.8,301.5 L443.0,300.4 L443.9,298.4 L445.2,297.1 L446.1,294.5 L446.4,292.3 L449.0,292.8ZM436.6,332.7 L434.1,332.6 L433.3,333.0 L431.9,333.8 L431.3,333.5 L431.3,331.5 L431.9,330.5 L432.0,328.4 L432.5,327.2 L433.4,325.9 L434.2,325.2 L435.0,324.2 L434.1,323.9 L434.2,320.8 L435.1,320.1 L436.6,320.7 L438.5,320.1 L440.1,320.1 L441.5,318.9 L442.6,320.7 L442.9,322.0 L443.9,325.0 L443.1,326.9 L442.0,328.6 L441.3,329.7 L441.3,332.5ZM430.7,341.8 L430.6,338.6 L430.0,337.4 L431.4,337.6 L432.1,336.1 L433.4,336.3 L433.5,337.3 L434.0,337.9 L434.0,338.8 L433.4,339.3 L432.5,340.7 L431.6,341.6ZM438.4,354.1 L439.4,355.3 L440.0,357.5 L439.6,358.2 L439.0,360.4 L439.4,362.5 L438.6,363.4 L437.9,365.9 L439.0,366.5 L432.0,368.7 L432.2,370.6 L430.4,370.9 L429.1,371.9 L428.8,372.9 L428.0,373.1 L425.9,375.2 L424.6,376.9 L423.8,377.0 L423.1,376.7 L420.5,376.4 L420.1,376.2 L420.1,376.0 L419.2,375.4 L417.8,375.2 L415.9,375.8 L414.5,374.2 L413.0,372.0 L413.3,363.7 L418.1,363.8 L417.9,362.9 L418.3,361.9 L417.9,360.6 L418.2,359.4 L417.9,358.6 L418.7,358.6 L418.8,359.4 L419.9,359.4 L421.4,359.6 L422.1,360.8 L423.9,361.2 L425.4,360.4 L425.8,361.7 L427.6,362.1 L428.4,363.2 L429.3,364.6 L431.1,364.7 L431.0,361.9 L430.3,362.3 L428.7,361.3 L428.1,360.8 L428.5,358.2 L428.9,355.1 L428.5,354.0 L429.1,352.3 L429.8,352.0 L432.9,351.5 L433.8,351.8 L434.7,352.5 L435.6,352.9 L437.1,353.4ZM442.4,360.1 L441.6,362.1 L442.2,365.5 L443.0,365.5 L443.8,366.3 L444.7,368.2 L444.7,371.6 L443.7,372.1 L442.9,373.9 L441.5,372.3 L441.4,370.5 L441.9,369.3 L441.8,368.2 L441.0,367.6 L440.3,367.8 L439.0,366.5 L437.9,365.9 L438.6,363.4 L439.4,362.5 L439.0,360.4 L439.6,358.2 L440.0,357.5 L439.4,355.3 L438.4,354.1 L440.6,354.6 L441.1,355.3 L441.8,356.6ZM421.3,378.5 L421.8,378.9 L422.4,380.4 L424.9,383.3 L425.8,383.6 L425.8,384.5 L426.4,386.2 L428.1,386.6 L429.5,387.8 L426.2,389.7 L424.1,391.6 L423.3,393.4 L422.6,394.4 L421.3,394.6 L420.9,395.8 L420.6,396.7 L419.2,397.3 L417.3,397.1 L416.3,396.4 L415.4,396.1 L414.2,396.7 L413.6,397.9 L412.5,398.7 L411.4,399.9 L409.7,400.2 L409.3,399.2 L409.6,397.7 L408.3,395.2 L407.7,394.8 L408.0,387.1 L410.2,387.0 L410.6,377.7 L412.3,377.6 L415.8,376.7 L416.7,377.8 L418.2,376.8 L418.8,376.8 L420.1,376.2 L420.5,376.4ZM399.4,404.7 L397.8,402.7 L397.0,400.8 L396.6,398.3 L396.1,396.4 L395.5,392.4 L395.5,389.3 L395.2,387.8 L394.4,386.7 L393.2,384.6 L392.1,381.4 L391.7,379.8 L389.8,377.3 L389.7,375.2 L390.9,374.7 L392.2,374.3 L393.7,374.4 L395.0,375.6 L395.4,375.4 L404.6,375.3 L406.2,376.5 L411.7,376.9 L415.9,375.8 L417.8,375.2 L419.2,375.4 L420.1,376.0 L420.1,376.2 L418.8,376.8 L418.2,376.8 L416.7,377.8 L415.8,376.7 L412.3,377.6 L410.6,377.7 L410.2,387.0 L408.0,387.1 L407.7,394.8 L407.3,404.4 L405.3,405.8 L404.1,406.0 L402.7,405.5 L401.7,405.3 L401.4,404.2 L400.5,403.4ZM433.1,406.5 L432.6,406.9 L431.5,408.2 L430.8,409.5 L429.4,411.4 L426.7,414.1 L425.0,415.7 L423.2,416.9 L420.9,417.9 L419.7,418.0 L419.4,418.8 L418.1,418.4 L417.0,418.9 L414.6,418.4 L413.3,418.7 L412.4,418.5 L410.0,419.6 L408.2,420.0 L406.7,421.0 L405.8,421.1 L404.9,420.1 L404.2,420.1 L403.3,418.9 L403.2,419.3 L402.9,418.6 L403.0,417.0 L402.4,415.3 L403.1,414.8 L403.2,412.8 L401.9,410.4 L400.8,408.1 L400.8,408.1 L399.4,404.7 L400.5,403.4 L401.4,404.2 L401.7,405.3 L402.7,405.5 L404.1,406.0 L405.3,405.8 L407.3,404.4 L407.7,394.8 L408.3,395.2 L409.6,397.7 L409.3,399.2 L409.7,400.2 L411.4,399.9 L412.5,398.7 L413.6,397.9 L414.2,396.7 L415.4,396.1 L416.3,396.4 L417.3,397.1 L419.2,397.3 L420.6,396.7 L420.9,395.8 L421.3,394.6 L422.6,394.4 L423.3,393.4 L424.1,391.6 L426.2,389.7 L429.5,387.8 L430.4,387.8 L431.5,388.2 L432.3,387.9 L433.5,388.2 L434.4,391.9 L434.9,393.7 L434.3,396.6 L434.4,397.6 L433.3,397.1 L432.6,397.3 L432.4,398.0 L431.7,399.0 L431.7,399.9 L432.9,401.4 L434.2,401.1 L434.8,399.9 L436.5,399.9 L435.8,401.8 L435.3,404.0 L434.7,405.2ZM427.5,405.7 L428.2,406.5 L427.4,407.8 L427.0,408.6 L425.7,409.1 L425.2,409.9 L424.4,410.2 L422.9,408.1 L424.2,406.5 L425.5,405.4 L426.5,404.9ZM434.8,399.9 L434.2,401.1 L432.9,401.4 L431.7,399.9 L431.7,399.0 L432.4,398.0 L432.6,397.3 L433.3,397.1 L434.4,397.6 L434.7,398.7ZM502.5,456.8 L503.5,457.6 L505.3,457.9 L505.2,458.4 L504.2,459.5 L501.0,459.7 L501.5,458.3 L502.2,457.3ZM532.2,317.4 L532.9,317.4 L533.3,321.9 L532.6,321.9ZM493.1,383.5 L493.8,383.5 L493.9,382.7 L493.2,382.7ZM488.3,385.6 L489.0,385.6 L489.0,384.8 L488.4,384.8ZM462.4,360.8 L462.8,360.8 L462.8,360.4 L462.4,360.4ZM464.4,362.1 L464.8,362.1 L464.9,361.7 L464.4,361.7ZM490.8,342.4 L491.2,342.4 L491.3,341.9 L490.8,341.9ZM378.0,329.6 L378.5,329.6 L378.5,329.1 L378.0,329.1ZM308.8,290.7 L309.2,290.7 L309.3,290.3 L308.8,290.3ZM306.0,286.3 L306.4,286.3 L306.4,285.8 L306.0,285.8ZM310.3,288.1 L310.7,288.1 L310.7,287.7 L310.3,287.7ZM672.8,310.8 L673.2,310.8 L673.1,310.3 L672.7,310.3ZM712.5,310.9 L712.9,310.9 L712.9,310.4 L712.5,310.4ZM727.4,312.2 L727.8,312.2 L727.7,311.7 L727.3,311.7ZM757.3,311.7 L757.7,311.7 L757.6,311.2 L757.2,311.2ZM748.0,306.7 L748.4,306.7 L748.4,306.2 L748.0,306.2ZM748.4,331.6 L748.8,331.6 L748.8,331.2 L748.4,331.2ZM762.4,326.6 L762.8,326.6 L762.8,326.1 L762.4,326.1ZM775.3,352.5 L775.7,352.5 L775.7,352.0 L775.3,352.0ZM765.9,332.9 L766.3,332.9 L766.3,332.4 L765.9,332.4ZM-32.2,366.0 L-31.5,366.0 L-31.7,365.2 L-32.4,365.2ZM-30.4,366.9 L-29.8,366.9 L-29.9,366.1 L-30.6,366.1ZM-33.8,385.5 L-33.4,385.5 L-33.6,385.1 L-34.0,385.1ZM221.9,285.5 L222.3,285.5 L222.3,285.0 L221.9,285.0ZM222.2,288.0 L222.9,288.0 L223.0,287.2 L222.3,287.2ZM222.6,290.0 L223.0,290.0 L223.0,289.5 L222.6,289.5ZM223.1,292.1 L223.8,292.1 L223.8,291.3 L223.1,291.3ZM223.2,293.9 L223.6,293.9 L223.6,293.4 L223.2,293.4ZM222.5,295.7 L222.9,295.7 L223.0,295.2 L222.5,295.2ZM226.3,295.8 L226.7,295.8 L226.7,295.4 L226.3,295.4ZM221.2,298.6 L221.6,298.6 L221.6,298.1 L221.2,298.1Z"/><clipPath id="ndclip"><use href="#ndp"/></clipPath></defs>
<path clip-path="url(#ndclip)" fill="none" stroke="#eaeaea" stroke-width="1.6" d="M-397.27,500L-17.27,120M-391.59,500L-11.59,120M-385.91,500L-5.91,120M-380.23,500L-0.23,120M-374.55,500L5.45,120M-368.86,500L11.14,120M-363.18,500L16.82,120M-357.50,500L22.50,120M-351.82,500L28.18,120M-346.13,500L33.87,120M-340.45,500L39.55,120M-334.77,500L45.23,120M-329.09,500L50.91,120M-323.40,500L56.60,120M-317.72,500L62.28,120M-312.04,500L67.96,120M-306.36,500L73.64,120M-300.67,500L79.33,120M-294.99,500L85.01,120M-289.31,500L90.69,120M-283.63,500L96.37,120M-277.94,500L102.06,120M-272.26,500L107.74,120M-266.58,500L113.42,120M-260.90,500L119.10,120M-255.21,500L124.79,120M-249.53,500L130.47,120M-243.85,500L136.15,120M-238.17,500L141.83,120M-232.48,500L147.52,120M-226.80,500L153.20,120M-221.12,500L158.88,120M-215.44,500L164.56,120M-209.75,500L170.25,120M-204.07,500L175.93,120M-198.39,500L181.61,120M-192.71,500L187.29,120M-187.02,500L192.98,120M-181.34,500L198.66,120M-175.66,500L204.34,120M-169.98,500L210.02,120M-164.29,500L215.71,120M-158.61,500L221.39,120M-152.93,500L227.07,120M-147.25,500L232.75,120M-141.56,500L238.44,120M-135.88,500L244.12,120M-130.20,500L249.80,120M-124.52,500L255.48,120M-118.83,500L261.17,120M-113.15,500L266.85,120M-107.47,500L272.53,120M-101.79,500L278.21,120M-96.11,500L283.89,120M-90.42,500L289.58,120M-84.74,500L295.26,120M-79.06,500L300.94,120M-73.38,500L306.62,120M-67.69,500L312.31,120M-62.01,500L317.99,120M-56.33,500L323.67,120M-50.65,500L329.35,120M-44.96,500L335.04,120M-39.28,500L340.72,120M-33.60,500L346.40,120M-27.92,500L352.08,120M-22.23,500L357.77,120M-16.55,500L363.45,120M-10.87,500L369.13,120M-5.19,500L374.81,120M0.50,500L380.50,120M6.18,500L386.18,120M11.86,500L391.86,120M17.54,500L397.54,120M23.23,500L403.23,120M28.91,500L408.91,120M34.59,500L414.59,120M40.27,500L420.27,120M45.96,500L425.96,120M51.64,500L431.64,120M57.32,500L437.32,120M63.00,500L443.00,120M68.69,500L448.69,120M74.37,500L454.37,120M80.05,500L460.05,120M85.73,500L465.73,120M91.42,500L471.42,120M97.10,500L477.10,120M102.78,500L482.78,120M108.46,500L488.46,120M114.15,500L494.15,120M119.83,500L499.83,120M125.51,500L505.51,120M131.19,500L511.19,120M136.88,500L516.88,120M142.56,500L522.56,120M148.24,500L528.24,120M153.92,500L533.92,120M159.61,500L539.61,120M165.29,500L545.29,120M170.97,500L550.97,120M176.65,500L556.65,120M182.34,500L562.34,120M188.02,500L568.02,120M193.70,500L573.70,120M199.38,500L579.38,120M205.06,500L585.06,120M210.75,500L590.75,120M216.43,500L596.43,120M222.11,500L602.11,120M227.79,500L607.79,120M233.48,500L613.48,120M239.16,500L619.16,120M244.84,500L624.84,120M250.52,500L630.52,120M256.21,500L636.21,120M261.89,500L641.89,120M267.57,500L647.57,120M273.25,500L653.25,120M278.94,500L658.94,120M284.62,500L664.62,120M290.30,500L670.30,120M295.98,500L675.98,120M301.67,500L681.67,120M307.35,500L687.35,120M313.03,500L693.03,120M318.71,500L698.71,120M324.40,500L704.40,120M330.08,500L710.08,120M335.76,500L715.76,120M341.44,500L721.44,120M347.13,500L727.13,120M352.81,500L732.81,120M358.49,500L738.49,120M364.17,500L744.17,120M369.86,500L749.86,120M375.54,500L755.54,120M381.22,500L761.22,120M386.90,500L766.90,120M392.59,500L772.59,120M398.27,500L778.27,120M403.95,500L783.95,120M409.63,500L789.63,120M415.32,500L795.32,120M421.00,500L801.00,120M426.68,500L806.68,120M432.36,500L812.36,120M438.05,500L818.05,120M443.73,500L823.73,120M449.41,500L829.41,120M455.09,500L835.09,120M460.78,500L840.78,120M466.46,500L846.46,120M472.14,500L852.14,120M477.82,500L857.82,120M483.50,500L863.50,120M489.19,500L869.19,120M494.87,500L874.87,120M500.55,500L880.55,120M506.23,500L886.23,120M511.92,500L891.92,120M517.60,500L897.60,120M523.28,500L903.28,120M528.96,500L908.96,120M534.65,500L914.65,120M540.33,500L920.33,120M546.01,500L926.01,120M551.69,500L931.69,120M557.38,500L937.38,120M563.06,500L943.06,120M568.74,500L948.74,120M574.42,500L954.42,120M580.11,500L960.11,120M585.79,500L965.79,120M591.47,500L971.47,120M597.15,500L977.15,120M602.84,500L982.84,120M608.52,500L988.52,120M614.20,500L994.20,120M619.88,500L999.88,120M625.57,500L1005.57,120M631.25,500L1011.25,120M636.93,500L1016.93,120M642.61,500L1022.61,120M648.30,500L1028.30,120M653.98,500L1033.98,120M659.66,500L1039.66,120M665.34,500L1045.34,120M671.03,500L1051.03,120M676.71,500L1056.71,120M682.39,500L1062.39,120M688.07,500L1068.07,120M693.76,500L1073.76,120M699.44,500L1079.44,120M705.12,500L1085.12,120M710.80,500L1090.80,120M716.49,500L1096.49,120M722.17,500L1102.17,120M727.85,500L1107.85,120M733.53,500L1113.53,120M739.22,500L1119.22,120M744.90,500L1124.90,120M750.58,500L1130.58,120M756.26,500L1136.26,120M761.95,500L1141.95,120M767.63,500L1147.63,120M773.31,500L1153.31,120M778.99,500L1158.99,120M784.67,500L1164.67,120M790.36,500L1170.36,120M796.04,500L1176.04,120M801.72,500L1181.72,120M807.40,500L1187.40,120M813.09,500L1193.09,120M818.77,500L1198.77,120M824.45,500L1204.45,120M830.13,500L1210.13,120M835.82,500L1215.82,120M841.50,500L1221.50,120M847.18,500L1227.18,120M852.86,500L1232.86,120M858.55,500L1238.55,120"/>
<use href="#ndp" fill="none" stroke="#c8c8c8" stroke-width="0.6" stroke-linejoin="round"/>
<g id="data" stroke="#555" stroke-opacity="0.75" stroke-width="0.6" stroke-linejoin="round">
<path fill="#2c7fb8" d="M105.5,245.0 L111.0,244.5 L110.6,245.0 L117.9,248.1 L124.1,248.1 L124.5,247.0 L128.2,247.0 L130.9,251.3 L131.0,252.6 L133.7,254.2 L135.5,252.2 L137.3,252.1 L138.7,253.1 L139.8,256.5 L140.8,258.1 L141.2,261.0 L145.1,262.3 L143.9,264.6 L143.1,266.5 L142.3,270.1 L141.8,271.4 L142.1,272.7 L142.6,274.0 L142.7,276.1 L144.0,278.0 L144.2,279.5 L145.0,280.8 L147.4,281.5 L148.1,282.6 L150.3,281.9 L151.9,281.6 L153.8,281.1 L155.2,280.6 L156.7,279.5 L157.6,278.0 L157.9,275.9 L158.5,275.1 L160.2,274.4 L162.7,273.8 L164.6,273.9 L166.0,273.7 L166.5,274.2 L166.2,275.5 L164.8,277.0 L164.1,278.6 L164.4,279.1 L163.9,280.2 L163.1,282.2 L162.6,281.6 L161.7,281.6 L160.7,283.2 L160.0,283.5 L157.8,283.4 L155.8,283.4 L155.6,284.9 L154.5,284.9 L156.6,287.1 L156.4,288.0 L153.5,288.0 L152.2,290.1 L152.4,290.6 L152.1,291.2 L152.0,292.0 L149.7,289.2 L148.5,288.3 L146.8,287.6 L145.5,287.8 L143.6,288.8 L142.4,289.1 L140.9,288.4 L139.2,287.9 L137.2,286.7 L135.6,286.3 L133.1,285.1 L131.4,283.8 L130.9,283.1 L129.7,283.0 L127.5,282.1 L126.7,281.0 L124.5,279.5 L123.6,277.8 L123.3,276.6 L124.1,276.3 L124.0,275.6 L124.6,274.9 L124.8,274.0 L124.2,272.8 L124.2,271.8 L123.6,270.5 L122.1,267.8 L120.3,265.8 L119.5,264.2 L117.8,263.1 L117.5,262.5 L118.2,260.9 L117.2,260.2 L116.2,259.0 L116.1,257.1 L115.0,256.9 L114.0,255.6 L113.3,254.3 L113.5,253.5 L112.9,251.5 L112.7,249.5 L113.0,248.5 L111.8,247.4 L111.0,247.6 L110.0,246.8 L109.3,247.9 L109.2,249.2 L108.8,251.1 L109.3,252.2 L110.4,254.0 L110.6,254.6 L110.9,254.8 L110.9,255.7 L111.3,255.7 L111.3,257.4 L111.8,258.0 L112.1,258.9 L113.1,260.3 L113.3,262.7 L113.7,263.9 L114.1,265.1 L113.9,266.5 L115.0,266.5 L115.7,267.7 L116.3,268.9 L116.2,269.4 L115.0,270.3 L114.6,270.3 L114.3,268.7 L113.1,267.2 L111.7,266.0 L110.7,265.3 L111.2,263.4 L111.2,262.0 L110.3,261.2 L109.1,260.0 L108.7,260.3 L108.3,259.7 L107.1,259.0 L106.1,257.5 L106.4,257.3 L107.3,257.5 L108.3,256.5 L108.8,255.3 L107.6,253.4 L106.5,252.7 L106.2,251.1 L105.9,249.4 L105.6,247.3Z"/>
<path fill="#41b6c4" d="M158.5,292.3 L159.0,291.6 L158.9,291.1 L159.1,290.6 L160.3,289.9 L161.5,288.9 L161.7,289.0 L162.2,288.5 L162.9,288.5 L163.1,288.7 L163.4,288.6 L164.5,288.8 L165.5,288.7 L166.3,288.4 L166.6,288.2 L167.3,288.3 L167.9,288.4 L168.5,288.4 L168.9,288.2 L169.9,288.5 L170.3,288.6 L170.9,289.1 L171.5,289.7 L172.3,290.1 L172.8,290.8 L172.1,290.7 L171.7,291.1 L170.9,291.4 L170.3,291.4 L169.8,291.8 L169.3,291.6 L169.0,291.2 L168.7,291.3 L168.4,292.0 L168.2,291.9 L168.1,292.5 L167.2,293.2 L166.8,293.5 L166.5,293.8 L165.9,293.3 L165.3,294.0 L164.8,294.0 L164.3,294.0 L164.2,295.3 L163.9,295.4 L163.6,295.9 L162.8,296.1 L162.5,295.2 L161.8,295.0 L162.1,293.9 L161.8,293.7 L161.3,293.5 L160.3,293.8 L160.3,293.4 L159.6,293.0 L159.2,292.5Z"/>
<path fill="#c7e9b4" d="M161.8,295.0 L161.5,295.6 L160.2,295.6 L159.4,295.3 L158.5,294.8 L157.2,294.6 L156.6,294.1 L156.8,293.7 L157.6,293.0 L158.1,292.8 L158.0,292.4 L158.5,292.3 L159.2,292.5 L159.6,293.0 L160.3,293.4 L160.3,293.8 L161.3,293.5 L161.8,293.7 L162.1,293.9Z"/>
<path fill="#2c7fb8" d="M282.8,348.8 L282.3,343.9 L277.2,342.6 L274.1,339.7 L270.7,337.5 L267.2,337.6 L262.8,336.2 L260.1,337.0 L260.5,335.6 L259.3,334.1 L252.6,331.5 L250.8,333.2 L250.7,330.6 L246.6,330.2 L245.9,329.4 L247.6,327.3 L247.6,325.4 L246.4,325.0 L245.1,320.5 L244.6,319.0 L243.8,319.1 L243.4,320.6 L241.6,323.5 L240.7,324.5 L238.8,323.8 L238.1,324.5 L237.1,324.0 L235.8,323.4 L234.7,323.7 L233.8,323.4 L233.5,324.2 L233.9,324.7 L233.7,325.2 L232.4,325.0 L231.0,324.8 L230.7,324.9 L229.8,325.6 L228.8,326.1 L228.0,326.2 L227.8,326.7 L226.7,326.5 L225.2,325.3 L225.1,324.1 L224.5,322.8 L224.9,320.6 L225.6,319.6 L225.1,318.4 L224.3,318.0 L224.6,316.9 L224.1,316.3 L222.9,316.4 L221.3,318.2 L219.7,319.1 L218.1,319.5 L217.4,320.1 L215.6,319.5 L213.9,319.1 L213.4,319.4 L214.4,320.1 L214.3,321.8 L214.6,323.5 L216.6,323.7 L216.7,324.2 L215.0,325.0 L214.7,326.1 L213.8,326.5 L212.1,327.1 L211.6,327.9 L209.8,328.1 L208.5,326.7 L207.9,324.1 L207.3,323.2 L206.4,325.2 L206.2,325.6 L201.7,325.5 L201.8,327.1 L203.1,327.4 L203.0,328.4 L202.6,328.1 L201.3,328.6 L201.3,330.5 L202.3,331.4 L202.7,332.9 L202.6,334.1 L201.7,341.2 L199.6,341.1 L199.3,341.5 L197.5,342.0 L194.9,343.8 L194.8,345.0 L194.2,345.9 L194.5,347.3 L193.1,348.1 L193.2,349.2 L192.6,349.7 L193.6,352.0 L195.0,353.6 L194.5,354.7 L196.1,354.9 L197.0,356.3 L199.1,356.4 L200.9,354.8 L200.9,358.8 L202.0,359.1 L203.3,358.6 L205.3,358.8 L206.6,358.0 L208.6,357.0 L209.7,356.0 L212.7,355.5 L212.6,357.5 L212.9,358.5 L212.8,360.3 L215.5,362.6 L218.1,363.0 L219.0,364.0 L220.6,364.5 L221.6,365.3 L223.1,365.3 L224.4,366.0 L224.6,367.5 L225.1,368.3 L225.2,369.4 L224.6,369.5 L225.7,372.5 L230.1,372.6 L229.8,374.1 L230.2,375.2 L231.5,375.9 L232.1,377.5 L231.9,379.6 L231.4,380.7 L231.7,382.2 L231.1,382.8 L231.9,384.2 L232.0,387.8 L234.5,388.3 L235.4,387.8 L236.9,388.5 L237.4,389.3 L237.9,391.6 L238.2,392.7 L239.1,392.8 L239.9,392.3 L240.7,392.8 L240.9,394.3 L240.7,395.8 L240.4,397.3 L241.5,396.8 L242.8,398.3 L243.0,400.4 L241.3,401.8 L239.9,402.9 L237.7,405.4 L235.3,409.0 L236.7,409.0 L239.2,410.8 L240.0,410.7 L242.6,412.3 L244.5,413.8 L246.1,415.6 L245.3,416.8 L246.2,418.3 L247.4,416.8 L248.0,414.3 L249.3,413.1 L250.9,411.0 L252.2,408.2 L252.8,406.4 L254.2,405.0 L254.5,403.7 L254.6,401.1 L254.1,399.6 L254.2,397.7 L255.9,395.1 L258.4,393.0 L260.8,392.2 L262.3,391.1 L265.8,390.1 L268.7,388.5 L268.2,390.1 L270.4,387.4 L270.6,384.7 L272.7,381.3 L272.9,377.8 L273.6,376.7 L274.2,371.0 L273.8,366.1 L274.9,364.1 L276.5,361.8 L277.9,358.9 L280.2,356.4 L282.2,353.5Z"/>
<path fill="#2c7fb8" d="M188.9,330.4 L187.9,329.8 L186.8,328.9 L186.1,329.3 L184.2,329.0 L183.6,327.8 L183.2,327.9 L180.9,326.4 L180.6,325.6 L181.4,325.4 L181.4,324.1 L181.9,323.1 L183.1,322.9 L184.1,321.3 L185.0,319.9 L184.1,319.3 L184.6,317.8 L184.2,315.4 L184.7,314.7 L184.4,312.5 L183.6,311.1 L183.9,309.8 L184.7,310.0 L185.1,309.2 L184.7,307.7 L185.0,307.3 L186.1,307.4 L188.0,305.6 L188.9,305.3 L189.0,304.5 L189.5,302.2 L190.9,301.0 L192.4,301.0 L192.6,300.4 L194.4,300.6 L196.3,299.3 L197.2,298.7 L198.4,297.5 L199.2,297.6 L199.8,298.3 L199.3,299.2 L197.8,299.6 L197.1,300.9 L196.2,301.7 L195.4,302.7 L195.0,304.5 L194.3,306.1 L195.5,306.2 L195.8,307.4 L196.2,308.0 L196.4,309.1 L196.1,310.0 L196.1,310.6 L196.7,310.8 L197.2,311.7 L200.2,311.5 L201.5,311.8 L203.0,314.0 L204.0,313.8 L205.6,313.9 L206.9,313.6 L207.8,314.0 L207.3,315.5 L206.8,316.3 L206.5,318.2 L206.9,320.0 L207.6,320.7 L207.6,321.3 L206.4,322.6 L207.3,323.2 L207.9,324.1 L208.5,326.7 L208.1,327.0 L207.7,325.5 L207.0,324.7 L206.2,325.6 L201.7,325.5 L201.8,327.1 L203.1,327.4 L203.0,328.4 L202.6,328.1 L201.3,328.6 L201.3,330.5 L202.3,331.4 L202.7,332.9 L202.6,334.1 L201.7,341.2 L200.5,339.9 L199.8,339.8 L201.3,337.1 L199.5,335.9 L198.1,336.1 L197.3,335.7 L196.0,336.4 L194.3,336.0 L192.9,333.3 L191.8,332.6 L191.1,331.4 L189.5,330.2Z"/>
<path fill="#41b6c4" d="M204.5,376.0 L204.0,377.3 L202.9,378.0 L200.4,376.5 L200.1,375.4 L195.4,372.8 L191.0,369.9 L189.1,368.3 L188.0,366.1 L188.3,365.4 L186.1,362.0 L183.5,357.1 L181.0,351.9 L180.0,350.7 L179.2,348.8 L177.4,347.1 L175.7,346.1 L176.4,344.9 L175.2,342.4 L175.8,340.6 L177.6,338.9 L177.9,340.0 L177.3,340.6 L177.4,341.6 L178.3,341.4 L179.3,341.6 L180.3,343.0 L181.6,341.9 L181.9,340.1 L183.3,337.8 L186.0,336.8 L188.5,334.1 L189.2,332.4 L188.9,330.4 L189.5,330.2 L191.1,331.4 L191.8,332.6 L192.9,333.3 L194.3,336.0 L196.0,336.4 L197.3,335.7 L198.1,336.1 L199.5,335.9 L201.3,337.1 L199.8,339.8 L200.5,339.9 L201.7,341.2 L199.6,341.1 L199.3,341.5 L197.5,342.0 L194.9,343.8 L194.8,345.0 L194.2,345.9 L194.5,347.3 L193.1,348.1 L193.2,349.2 L192.6,349.7 L193.6,352.0 L195.0,353.6 L194.5,354.7 L196.1,354.9 L197.0,356.3 L199.1,356.4 L200.9,354.8 L200.9,358.8 L202.0,359.1 L203.3,358.6 L205.5,362.8 L205.1,363.7 L205.1,365.6 L205.2,367.8 L204.4,369.1 L204.9,370.1 L204.5,371.0 L205.6,373.1 L204.5,376.0Z"/>
<path fill="#41b6c4" d="M216.2,387.7 L217.7,389.6 L218.3,387.5 L220.9,387.6 L221.3,388.2 L225.9,392.4 L227.8,392.8 L230.8,394.8 L233.2,395.8 L233.7,396.9 L231.9,400.9 L234.3,401.7 L236.8,402.0 L238.5,401.6 L240.3,399.6 L240.4,397.3 L241.5,396.8 L242.8,398.3 L243.0,400.4 L241.3,401.8 L239.9,402.9 L237.7,405.4 L235.3,409.0 L235.1,411.1 L235.0,413.8 L235.4,416.4 L235.1,417.0 L235.2,418.7 L235.3,420.0 L238.5,422.3 L238.6,424.1 L240.2,425.2 L240.3,426.5 L239.0,429.8 L236.1,431.2 L231.9,431.8 L229.5,431.5 L230.4,433.0 L230.4,435.0 L231.2,436.3 L230.1,437.2 L228.1,437.6 L225.8,436.6 L225.1,437.3 L226.2,439.9 L227.8,440.7 L228.7,439.8 L229.7,441.2 L228.0,442.0 L226.9,443.6 L227.3,446.2 L227.3,447.6 L225.3,447.6 L224.2,448.9 L224.2,450.8 L226.8,452.7 L229.0,453.2 L229.0,455.5 L227.2,456.9 L226.9,459.9 L225.5,460.9 L225.1,462.1 L226.8,464.7 L228.7,466.2 L227.8,466.0 L225.8,465.6 L220.9,465.3 L219.5,463.8 L218.7,462.0 L217.5,462.1 L216.4,461.2 L215.1,458.5 L216.2,457.4 L216.3,455.8 L215.6,454.5 L215.8,452.3 L215.4,448.9 L214.6,447.4 L215.4,446.9 L214.8,446.0 L213.7,445.5 L214.0,444.4 L212.7,443.4 L211.2,440.4 L211.9,439.9 L210.5,436.7 L210.3,434.1 L210.2,431.7 L211.2,430.8 L209.8,428.3 L209.2,425.9 L210.4,424.2 L209.8,422.0 L210.5,419.4 L209.9,417.0 L209.3,416.5 L207.3,412.0 L208.1,409.3 L207.5,406.8 L207.8,404.4 L208.9,402.0 L210.2,400.3 L209.4,399.3 L209.7,398.5 L209.1,394.1 L211.4,392.8 L211.8,390.1 L211.5,389.5 L213.1,387.1ZM228.1,466.9 L229.3,468.0 L231.1,469.9 L234.2,471.4 L237.2,472.0 L236.9,473.2 L235.1,473.4 L233.7,472.5 L232.5,472.4 L230.5,472.4Z"/>
<path fill="#7fcdbb" d="M402.4,212.9 L403.1,212.9 L402.7,214.0 L403.8,215.0 L403.6,216.2 L403.1,216.3 L402.8,216.6 L402.1,217.2 L402.0,218.6 L400.0,217.6 L399.1,216.5 L398.3,215.9 L397.3,215.0 L396.8,214.2 L395.6,213.0 L396.0,211.9 L396.8,212.5 L397.2,212.0 L398.1,211.9 L400.0,212.3 L401.4,212.3Z"/>
<path fill="#41b6c4" d="M406.1,211.4 L407.4,212.1 L407.7,213.1 L409.0,213.9 L409.6,213.3 L410.1,213.6 L409.7,214.0 L410.1,214.5 L409.7,215.1 L410.0,216.0 L411.1,217.1 L410.4,217.9 L410.1,218.8 L410.4,219.1 L410.1,219.4 L409.1,219.5 L408.4,219.6 L408.3,219.4 L408.5,219.1 L408.7,218.5 L408.4,218.5 L407.9,218.0 L407.6,217.9 L407.3,217.5 L406.9,217.3 L406.5,217.0 L406.2,217.1 L406.0,218.0 L405.5,218.2 L405.6,217.9 L404.8,217.4 L404.1,217.1 L403.7,216.8 L403.1,216.3 L403.6,216.2 L403.8,215.0 L402.7,214.0 L403.1,212.9 L402.4,212.9 L403.1,211.9 L402.4,211.2 L401.8,210.2 L403.3,209.5 L404.6,209.6 L405.8,210.6Z"/>
<path fill="#41b6c4" d="M410.1,214.5 L410.8,215.6 L411.6,215.3 L413.3,215.8 L416.4,215.9 L417.3,215.2 L419.7,214.6 L421.3,215.6 L422.6,215.8 L421.6,216.9 L421.1,218.8 L422.0,220.2 L420.1,219.9 L418.1,220.7 L418.2,222.0 L416.3,222.3 L414.7,221.3 L413.1,222.0 L411.5,222.0 L411.2,220.3 L410.1,219.4 L410.4,219.1 L410.1,218.8 L410.4,217.9 L411.1,217.1 L410.0,216.0 L409.7,215.1Z"/>
<path fill="#7fcdbb" d="M425.8,194.5 L426.5,194.6 L426.9,194.0 L427.5,194.1 L429.5,193.9 L431.1,195.3 L430.7,195.8 L431.0,196.6 L432.6,196.7 L433.5,197.8 L433.6,198.3 L436.3,199.2 L437.8,198.8 L439.2,200.0 L440.4,199.9 L443.6,200.8 L443.7,201.5 L443.2,202.9 L443.9,204.3 L443.8,205.1 L441.9,205.3 L441.0,206.0 L441.1,207.1 L439.5,207.3 L438.3,208.2 L436.4,208.3 L434.8,209.3 L435.2,210.8 L436.3,211.5 L438.4,211.3 L438.2,212.2 L436.0,212.7 L433.4,214.2 L432.2,213.6 L432.4,212.4 L430.0,211.7 L430.3,211.2 L432.2,210.3 L431.5,209.7 L428.2,209.1 L427.9,208.1 L426.0,208.5 L425.5,209.9 L424.2,211.8 L423.2,211.3 L422.3,211.7 L421.3,211.3 L421.8,211.0 L422.0,210.1 L422.4,209.3 L422.2,208.8 L422.6,208.6 L422.9,209.0 L424.1,209.1 L424.6,208.9 L424.2,208.6 L424.3,208.2 L423.5,207.6 L423.0,206.5 L422.2,206.1 L422.2,205.2 L421.2,204.5 L420.4,204.4 L418.7,203.6 L417.4,203.9 L417.0,204.3 L416.2,204.3 L415.7,204.9 L414.3,205.1 L413.6,205.5 L412.6,204.9 L411.3,204.9 L410.0,204.6 L409.2,205.1 L409.0,204.5 L407.8,203.8 L408.0,202.7 L408.5,202.1 L409.0,202.2 L408.3,201.1 L409.9,199.0 L410.8,198.7 L410.9,198.0 L409.6,195.8 L410.6,195.7 L411.5,195.0 L413.1,194.9 L415.1,195.1 L417.4,195.8 L419.0,195.8 L419.8,196.2 L420.4,195.7 L421.1,196.3 L422.8,196.2 L423.7,196.4 L423.6,195.2 L424.1,194.6Z"/>
<path fill="#2c7fb8" d="M407.1,188.9 L403.5,189.0 L401.1,188.7 L401.4,187.6 L404.0,186.8 L406.0,187.2 L407.0,187.6 L406.8,188.3Z"/>
<path fill="#2c7fb8" d="M414.9,153.1 L416.4,152.3 L419.5,153.7 L424.3,154.2 L431.5,156.7 L433.2,157.7 L433.8,159.3 L432.3,160.4 L429.6,161.0 L421.4,159.3 L420.2,159.6 L423.5,161.3 L424.7,164.7 L427.2,165.4 L428.7,166.0 L428.6,164.9 L427.3,163.9 L428.1,163.0 L432.8,164.4 L434.1,163.9 L432.4,162.2 L435.7,160.0 L437.4,160.1 L439.3,160.9 L439.7,159.3 L437.8,158.0 L438.1,156.7 L436.3,155.3 L441.3,156.0 L442.8,157.2 L440.8,157.5 L441.2,158.8 L442.9,159.5 L445.4,159.1 L445.2,157.6 L448.3,156.5 L453.4,154.6 L454.7,154.7 L453.6,156.1 L455.9,156.3 L456.7,155.6 L459.8,155.5 L461.9,154.6 L464.5,155.9 L465.6,154.4 L463.2,153.2 L463.7,152.4 L469.0,153.1 L471.7,153.8 L479.2,156.3 L479.7,155.2 L477.3,154.0 L477.0,153.5 L474.8,153.3 L474.7,152.3 L472.8,150.6 L472.3,149.9 L474.1,148.0 L473.8,146.0 L474.7,145.6 L479.4,146.2 L480.5,147.3 L480.2,149.1 L481.7,149.8 L483.3,151.3 L484.8,154.3 L487.6,155.6 L487.8,157.1 L486.3,160.3 L488.5,160.7 L488.7,159.8 L490.3,159.3 L490.0,158.2 L490.8,157.1 L489.0,155.8 L488.9,154.3 L486.9,154.2 L485.7,152.9 L485.6,150.7 L482.2,149.0 L484.1,147.6 L482.6,146.1 L483.4,146.0 L485.1,147.2 L485.9,149.2 L488.0,149.6 L486.1,148.1 L488.2,147.2 L491.4,147.1 L495.4,148.3 L492.5,146.6 L490.6,144.3 L493.0,143.9 L496.8,144.0 L500.0,143.7 L497.8,142.7 L498.3,141.3 L500.1,141.3 L502.0,140.3 L505.8,140.0 L505.7,139.4 L509.6,139.3 L511.3,139.7 L513.5,138.7 L516.4,138.7 L515.8,137.9 L516.2,137.0 L518.7,136.2 L522.1,136.9 L520.7,137.3 L524.5,137.6 L526.1,138.6 L526.9,138.1 L531.4,138.1 L536.1,139.1 L538.3,139.8 L539.3,140.9 L538.3,141.5 L535.5,142.6 L535.1,143.2 L537.4,143.5 L540.3,144.0 L541.3,143.7 L543.6,145.0 L543.7,144.5 L545.9,144.1 L551.3,144.5 L552.9,145.4 L560.0,145.8 L558.0,144.2 L561.9,144.5 L564.4,144.5 L568.4,145.6 L570.9,147.0 L571.1,147.9 L575.2,149.5 L578.8,150.4 L577.6,148.2 L581.4,149.1 L583.4,148.5 L587.5,149.2 L587.9,148.6 L590.9,148.9 L587.1,146.9 L587.9,146.0 L604.4,147.4 L607.7,148.6 L614.3,150.3 L620.4,149.9 L624.1,150.2 L626.9,151.1 L629.0,152.7 L631.9,153.3 L633.5,152.9 L636.4,152.8 L640.2,153.3 L643.0,153.0 L648.8,155.0 L649.8,154.3 L646.4,152.9 L645.6,151.9 L651.8,152.5 L655.1,152.4 L661.5,153.4 L665.4,154.4 L678.9,163.4 L678.2,164.4 L675.6,164.2 L678.9,165.5 L682.7,167.4 L684.4,168.0 L685.9,169.0 L686.3,169.6 L682.3,169.1 L679.6,170.9 L678.4,171.2 L677.7,172.8 L676.9,174.3 L677.6,175.4 L672.9,173.7 L670.4,175.6 L668.5,174.7 L667.9,175.7 L665.1,175.4 L666.4,177.0 L666.8,179.3 L668.0,180.3 L670.7,180.8 L674.4,184.4 L672.8,184.5 L674.1,186.5 L676.1,187.6 L674.0,188.9 L676.2,191.7 L673.9,192.3 L675.8,194.9 L675.1,197.2 L672.7,195.5 L668.4,191.8 L661.8,186.3 L659.2,182.9 L659.3,181.5 L658.1,180.3 L660.4,179.8 L660.4,176.7 L660.6,174.3 L661.7,172.4 L659.0,169.0 L657.0,169.2 L658.4,171.2 L656.9,173.8 L651.9,170.9 L648.2,171.7 L648.1,175.7 L651.3,177.2 L647.9,177.8 L645.3,178.0 L643.5,176.3 L640.2,175.9 L639.2,177.1 L633.1,176.7 L627.7,177.4 L626.3,182.1 L624.2,187.9 L627.6,188.2 L629.9,189.8 L632.2,190.3 L632.4,189.1 L634.7,189.3 L639.9,192.0 L641.8,194.1 L642.4,196.6 L644.6,199.6 L646.7,203.7 L646.3,207.4 L646.9,209.2 L646.1,212.2 L645.3,215.1 L644.9,216.6 L643.0,218.2 L641.7,218.2 L639.7,216.9 L638.0,218.8 L638.2,219.7 L637.6,219.2 L636.8,217.9 L637.8,217.9 L636.3,214.8 L634.3,212.6 L635.5,211.7 L638.3,212.2 L638.0,209.6 L636.9,206.9 L637.0,205.9 L636.5,203.6 L633.7,204.4 L632.6,205.4 L629.5,205.4 L627.0,203.0 L623.4,201.2 L619.4,200.4 L616.8,197.9 L615.0,196.4 L613.5,195.3 L610.3,192.7 L607.9,191.8 L604.4,191.1 L601.9,191.1 L599.7,191.6 L599.1,192.8 L600.6,193.4 L601.6,194.8 L601.1,195.6 L601.1,198.3 L601.9,199.4 L600.1,201.0 L597.1,200.0 L594.8,200.2 L593.2,199.4 L591.9,199.1 L590.1,200.9 L587.6,201.3 L586.2,202.0 L583.4,201.6 L581.5,201.6 L579.6,200.3 L576.9,199.1 L574.7,198.7 L572.3,199.0 L570.7,199.5 L567.3,198.5 L565.8,196.6 L563.0,195.9 L561.1,195.7 L558.2,194.6 L557.7,197.2 L559.3,198.7 L558.3,200.4 L555.1,199.8 L553.1,199.7 L551.1,198.5 L549.0,198.5 L546.8,197.7 L544.4,198.9 L541.7,201.1 L539.8,201.5 L539.1,201.8 L537.3,200.2 L534.9,200.5 L533.5,199.5 L531.9,199.0 L530.2,197.5 L528.9,197.1 L526.3,197.7 L522.9,196.3 L522.5,197.6 L515.0,191.2 L511.6,189.3 L511.9,188.5 L508.2,190.9 L506.4,191.0 L505.9,189.6 L503.0,188.8 L501.3,189.4 L499.5,186.8 L495.8,186.3 L494.5,187.3 L490.1,188.2 L489.4,188.9 L482.5,189.7 L481.9,190.6 L484.0,192.3 L482.3,192.9 L483.0,193.6 L481.5,194.8 L485.3,196.6 L485.3,197.7 L482.4,197.6 L482.1,198.4 L479.1,197.1 L476.0,197.1 L474.2,198.2 L471.5,197.2 L466.6,195.4 L463.5,195.5 L460.2,198.2 L460.5,200.1 L458.0,198.6 L457.1,201.4 L457.9,201.9 L457.2,203.8 L459.3,205.6 L460.8,205.5 L462.5,207.2 L462.6,208.5 L463.8,208.9 L463.2,210.4 L461.3,210.9 L459.9,213.5 L462.3,216.0 L462.5,217.7 L465.4,220.7 L464.4,221.8 L464.2,222.5 L463.2,222.3 L461.4,220.7 L460.8,220.6 L459.4,220.0 L458.5,219.0 L456.5,218.4 L455.3,218.8 L454.8,218.3 L451.7,217.1 L448.5,216.7 L446.7,216.3 L446.5,216.6 L443.4,214.4 L440.9,213.4 L438.8,211.9 L440.2,211.5 L441.5,209.3 L440.2,208.3 L443.0,207.3 L442.9,206.7 L441.1,207.1 L441.0,206.0 L441.9,205.3 L443.8,205.1 L443.9,204.3 L443.2,202.9 L443.7,201.5 L443.6,200.8 L440.4,199.9 L439.2,200.0 L437.8,198.8 L436.3,199.2 L433.6,198.3 L433.5,197.8 L432.6,196.7 L431.0,196.6 L430.7,195.8 L431.1,195.3 L429.5,193.9 L427.5,194.1 L426.9,194.0 L426.5,194.6 L425.8,194.5 L425.0,192.9 L424.3,192.0 L424.7,191.8 L426.3,191.9 L426.9,191.3 L426.2,190.7 L424.8,190.3 L424.8,189.8 L423.9,189.3 L422.4,187.7 L422.7,187.1 L422.3,185.9 L420.3,185.3 L419.3,185.6 L418.9,185.0 L416.8,184.4 L415.9,182.9 L415.5,181.8 L414.5,181.2 L415.2,180.4 L414.2,178.2 L415.2,176.8 L414.9,176.3 L416.7,175.0 L414.5,173.9 L417.8,170.9 L419.1,169.5 L419.5,168.3 L416.5,166.7 L416.9,165.2 L414.9,163.5 L415.6,161.5 L412.9,158.9 L414.1,157.2 L411.1,155.7 L411.0,154.2 L412.3,154.0ZM649.4,197.9 L655.0,202.3 L651.4,201.5 L652.9,205.2 L656.8,207.8 L658.0,209.6 L655.4,208.1 L655.4,210.0 L653.5,207.9 L652.0,205.4 L649.7,202.6 L648.7,200.7 L646.1,197.4 L642.9,194.9 L640.1,191.5 L640.9,190.3 L639.1,189.2 L639.6,188.8 L641.6,190.5 L644.4,192.9 L646.5,195.3ZM447.7,144.1 L450.4,142.3 L449.4,141.4 L452.2,140.3 L456.4,139.1 L461.2,138.7 L463.2,137.9 L465.9,137.7 L467.6,138.5 L467.1,139.1 L462.4,140.1 L458.4,141.0 L454.8,143.0 L453.7,145.0 L452.3,147.0 L453.6,148.8 L457.7,150.6 L456.8,150.7 L451.3,150.5 L450.3,149.5 L447.1,148.9 L446.3,147.8 L447.7,147.3 L447.1,146.2 L449.3,144.4ZM497.9,129.8 L501.8,130.6 L507.3,132.3 L509.2,134.0 L506.3,134.2 L501.6,133.7 L498.3,132.9 L495.5,131.6 L493.1,131.3 L495.4,130.2ZM512.5,133.2 L517.6,134.3 L518.2,135.1 L510.9,135.8 L510.3,133.3 L511.2,133.1ZM575.3,139.3 L579.5,139.4 L586.8,140.4 L588.0,141.9 L582.1,141.9 L580.3,142.4 L575.2,141.0 L573.9,139.6ZM589.7,141.2 L597.1,141.4 L596.6,142.2 L593.8,142.0ZM587.4,143.9 L590.8,144.7 L591.9,145.3 L589.5,145.3 L585.9,145.0 L585.4,144.9 L585.7,144.1ZM658.8,150.3 L657.2,150.4 L655.7,149.7 L656.2,148.8ZM69.8,148.8 L72.8,149.4 L72.2,149.7 L69.6,150.2 L67.2,150.3ZM47.1,163.4 L60.6,154.4 L62.1,156.1 L63.3,158.3 L61.0,159.7 L61.4,160.3 L63.4,158.6 L67.5,159.0 L67.9,161.1 L64.8,162.1 L61.6,162.3 L58.5,164.6 L57.1,165.1 L55.5,165.0 L55.3,164.2 L53.9,163.5 L55.0,162.5 L53.7,162.1 L51.3,162.4 L51.5,161.6 L53.1,160.8 L50.2,161.3 L49.5,162.4ZM426.8,130.9 L429.3,130.6 L431.5,130.6 L432.1,131.0 L432.6,130.6 L433.7,130.3 L436.1,130.7 L435.7,130.9 L434.0,131.2 L432.8,131.3 L432.8,131.6 L431.3,131.9 L429.5,131.5 L429.9,130.9Z"/>
<path fill="#41b6c4" d="M512.3,219.6 L511.2,220.1 L509.0,221.9 L508.6,223.7 L507.8,223.7 L506.9,222.5 L504.2,222.4 L503.1,220.3 L502.1,220.3 L501.5,217.7 L498.4,215.8 L494.9,216.0 L492.5,216.4 L489.9,214.0 L487.9,213.1 L484.1,211.2 L483.7,211.0 L478.8,212.5 L481.3,222.0 L480.3,222.2 L478.3,220.2 L476.7,219.4 L474.4,219.9 L473.7,220.8 L473.5,220.2 L473.7,219.1 L473.1,218.2 L470.5,217.3 L469.0,215.0 L467.7,214.4 L467.4,213.5 L469.5,213.8 L469.1,211.9 L470.7,211.5 L472.6,211.8 L472.4,209.4 L471.6,207.8 L469.5,207.9 L467.6,207.3 L465.6,208.4 L463.8,208.9 L462.6,208.5 L462.5,207.2 L460.8,205.5 L459.3,205.6 L457.2,203.8 L457.9,201.9 L457.1,201.4 L458.0,198.6 L460.5,200.1 L460.2,198.2 L463.5,195.5 L466.6,195.4 L471.5,197.2 L474.2,198.2 L476.0,197.1 L479.1,197.1 L482.1,198.4 L482.4,197.6 L485.3,197.7 L485.3,196.6 L481.5,194.8 L483.0,193.6 L482.3,192.9 L484.0,192.3 L481.9,190.6 L482.5,189.7 L489.4,188.9 L490.1,188.2 L494.5,187.3 L495.8,186.3 L499.5,186.8 L501.3,189.4 L503.0,188.8 L505.9,189.6 L506.4,191.0 L508.2,190.9 L511.9,188.5 L511.6,189.3 L515.0,191.2 L522.5,197.6 L522.9,196.3 L526.3,197.7 L528.9,197.1 L530.2,197.5 L531.9,199.0 L533.5,199.5 L534.9,200.5 L537.3,200.2 L539.1,201.8 L538.3,203.4 L536.7,203.7 L537.8,206.2 L537.1,207.4 L532.7,206.5 L533.2,211.1 L532.3,211.7 L528.6,212.7 L532.2,217.2 L531.0,217.9 L531.7,219.4 L530.3,219.0 L528.9,218.0 L525.7,217.8 L522.2,217.7 L521.6,218.0 L518.2,216.9 L517.2,217.4 L517.4,219.0 L513.6,218.1 L512.4,218.4Z"/>
<path fill="#41b6c4" d="M506.4,232.3 L506.1,230.7 L502.9,229.6 L500.4,228.3 L498.7,227.1 L495.7,225.3 L494.0,222.6 L493.2,222.1 L490.9,222.3 L490.0,221.7 L489.2,219.7 L486.0,218.3 L484.6,219.8 L483.0,220.7 L483.7,222.0 L481.3,222.0 L478.8,212.5 L483.7,211.0 L484.1,211.2 L487.9,213.1 L489.9,214.0 L492.5,216.4 L494.9,216.0 L498.4,215.8 L501.5,217.7 L502.1,220.3 L503.1,220.3 L504.2,222.4 L506.9,222.5 L507.8,223.7 L508.6,223.7 L509.0,221.9 L511.2,220.1 L512.3,219.6 L513.0,219.8 L511.7,221.5 L513.6,222.5 L514.9,221.8 L517.8,223.2 L515.7,225.1 L514.0,224.8 L513.1,224.9 L512.6,224.1 L512.7,223.0 L510.0,223.5 L509.8,225.2 L509.3,226.7 L507.4,226.5 L507.2,227.7 L508.9,228.3 L509.9,230.2 L509.4,232.9 L507.6,232.3Z"/>
<path fill="#2c7fb8" d="M539.8,201.5 L541.1,203.3 L543.4,204.7 L546.8,205.6 L549.1,207.7 L549.7,210.7 L551.0,211.8 L553.6,212.2 L556.5,212.6 L559.8,214.2 L561.2,214.5 L563.2,216.8 L565.1,218.4 L567.4,218.3 L572.0,218.9 L574.7,218.6 L576.9,218.9 L580.7,220.5 L583.3,220.5 L584.6,221.3 L586.4,219.9 L589.4,219.0 L592.5,218.9 L594.5,218.0 L595.3,216.6 L596.3,215.8 L595.5,214.9 L594.3,213.9 L594.5,212.3 L595.8,212.5 L598.2,213.0 L599.5,211.6 L602.1,210.6 L602.6,209.0 L603.6,208.2 L606.4,207.9 L608.2,208.2 L607.8,207.3 L604.9,205.5 L602.8,204.7 L601.8,205.6 L599.5,205.2 L598.6,205.5 L597.4,204.5 L597.3,202.0 L597.1,200.0 L600.1,201.0 L601.9,199.4 L601.1,198.3 L601.1,195.6 L601.6,194.8 L600.6,193.4 L599.1,192.8 L599.7,191.6 L601.9,191.1 L604.4,191.1 L607.9,191.8 L610.3,192.7 L613.5,195.3 L615.0,196.4 L616.8,197.9 L619.4,200.4 L623.4,201.2 L627.0,203.0 L629.5,205.4 L632.6,205.4 L633.7,204.4 L636.5,203.6 L637.0,205.9 L636.9,206.9 L638.0,209.6 L638.3,212.2 L635.5,211.7 L634.3,212.6 L636.3,214.8 L637.8,217.9 L636.8,217.9 L637.6,219.2 L635.3,217.7 L635.4,219.2 L632.8,220.3 L633.9,221.6 L632.0,221.6 L630.5,220.7 L630.1,222.6 L628.5,224.0 L627.6,225.6 L625.0,226.4 L624.1,227.6 L622.1,228.3 L622.7,227.1 L621.7,226.1 L622.5,224.4 L620.7,223.0 L619.3,223.9 L617.8,225.7 L617.3,227.4 L615.3,227.5 L614.7,228.7 L616.7,230.5 L618.6,230.9 L619.2,232.1 L621.3,232.8 L622.8,231.0 L625.2,232.0 L626.7,232.1 L627.6,233.4 L624.9,234.2 L624.5,235.6 L622.9,236.9 L622.6,238.7 L625.5,240.1 L627.4,242.7 L629.6,245.1 L631.8,247.1 L632.5,249.1 L631.3,249.8 L632.3,251.2 L633.9,252.0 L634.2,254.1 L634.2,256.2 L633.1,256.4 L632.3,259.3 L631.3,262.7 L629.9,265.8 L627.3,268.2 L624.6,270.4 L622.1,270.7 L621.0,271.9 L620.0,271.0 L619.0,272.3 L616.0,273.6 L613.7,274.0 L613.4,276.8 L612.2,277.0 L611.3,275.1 L611.6,274.0 L608.5,273.2 L607.5,273.6 L605.1,273.0 L603.8,271.9 L603.9,270.4 L601.8,269.9 L600.5,268.9 L598.8,270.3 L596.7,270.6 L594.9,270.6 L593.8,271.3 L592.7,271.6 L593.5,274.6 L592.3,274.6 L592.0,273.9 L591.7,272.9 L590.2,273.6 L589.1,273.1 L587.3,272.2 L587.6,270.0 L586.1,269.5 L585.2,267.1 L582.8,267.5 L582.6,264.4 L584.3,262.2 L583.9,260.1 L583.4,258.1 L582.3,257.4 L581.2,255.9 L579.9,256.1 L577.4,255.7 L577.9,254.6 L576.5,253.0 L575.2,254.1 L573.2,253.4 L571.0,255.1 L569.4,257.0 L567.7,257.4 L566.5,256.7 L565.3,256.6 L563.6,256.0 L562.6,256.7 L561.5,258.6 L560.9,256.5 L559.6,257.1 L557.0,256.9 L554.3,256.3 L552.3,255.1 L550.4,254.6 L549.4,253.3 L548.1,253.0 L545.5,251.2 L543.6,250.5 L542.8,251.1 L539.3,249.2 L536.7,247.6 L535.4,244.7 L537.1,245.1 L536.9,243.7 L535.6,242.4 L535.3,240.3 L532.2,237.2 L528.3,236.1 L527.1,234.1 L525.2,232.9 L524.6,232.2 L523.8,230.7 L523.6,229.7 L522.2,229.1 L521.5,229.3 L520.3,226.9 L520.7,226.3 L520.2,225.7 L521.9,224.5 L523.2,224.0 L525.6,224.3 L525.8,222.7 L528.4,222.4 L528.8,221.3 L531.7,219.9 L531.7,219.4 L531.0,217.9 L532.2,217.2 L528.6,212.7 L532.3,211.7 L533.2,211.1 L532.7,206.5 L537.1,207.4 L537.8,206.2 L536.7,203.7 L538.3,203.4 L539.1,201.8ZM613.9,281.2 L612.2,282.4 L610.2,281.6 L609.7,279.3 L610.7,278.2 L613.0,277.4 L614.3,277.5 L615.0,278.5 L614.2,279.6Z"/>
<path fill="#2c7fb8" d="M532.2,237.2 L535.3,240.3 L535.6,242.4 L536.9,243.7 L537.1,245.1 L535.4,244.7 L536.7,247.6 L539.3,249.2 L542.8,251.1 L541.6,252.3 L541.2,254.7 L543.6,255.7 L545.9,257.0 L549.1,258.5 L552.3,258.8 L553.8,260.1 L555.6,260.4 L558.4,261.0 L560.3,260.9 L560.3,259.9 L559.7,258.2 L559.6,257.1 L560.9,256.5 L561.5,258.6 L561.6,259.1 L563.9,260.1 L565.2,259.7 L567.1,259.9 L568.9,259.8 L568.7,258.2 L567.7,257.4 L569.4,257.0 L571.0,255.1 L573.2,253.4 L575.2,254.1 L576.5,253.0 L577.9,254.6 L577.4,255.7 L579.9,256.1 L580.3,257.1 L579.7,257.6 L580.2,259.2 L578.5,258.7 L576.0,260.5 L576.4,262.0 L575.5,264.2 L575.6,265.5 L575.0,267.6 L573.2,267.0 L573.5,269.7 L573.1,270.6 L573.5,271.7 L572.5,272.4 L570.7,268.2 L570.1,268.2 L569.9,269.9 L568.5,268.5 L569.0,267.1 L570.0,266.9 L570.6,264.7 L569.3,264.2 L567.2,264.3 L565.0,263.9 L564.4,262.1 L563.4,262.0 L561.4,260.8 L560.9,262.6 L562.8,264.0 L561.5,265.0 L561.2,265.9 L562.7,266.6 L562.5,268.2 L563.6,270.2 L564.2,272.3 L564.1,273.3 L562.5,273.3 L559.8,273.8 L560.2,275.8 L559.2,277.3 L556.2,279.1 L554.0,282.1 L552.5,283.8 L550.4,285.5 L550.5,286.7 L549.5,287.3 L547.5,288.3 L546.5,288.4 L546.0,290.4 L546.7,293.8 L547.1,296.0 L546.3,298.5 L546.6,302.9 L545.4,303.0 L544.5,305.0 L545.2,305.9 L543.1,306.6 L542.4,308.4 L541.6,309.2 L539.3,306.7 L538.0,303.1 L537.0,300.4 L536.1,299.2 L534.7,296.7 L533.9,293.4 L533.3,291.8 L530.9,288.2 L529.5,283.1 L528.5,279.8 L528.1,276.6 L527.4,274.1 L524.3,275.7 L522.6,275.4 L519.3,272.2 L520.3,271.3 L519.5,270.3 L516.6,268.1 L517.9,266.3 L522.9,266.3 L522.1,264.0 L520.7,262.7 L520.1,260.7 L518.5,259.6 L520.5,256.8 L523.2,257.0 L525.0,254.3 L525.9,251.6 L527.5,249.0 L527.1,247.1 L528.6,245.6 L526.5,244.3 L525.4,242.6 L524.0,240.3 L524.8,239.1 L528.3,239.8 L530.6,239.4Z"/>
<path fill="#2c7fb8" d="M525.2,232.9 L527.1,234.1 L528.3,236.1 L532.2,237.2 L530.6,239.4 L528.3,239.8 L524.8,239.1 L524.0,240.3 L525.4,242.6 L526.5,244.3 L528.6,245.6 L527.1,247.1 L527.5,249.0 L525.9,251.6 L525.0,254.3 L523.2,257.0 L520.5,256.8 L518.5,259.6 L520.1,260.7 L520.7,262.7 L522.1,264.0 L522.9,266.3 L517.9,266.3 L516.6,268.1 L514.9,267.4 L514.0,265.5 L512.0,263.5 L508.0,264.0 L504.3,264.0 L501.2,264.4 L501.6,261.4 L504.7,260.0 L504.3,258.8 L503.2,258.4 L502.8,256.1 L500.5,254.9 L499.4,253.4 L498.1,252.0 L502.0,253.3 L504.2,252.9 L505.5,253.3 L505.9,252.7 L507.5,252.9 L510.2,251.8 L509.8,249.6 L510.8,248.1 L512.4,248.1 L512.5,247.4 L514.2,247.1 L515.0,247.3 L515.7,246.6 L515.3,245.0 L515.9,243.4 L517.1,242.8 L515.9,241.0 L518.0,241.1 L518.4,240.2 L518.0,239.2 L518.8,238.1 L518.3,236.8 L517.5,235.7 L518.5,234.5 L520.6,234.0 L523.0,233.7 L524.0,233.2Z"/>
<path fill="#2c7fb8" d="M572.5,272.4 L572.7,274.2 L571.9,273.8 L572.3,275.9 L571.5,274.6 L571.2,273.3 L570.5,272.0 L569.4,270.5 L567.3,270.4 L567.6,271.4 L567.1,272.9 L566.1,272.4 L565.8,272.8 L565.2,272.5 L564.2,272.3 L563.6,270.2 L562.5,268.2 L562.7,266.6 L561.2,265.9 L561.5,265.0 L562.8,264.0 L560.9,262.6 L561.4,260.8 L563.4,262.0 L564.4,262.1 L565.0,263.9 L567.2,264.3 L569.3,264.2 L570.6,264.7 L570.0,266.9 L569.0,267.1 L568.5,268.5 L569.9,269.9 L570.1,268.2 L570.7,268.2Z"/>
<path fill="#41b6c4" d="M441.0,222.0 L444.2,223.0 L446.6,222.6 L448.5,222.8 L450.7,221.4 L453.0,221.3 L455.3,222.6 L455.8,223.5 L455.8,224.8 L457.5,225.4 L458.5,226.2 L457.2,226.9 L458.4,229.9 L458.1,230.7 L459.6,232.8 L458.6,233.3 L457.8,232.6 L455.2,232.2 L454.3,232.7 L452.0,233.1 L450.8,233.0 L448.4,234.0 L446.7,234.0 L445.5,233.5 L443.2,234.2 L442.4,233.7 L442.5,235.2 L442.0,235.8 L441.5,236.3 L440.5,235.2 L441.2,234.2 L439.9,234.4 L438.0,233.8 L436.7,235.3 L433.5,235.6 L431.6,234.2 L429.2,234.1 L428.8,235.2 L427.4,235.5 L425.1,234.1 L422.8,234.1 L421.2,231.6 L419.5,230.1 L420.3,228.1 L418.9,226.8 L421.0,224.4 L424.2,224.2 L424.9,222.3 L428.9,222.6 L431.2,220.9 L433.6,220.2 L437.1,220.2ZM420.7,223.7 L419.1,225.1 L418.3,223.8 L418.2,223.3 L418.7,223.0 L419.2,221.4 L418.1,220.7 L420.1,219.9 L422.0,220.2 L422.4,221.2 L424.3,222.1 L424.0,222.7 L421.5,222.8Z"/>
<path fill="#7fcdbb" d="M455.3,222.6 L458.1,222.2 L458.7,222.9 L459.6,223.3 L459.3,224.0 L460.6,224.9 L460.1,225.7 L461.2,226.4 L462.2,226.8 L462.6,228.6 L461.8,228.7 L460.7,227.2 L460.6,226.8 L459.7,226.8 L458.9,226.1 L458.5,226.2 L457.5,225.4 L455.8,224.8 L455.8,223.5Z"/>
<path fill="#41b6c4" d="M598.4,298.1 L596.2,296.9 L594.2,297.0 L594.4,294.9 L592.4,294.9 L592.5,297.8 L591.6,301.6 L591.0,304.0 L591.3,305.8 L592.8,305.9 L593.9,308.3 L594.4,310.6 L595.8,312.1 L597.2,312.4 L598.5,313.7 L597.8,314.8 L596.2,315.1 L596.0,313.8 L594.1,312.6 L593.7,313.1 L592.7,312.1 L592.3,310.8 L591.0,309.3 L589.8,308.1 L589.5,309.6 L589.0,308.2 L589.1,306.5 L589.6,304.0 L590.5,301.3 L591.6,298.9 L590.5,296.5 L590.4,295.3 L590.0,293.8 L588.2,291.8 L587.5,290.5 L588.3,290.0 L588.8,287.7 L587.6,286.0 L586.0,284.1 L584.5,281.8 L585.4,281.3 L586.0,278.5 L587.6,278.4 L588.8,277.2 L590.0,276.6 L591.1,277.4 L591.5,279.0 L593.0,279.1 L592.9,281.9 L593.3,284.2 L595.4,282.6 L596.2,283.1 L597.5,283.0 L597.8,282.1 L599.6,282.3 L601.6,284.4 L602.1,287.0 L604.3,289.3 L604.4,291.5 L603.8,292.7 L601.7,292.3 L598.8,292.8 L597.5,295.0Z"/>
<path fill="#2c7fb8" d="M607.5,273.6 L604.8,275.9 L603.3,278.4 L603.1,280.2 L605.3,282.9 L607.9,286.3 L610.2,288.0 L611.9,290.0 L613.5,294.9 L613.7,299.5 L611.9,301.2 L609.5,302.9 L607.8,305.1 L605.1,307.5 L604.1,305.8 L604.6,304.1 L602.8,302.6 L604.7,301.5 L607.1,301.3 L605.9,299.7 L609.6,297.7 L609.5,294.6 L608.8,292.9 L608.9,290.3 L608.1,288.4 L606.1,286.6 L604.4,284.3 L602.0,281.2 L599.0,279.6 L599.5,278.7 L600.9,278.0 L599.6,275.7 L596.8,275.7 L595.4,273.3 L593.8,271.3 L594.9,270.6 L596.7,270.6 L598.8,270.3 L600.5,268.9 L601.8,269.9 L603.9,270.4 L603.8,271.9 L605.1,273.0Z"/>
<path fill="#7fcdbb" d="M600.8,302.2 L599.8,300.8 L598.4,298.1 L597.5,295.0 L598.8,292.8 L601.7,292.3 L603.8,292.7 L605.8,293.7 L606.7,291.9 L608.8,292.9 L609.5,294.6 L609.6,297.7 L605.9,299.7 L607.1,301.3 L604.7,301.5 L602.8,302.6Z"/>
<path fill="#41b6c4" d="M639.0,281.6 L640.5,282.4 L641.1,281.7 L641.4,282.4 L641.2,283.4 L642.3,285.3 L642.1,287.5 L640.9,288.3 L640.8,290.5 L641.6,292.5 L642.9,292.8 L643.8,292.5 L646.9,294.0 L646.9,295.4 L647.7,296.0 L647.6,297.2 L645.6,295.9 L644.6,294.6 L644.2,295.5 L642.5,294.0 L640.5,294.3 L639.3,293.8 L639.2,292.7 L639.9,292.0 L639.1,291.4 L638.9,292.3 L637.6,290.9 L637.1,289.7 L636.6,287.2 L637.7,288.1 L637.3,284.0 L637.6,281.6ZM653.9,308.0 L654.3,309.7 L654.5,311.2 L653.9,313.6 L652.9,310.9 L651.9,312.2 L652.8,314.2 L652.2,315.4 L649.4,313.9 L648.6,312.0 L649.2,310.8 L647.7,309.5 L647.0,310.6 L646.0,310.5 L644.3,312.0 L643.9,311.2 L644.6,309.0 L646.0,308.2 L647.2,307.3 L648.1,308.5 L649.8,307.7 L650.1,306.6 L651.7,306.5 L651.4,304.5 L653.4,305.7 L653.7,307.0ZM637.4,300.3 L638.1,302.4 L636.7,303.8 L635.6,305.6 L632.7,308.1 L633.7,306.3 L635.3,304.7 L636.5,302.9ZM651.9,301.1 L650.1,300.4 L650.2,301.3 L651.0,302.9 L649.9,303.5 L649.6,301.7 L648.9,301.5 L648.4,299.9 L649.8,300.1 L649.7,299.2 L648.0,297.2 L650.2,297.2 L651.0,298.2ZM642.7,298.9 L644.2,299.7 L645.7,299.7 L645.7,300.8 L644.8,301.9 L643.4,302.7 L643.2,301.5 L643.2,300.1ZM648.0,303.1 L647.3,304.0 L646.7,305.6 L646.0,306.4 L644.5,304.6 L644.9,303.9 L645.4,303.2 L645.5,301.5 L646.7,301.4 L646.5,303.1 L648.0,300.6ZM641.6,295.8 L641.2,298.1 L640.1,296.8 L638.7,294.8 L640.7,294.9Z"/>
<path fill="#2c7fb8" d="M351.7,236.5 L353.0,237.6 L355.1,237.4 L357.3,238.0 L358.3,238.0 L359.1,239.7 L359.2,241.3 L359.9,244.1 L360.5,244.6 L360.1,245.6 L357.2,246.1 L356.2,247.1 L354.9,247.3 L354.8,249.2 L352.2,250.2 L351.4,251.5 L349.6,252.3 L347.3,252.6 L343.7,254.6 L343.6,257.7 L343.3,257.7 L333.6,257.7 L334.9,256.7 L336.9,256.4 L338.7,254.6 L339.9,253.9 L341.8,251.7 L341.3,248.5 L342.2,246.2 L342.6,244.9 L344.0,243.1 L346.3,241.9 L347.9,240.8 L349.4,238.1 L350.1,236.5Z"/>
<path fill="#7fcdbb" d="M384.0,250.7 L382.9,246.1 L381.6,245.0 L381.5,244.4 L379.7,242.8 L379.4,240.8 L380.8,239.4 L381.2,237.2 L380.8,234.7 L381.2,233.4 L383.5,232.3 L385.0,232.7 L385.0,234.0 L386.8,233.0 L387.0,233.5 L385.9,234.8 L386.0,236.0 L386.8,236.6 L386.6,238.9 L385.2,240.2 L385.6,241.6 L386.8,241.7 L387.4,242.9 L388.2,243.3 L388.1,245.4 L387.1,246.1 L386.5,246.9 L385.0,247.9 L385.2,249.0 L385.1,250.1Z"/>
<path fill="#41b6c4" d="M335.2,291.8 L335.9,291.3 L336.3,289.8 L337.1,289.7 L338.6,290.4 L339.9,289.9 L340.8,290.1 L341.2,289.5 L350.3,289.5 L350.9,287.6 L350.5,287.3 L349.5,276.0 L348.5,264.7 L351.9,264.7 L359.5,270.4 L367.1,276.1 L367.7,277.3 L369.1,278.1 L370.2,278.5 L370.2,280.2 L372.7,279.9 L372.7,285.9 L371.5,287.7 L371.3,289.3 L369.3,289.7 L366.2,289.9 L365.3,290.9 L363.8,291.0 L362.4,291.0 L361.8,290.5 L360.6,290.9 L358.4,291.9 L358.0,292.7 L356.2,293.9 L355.9,294.6 L354.9,295.1 L353.8,294.8 L353.2,295.4 L352.8,297.2 L351.0,299.4 L351.1,300.2 L350.4,301.4 L350.6,302.9 L349.6,303.3 L349.1,303.6 L348.7,302.5 L348.1,302.8 L347.7,302.7 L347.3,303.5 L345.5,303.5 L344.8,303.1 L344.5,303.3 L343.8,302.6 L344.0,301.8 L343.7,301.5 L343.2,301.7 L343.3,300.9 L343.8,300.2 L342.8,299.1 L342.6,298.4 L342.1,297.8 L341.6,297.8 L341.0,298.1 L340.3,298.5 L339.7,299.0 L338.7,298.8 L338.1,298.1 L337.7,298.1 L337.1,298.4 L336.7,298.4 L336.6,297.5 L336.7,296.7 L336.5,295.6 L335.7,294.9 L335.2,293.4Z"/>
<path fill="#41b6c4" d="M343.6,309.9 L342.9,309.8 L342.4,310.9 L341.8,310.9 L341.3,310.3 L341.5,309.3 L340.5,307.7 L339.9,308.0 L339.4,308.0 L338.8,308.2 L338.9,307.2 L338.5,306.5 L338.6,305.8 L338.1,304.7 L337.4,303.7 L335.6,303.7 L335.1,304.2 L334.4,304.2 L334.0,304.8 L333.8,305.6 L332.5,306.7 L331.5,305.2 L330.6,304.1 L330.1,303.8 L329.5,303.3 L329.2,302.1 L328.9,301.5 L328.2,301.1 L329.3,299.8 L330.0,299.9 L330.6,299.5 L331.1,299.5 L331.5,299.1 L331.3,298.3 L331.5,298.0 L331.6,297.1 L332.7,297.1 L334.3,297.8 L334.8,297.7 L335.0,297.4 L336.3,297.6 L336.6,297.5 L336.7,298.4 L337.1,298.4 L337.7,298.1 L338.1,298.1 L338.7,298.8 L339.7,299.0 L340.3,298.5 L341.0,298.1 L341.6,297.8 L342.1,297.8 L342.6,298.4 L342.8,299.1 L343.8,300.2 L343.3,300.9 L343.2,301.7 L343.7,301.5 L344.0,301.8 L343.8,302.6 L344.5,303.3 L344.1,303.5 L343.9,304.4 L344.4,305.5 L345.0,307.6 L344.1,307.9 L343.9,308.2 L344.1,308.8 L343.9,309.9Z"/>
<path fill="#2c7fb8" d="M356.4,317.0 L355.4,317.0 L353.8,316.5 L352.3,316.5 L349.6,317.0 L347.9,317.7 L345.6,318.7 L345.2,318.6 L345.4,316.4 L345.6,316.1 L345.5,315.1 L344.6,314.0 L343.8,313.8 L343.2,313.1 L343.7,311.9 L343.4,310.6 L343.6,309.9 L343.9,309.9 L344.1,308.8 L343.9,308.2 L344.1,307.9 L345.0,307.6 L344.4,305.5 L343.9,304.4 L344.1,303.5 L344.5,303.3 L344.8,303.1 L345.5,303.5 L347.3,303.5 L347.7,302.7 L348.1,302.8 L348.7,302.5 L349.1,303.6 L349.6,303.3 L350.6,302.9 L351.6,303.5 L352.0,304.3 L353.0,304.9 L353.8,304.2 L354.9,304.1 L356.5,304.8 L357.1,308.5 L356.1,310.7 L355.5,313.7 L356.5,315.9Z"/>
<path fill="#7fcdbb" d="M356.5,304.8 L354.9,304.1 L353.8,304.2 L353.0,304.9 L352.0,304.3 L351.6,303.5 L350.6,302.9 L350.4,301.4 L351.1,300.2 L351.0,299.4 L352.8,297.2 L353.2,295.4 L353.8,294.8 L354.9,295.1 L355.9,294.6 L356.2,293.9 L358.0,292.7 L358.4,291.9 L360.6,290.9 L361.8,290.5 L362.4,291.0 L363.8,291.0 L363.7,292.2 L364.0,293.4 L365.3,295.1 L365.3,296.4 L368.0,297.0 L367.9,298.8 L367.5,299.6 L366.3,299.8 L365.8,300.9 L365.1,301.2 L363.0,301.2 L362.0,301.0 L361.3,301.4 L360.2,301.2 L356.2,301.3 L356.2,302.8Z"/>
<path fill="#41b6c4" d="M367.3,313.9 L365.4,314.5 L364.9,313.6 L364.3,311.9 L364.1,310.6 L364.6,308.3 L364.1,307.3 L363.9,305.2 L363.9,303.4 L362.9,302.0 L363.0,301.2 L365.1,301.2 L364.8,302.6 L365.5,303.4 L366.3,304.3 L366.4,305.6 L366.8,306.1 L366.7,312.1Z"/>
<path fill="#2c7fb8" d="M382.6,317.5 L380.2,318.5 L379.3,318.3 L378.5,318.9 L376.6,318.9 L375.4,317.2 L374.6,315.3 L373.0,313.6 L371.2,313.6 L369.2,313.6 L369.3,309.4 L369.3,307.7 L369.7,306.1 L370.4,305.3 L371.5,303.7 L371.3,303.0 L371.7,301.9 L371.2,300.4 L371.3,299.5 L371.4,297.2 L372.1,296.1 L372.4,294.6 L373.0,294.0 L375.5,293.7 L377.8,294.7 L378.6,295.7 L379.8,295.7 L380.9,295.1 L383.7,296.4 L384.8,296.4 L386.2,295.3 L387.5,295.4 L388.2,295.0 L389.4,295.1 L391.2,295.9 L393.0,294.4 L393.5,294.5 L395.1,297.4 L395.5,297.4 L396.5,298.4 L396.2,298.9 L396.1,299.7 L394.2,301.8 L393.6,303.4 L393.3,304.8 L392.8,305.4 L392.3,307.2 L391.1,308.3 L390.8,309.6 L390.3,310.6 L390.1,311.7 L388.5,312.6 L387.2,311.5 L386.3,311.6 L384.9,313.1 L384.3,313.2 L383.2,315.7Z"/>
<path fill="#7fcdbb" d="M393.2,324.1 L392.9,323.9 L391.5,324.3 L390.1,323.9 L389.0,324.1 L385.3,324.0 L385.6,322.0 L384.7,320.2 L383.7,319.8 L383.2,318.6 L382.6,318.2 L382.6,317.5 L383.2,315.7 L384.3,313.2 L384.9,313.1 L386.3,311.6 L387.2,311.5 L388.5,312.6 L390.1,311.7 L390.3,310.6 L390.8,309.6 L391.1,308.3 L392.3,307.2 L392.8,305.4 L393.3,304.8 L393.6,303.4 L394.2,301.8 L396.1,299.7 L396.2,298.9 L396.5,298.4 L395.5,297.4 L395.6,296.5 L396.2,296.4 L397.2,298.0 L397.3,299.8 L397.3,301.5 L398.6,303.9 L397.3,303.9 L396.6,304.1 L395.6,303.8 L395.1,305.0 L396.5,306.5 L397.5,307.0 L397.8,308.1 L398.6,309.9 L398.2,310.6 L397.1,313.2 L396.5,313.7 L396.3,315.7 L396.6,316.8 L396.4,317.6 L397.5,319.0 L397.7,319.9 L398.6,321.3 L399.6,322.1 L399.7,323.3 L400.0,324.1 L399.8,325.5 L398.0,324.9 L396.1,324.2Z"/>
<path fill="#41b6c4" d="M396.2,296.4 L396.5,295.1 L395.0,295.1 L395.0,293.4 L394.0,292.4 L394.9,289.0 L397.8,286.5 L397.8,283.1 L398.6,277.8 L399.0,276.7 L398.1,275.8 L398.0,275.0 L397.2,274.3 L396.5,270.2 L398.8,268.8 L407.9,273.8 L417.1,278.8 L417.6,289.2 L415.6,289.0 L414.6,290.9 L414.0,292.5 L414.5,293.2 L413.8,293.9 L414.1,295.0 L413.5,296.1 L413.3,297.1 L414.1,296.9 L414.6,297.9 L414.7,299.5 L415.5,300.2 L415.5,300.9 L414.1,301.3 L412.9,302.4 L411.3,305.2 L409.2,306.4 L406.9,306.3 L406.3,306.5 L406.5,307.4 L405.3,308.3 L404.4,309.4 L401.5,310.4 L400.9,309.8 L400.5,309.7 L400.1,310.4 L398.2,310.6 L398.6,309.9 L397.8,308.1 L397.5,307.0 L396.5,306.5 L395.1,305.0 L395.6,303.8 L396.6,304.1 L397.3,303.9 L398.6,303.9 L397.3,301.5 L397.3,299.8 L397.2,298.0Z"/>
<path fill="#41b6c4" d="M388.6,340.4 L386.2,337.8 L384.7,335.6 L383.3,332.9 L383.4,332.0 L383.9,331.2 L384.5,329.3 L384.9,327.4 L385.7,327.2 L389.1,327.2 L389.0,324.1 L390.1,323.9 L391.5,324.3 L392.9,323.9 L393.2,324.1 L393.0,325.2 L393.7,326.6 L395.4,326.3 L396.0,326.9 L395.0,329.9 L396.1,331.4 L396.3,333.5 L396.0,335.2 L395.3,336.5 L393.3,336.4 L392.1,335.1 L391.9,336.2 L390.3,336.6 L389.5,337.2 L390.4,339.0Z"/>
<path fill="#41b6c4" d="M434.2,320.8 L434.1,323.9 L435.0,324.2 L434.2,325.2 L433.4,325.9 L432.5,327.2 L432.0,328.4 L431.9,330.5 L431.3,331.5 L431.3,333.5 L430.6,334.2 L430.5,335.8 L430.2,336.0 L430.0,337.4 L430.6,338.6 L430.7,341.8 L431.1,344.2 L430.8,345.5 L431.3,347.0 L432.6,348.5 L433.8,351.8 L432.9,351.5 L429.8,352.0 L429.1,352.3 L428.5,354.0 L428.9,355.1 L428.5,358.2 L428.1,360.8 L428.7,361.3 L430.3,362.3 L431.0,361.9 L431.1,364.7 L429.3,364.6 L428.4,363.2 L427.6,362.1 L425.8,361.7 L425.4,360.4 L423.9,361.2 L422.1,360.8 L421.4,359.6 L419.9,359.4 L418.8,359.4 L418.7,358.6 L417.9,358.6 L416.9,358.4 L415.5,358.8 L414.5,358.7 L413.9,359.0 L414.1,355.9 L413.3,354.9 L413.2,353.3 L413.5,351.7 L413.1,350.7 L413.1,349.1 L410.3,349.1 L410.5,348.1 L409.3,348.1 L409.2,348.6 L407.7,348.7 L407.2,350.2 L406.8,350.9 L405.5,350.5 L404.7,350.9 L403.2,351.1 L402.4,349.7 L401.8,348.9 L401.2,347.3 L400.7,345.4 L393.9,345.3 L393.0,345.6 L392.4,345.6 L391.4,346.0 L391.1,345.1 L391.7,344.9 L391.8,343.7 L392.1,343.0 L393.0,342.5 L393.6,342.8 L394.4,341.8 L395.6,341.8 L395.8,342.5 L396.6,343.0 L398.0,341.3 L399.4,340.1 L400.0,339.3 L399.9,337.1 L400.9,334.6 L402.0,333.2 L403.5,331.9 L403.7,331.1 L403.8,330.2 L404.2,329.2 L404.0,327.8 L404.3,325.4 L404.8,323.8 L405.5,322.4 L405.6,320.8 L405.8,319.0 L406.7,317.7 L407.9,316.8 L409.8,317.7 L411.3,318.7 L413.0,319.0 L414.7,319.5 L415.4,317.9 L415.7,317.7 L416.8,317.9 L419.3,316.6 L420.2,317.2 L421.0,317.1 L421.3,316.5 L422.2,316.2 L423.9,316.5 L425.4,316.6 L426.1,316.3 L427.6,318.5 L428.6,318.8 L429.2,318.3 L430.3,318.5 L431.6,318.0 L432.1,319.1 L434.2,320.8Z"/>
<path fill="#41b6c4" d="M461.8,296.8 L462.4,297.6 L462.4,298.7 L461.1,299.3 L462.1,300.0 L461.3,301.4 L460.7,300.9 L460.2,301.2 L458.9,301.1 L458.9,300.3 L458.6,299.6 L459.4,298.4 L460.1,297.2 L461.1,297.4Z"/>
<path fill="#7fcdbb" d="M477.2,299.7 L478.4,299.5 L479.4,298.6 L480.3,298.6 L480.4,299.3 L480.2,300.8 L480.3,302.2 L479.8,303.1 L479.3,305.9 L478.3,308.9 L477.0,312.2 L475.1,316.0 L473.2,319.0 L470.5,322.5 L468.2,324.6 L464.8,327.3 L462.7,329.2 L460.1,332.4 L459.6,333.8 L459.1,334.4 L457.7,332.2 L457.6,322.7 L459.6,319.7 L460.2,318.9 L461.7,318.9 L463.7,317.0 L466.7,316.9 L473.0,309.1 L471.1,309.1 L463.5,306.0 L462.6,305.1 L461.7,303.8 L460.8,302.4 L461.3,301.4 L462.1,300.0 L462.8,300.5 L463.3,301.6 L464.4,302.7 L465.5,302.7 L467.7,302.0 L470.2,301.7 L472.2,300.9 L473.3,300.7 L474.1,300.2 L475.4,300.2 L476.1,300.1Z"/>
<path fill="#41b6c4" d="M457.7,332.2 L459.1,334.4 L457.4,335.4 L456.8,336.5 L456.0,336.7 L455.6,338.6 L454.9,339.6 L454.4,341.4 L453.4,342.2 L450.2,339.6 L450.0,338.1 L441.7,332.8 L441.3,332.5 L441.3,329.7 L442.0,328.6 L443.1,326.9 L443.9,325.0 L442.9,322.0 L442.6,320.7 L441.5,318.9 L442.9,317.3 L444.4,315.6 L445.6,316.0 L445.6,317.5 L446.4,318.4 L448.1,318.4 L451.0,320.6 L451.7,320.6 L452.3,320.5 L452.8,320.8 L454.3,321.1 L455.0,320.0 L457.1,318.9 L458.0,319.7 L459.6,319.7 L457.6,322.7Z"/>
<path fill="#7fcdbb" d="M433.3,333.0 L434.2,334.4 L434.0,336.0 L433.4,336.3 L432.1,336.1 L431.4,337.6 L430.0,337.4 L430.2,336.0 L430.5,335.8 L430.6,334.2 L431.3,333.5 L431.9,333.8Z"/>
<path fill="#c7e9b4" d="M441.3,332.5 L441.7,332.8 L450.0,338.1 L450.2,339.6 L453.4,342.2 L452.3,345.5 L452.4,346.9 L453.9,347.9 L453.9,348.6 L453.3,350.1 L453.4,350.9 L453.2,352.2 L454.0,353.8 L454.8,356.4 L455.7,357.0 L453.8,358.5 L451.3,359.5 L449.9,359.5 L449.0,360.3 L447.4,360.3 L446.8,360.6 L444.1,359.9 L442.4,360.1 L441.8,356.6 L441.1,355.3 L440.6,354.6 L438.4,354.1 L437.1,353.4 L435.6,352.9 L434.7,352.5 L433.8,351.8 L432.6,348.5 L431.3,347.0 L430.8,345.5 L431.1,344.2 L430.7,341.8 L431.6,341.6 L432.5,340.7 L433.4,339.3 L434.0,338.8 L434.0,337.9 L433.5,337.3 L433.4,336.3 L434.0,336.0 L434.2,334.4 L433.3,333.0 L434.1,332.6 L436.6,332.7Z"/>
<path fill="#41b6c4" d="M442.4,360.1 L444.1,359.9 L446.8,360.6 L447.4,360.3 L449.0,360.3 L449.9,359.5 L451.3,359.5 L453.8,358.5 L455.7,357.0 L456.0,358.2 L455.8,360.8 L456.0,363.1 L455.9,367.1 L456.3,368.4 L455.5,370.3 L454.5,372.1 L453.0,373.7 L450.9,374.7 L448.2,376.0 L445.5,378.8 L444.6,379.3 L442.9,381.1 L442.0,381.7 L441.7,383.6 L442.6,385.6 L443.0,387.1 L443.0,387.9 L443.4,387.8 L443.2,390.3 L442.7,391.6 L443.2,392.0 L442.8,393.1 L441.8,394.0 L439.9,394.9 L437.1,396.3 L436.1,397.3 L436.2,398.4 L436.8,398.6 L436.5,399.9 L434.8,399.9 L434.7,398.7 L434.4,397.6 L434.3,396.6 L434.9,393.7 L434.4,391.9 L433.5,388.2 L436.0,385.2 L436.7,383.3 L437.1,383.1 L437.4,381.6 L437.1,380.8 L437.3,378.8 L437.8,377.0 L437.9,373.7 L436.8,372.9 L435.7,372.7 L435.2,372.0 L434.2,371.5 L432.3,371.5 L432.2,370.6 L432.0,368.7 L439.0,366.5 L440.3,367.8 L441.0,367.6 L441.8,368.2 L441.9,369.3 L441.4,370.5 L441.5,372.3 L442.9,373.9 L443.7,372.1 L444.7,371.6 L444.7,368.2 L443.8,366.3 L443.0,365.5 L442.2,365.5 L441.6,362.1Z"/>
<path fill="#ffffcc" d="M433.5,388.2 L432.3,387.9 L431.5,388.2 L430.4,387.8 L429.5,387.8 L428.1,386.6 L426.4,386.2 L425.8,384.5 L425.8,383.6 L424.9,383.3 L422.4,380.4 L421.8,378.9 L421.3,378.5 L420.5,376.4 L423.1,376.7 L423.8,377.0 L424.6,376.9 L425.9,375.2 L428.0,373.1 L428.8,372.9 L429.1,371.9 L430.4,370.9 L432.2,370.6 L432.3,371.5 L434.2,371.5 L435.2,372.0 L435.7,372.7 L436.8,372.9 L437.9,373.7 L437.8,377.0 L437.3,378.8 L437.1,380.8 L437.4,381.6 L437.1,383.1 L436.7,383.3 L436.0,385.2Z"/>
<path fill="#7fcdbb" d="M476.6,362.6 L477.2,363.7 L477.7,365.5 L477.9,368.6 L478.4,369.8 L478.1,371.1 L477.6,371.8 L477.0,370.3 L476.5,371.1 L476.8,373.0 L476.5,374.1 L475.9,374.7 L475.6,376.9 L474.4,380.0 L473.1,383.6 L471.3,388.6 L470.1,392.2 L468.9,395.2 L467.0,395.8 L464.9,396.9 L463.7,396.3 L462.0,395.3 L461.5,394.0 L461.5,391.6 L460.9,389.6 L460.8,387.7 L461.3,385.8 L462.4,385.3 L462.5,384.5 L463.7,382.5 L464.0,380.8 L463.5,379.6 L463.2,377.9 L463.2,375.5 L464.1,374.1 L464.5,372.4 L465.6,372.3 L466.9,371.8 L467.8,371.3 L468.8,371.3 L470.2,369.8 L472.2,368.2 L472.9,366.8 L472.7,365.7 L473.6,366.0 L475.0,364.2 L475.1,362.7 L475.9,361.5Z"/>
</g>
<!-- legend -->
<g>
<clipPath id="lgclip"><rect x="155.3" y="516.7" width="48.7" height="11.8" rx="1"/></clipPath>
<path clip-path="url(#lgclip)" d="M144.80,528.5l11.8,-11.8M150.46,528.5l11.8,-11.8M156.11,528.5l11.8,-11.8M161.77,528.5l11.8,-11.8M167.43,528.5l11.8,-11.8M173.08,528.5l11.8,-11.8M178.74,528.5l11.8,-11.8M184.40,528.5l11.8,-11.8M190.05,528.5l11.8,-11.8M195.71,528.5l11.8,-11.8M201.37,528.5l11.8,-11.8" stroke="#e4e4e4" stroke-width="1.7" fill="none"/>
<rect x="155.3" y="516.7" width="48.7" height="11.8" rx="1" fill="none" stroke="#ccc" stroke-width="0.9"/>
<path d="M179.5,514V516.7" stroke="#888" stroke-width="0.8"/>
<rect x="223.3" y="517" width="78.45" height="11" fill="#ffffcc"/>
<rect x="301.75" y="517" width="78.45" height="11" fill="#c7e9b4"/>
<rect x="380.2" y="517" width="78.45" height="11" fill="#7fcdbb"/>
<rect x="458.65" y="517" width="78.45" height="11" fill="#41b6c4"/>
<rect x="537.1" y="517" width="78.45" height="11" fill="#2c7fb8"/>
<path d="M615.55,517H689.5L694,522.5L689.5,528H615.55Z" fill="#253494"/>
<path d="M223.3,517H689.5L694,522.5L689.5,528H223.3Z" fill="none" stroke="#bbb" stroke-width="0.6"/>
<path d="M223.3,514.5V528M301.75,514.5V528M380.2,514.5V528M458.65,514.5V528M537.1,514.5V528M615.55,514.5V528" stroke="#777" stroke-width="0.6" fill="none"/>
<text class="leg" x="156.2" y="509.9" textLength="46.4" lengthAdjust="spacingAndGlyphs">No data</text>
<text class="leg" x="216.0" y="509.9" textLength="15.2" lengthAdjust="spacingAndGlyphs">$0</text>
<text class="leg" x="273.6" y="509.9" textLength="57.4" lengthAdjust="spacingAndGlyphs">$1 million</text>
<text class="leg" x="348.5" y="509.9" textLength="64.9" lengthAdjust="spacingAndGlyphs">$10 million</text>
<text class="leg" x="423.2" y="509.9" textLength="72.8" lengthAdjust="spacingAndGlyphs">$100 million</text>
<text class="leg" x="511.1" y="509.9" textLength="53.6" lengthAdjust="spacingAndGlyphs">$1 billion</text>
<text class="leg" x="585.4" y="509.9" textLength="62.0" lengthAdjust="spacingAndGlyphs">$10 billion</text>
</g>
<!-- footer -->
<text class="foot" x="15.8" y="561" textLength="143" lengthAdjust="spacingAndGlyphs"><tspan font-weight="bold">Data source:</tspan> World Bank</text>
<text class="foot" x="15.8" y="581" textLength="198" lengthAdjust="spacingAndGlyphs"><tspan font-weight="bold">Note:</tspan> Data is given in current US$.</text>
<text class="foot" x="832.3" y="561" text-anchor="end" textLength="295" lengthAdjust="spacingAndGlyphs">OurWorldinData.org/government-spending | CC BY</text>
</svg>
</body>
</html>
